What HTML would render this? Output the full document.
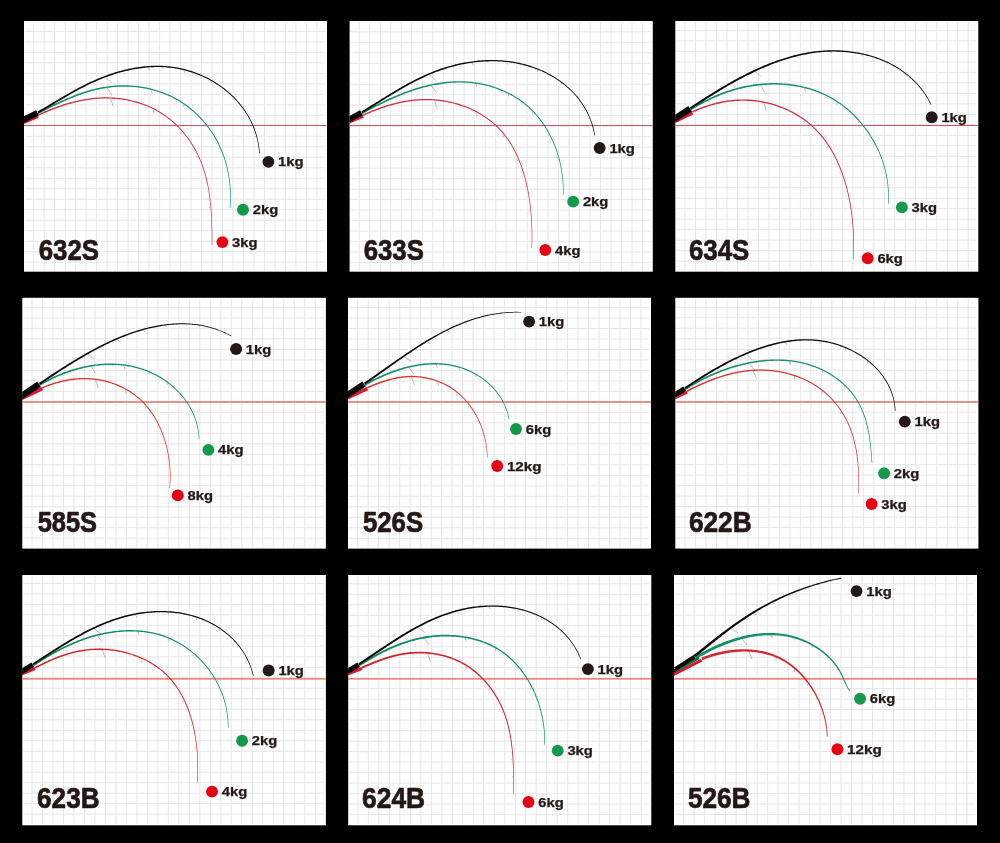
<!DOCTYPE html>
<html><head><meta charset="utf-8"><title>Bend curves</title>
<style>
html,body{margin:0;padding:0;background:#000;}
body{width:1000px;height:843px;overflow:hidden;font-family:"Liberation Sans",sans-serif;}
svg{display:block;will-change:transform;}
.kg{font-family:"Liberation Sans",sans-serif;font-weight:bold;font-size:12.2px;fill:#231815;stroke:#231815;stroke-width:0.25px;}
.lab{font-family:"Liberation Sans",sans-serif;font-weight:bold;font-size:29px;fill:#231815;stroke:#231815;stroke-width:0.7px;stroke-linejoin:round;}
</style></head><body>
<svg width="1000" height="843" viewBox="0 0 1000 843">
<rect x="0" y="0" width="1000" height="843" fill="#000"/>
<g>
<rect x="24.00" y="21.00" width="303.00" height="250.70" fill="#fff"/>
<path d="M33.70 22.00V270.70M44.19 22.00V270.70M54.68 22.00V270.70M65.17 22.00V270.70M75.66 22.00V270.70M86.15 22.00V270.70M96.64 22.00V270.70M107.13 22.00V270.70M117.62 22.00V270.70M128.11 22.00V270.70M138.60 22.00V270.70M149.09 22.00V270.70M159.58 22.00V270.70M170.07 22.00V270.70M180.56 22.00V270.70M191.05 22.00V270.70M201.54 22.00V270.70M212.03 22.00V270.70M222.52 22.00V270.70M233.01 22.00V270.70M243.50 22.00V270.70M253.99 22.00V270.70M264.48 22.00V270.70M274.97 22.00V270.70M285.46 22.00V270.70M295.95 22.00V270.70M306.44 22.00V270.70M316.93 22.00V270.70M25.00 31.40H325.00M25.00 41.89H325.00M25.00 52.38H325.00M25.00 62.87H325.00M25.00 73.36H325.00M25.00 83.85H325.00M25.00 94.34H325.00M25.00 104.83H325.00M25.00 115.32H325.00M25.00 125.81H325.00M25.00 136.30H325.00M25.00 146.79H325.00M25.00 157.28H325.00M25.00 167.77H325.00M25.00 178.26H325.00M25.00 188.75H325.00M25.00 199.24H325.00M25.00 209.73H325.00M25.00 220.22H325.00M25.00 230.71H325.00M25.00 241.20H325.00M25.00 251.69H325.00M25.00 262.18H325.00" stroke="#e6e6e6" stroke-width="1" fill="none"/>
<path d="M24.00 125.50H327.00" stroke="#cf5466" stroke-width="1.20" fill="none"/>
<path d="M38.07 115.94 L39.64 115.21 L41.23 114.48 L42.81 113.77 L44.41 113.07 L46.01 112.38 L47.62 111.70 L49.24 111.03 L50.86 110.38 L52.49 109.74 L54.12 109.11 L55.76 108.49 L57.41 107.89 L59.06 107.30 L60.72 106.73 L62.38 106.17 L64.05 105.63 L65.72 105.10 L67.39 104.59 L69.08 104.10 L70.76 103.63 L72.45 103.17 L74.15 102.73 L75.84 102.32 L77.55 101.92 L79.25 101.54 L80.96 101.18 L82.67 100.84 L84.39 100.52 L86.11 100.23 L87.83 99.95 L89.55 99.70 L91.28 99.48 L93.01 99.27 L94.74 99.09 L96.47 98.94 L98.21 98.81 L99.95 98.70 L101.69 98.62 L103.43 98.57 L105.17 98.54 L106.91 98.54 L108.66 98.56 L110.40 98.62 L112.14 98.70 L113.88 98.80 L115.62 98.94 L117.36 99.10 L119.10 99.29 L120.83 99.50 L122.55 99.74 L124.27 100.01 L125.99 100.31 L127.70 100.63 L129.41 100.98 L131.10 101.36 L132.79 101.76 L134.47 102.20 L136.14 102.65 L137.81 103.14 L139.46 103.65 L141.10 104.19 L142.73 104.76 L144.35 105.35 L145.96 105.98 L147.55 106.62 L149.13 107.30 L150.70 108.00 L152.25 108.73 L153.78 109.49 L155.30 110.28 L156.80 111.09 L158.29 111.93 L159.76 112.80 L161.21 113.69 L162.64 114.61 L164.05 115.56 L165.45 116.54 L166.83 117.54 L168.18 118.56 L169.52 119.61 L170.84 120.69 L172.14 121.79 L173.42 122.91 L174.68 124.05 L175.92 125.22 L177.15 126.41 L178.35 127.63 L179.53 128.86 L180.69 130.12 L181.83 131.39 L182.95 132.69 L184.04 134.01 L185.12 135.34 L186.17 136.70 L187.21 138.07 L188.22 139.46 L189.21 140.87 L190.18 142.30 L191.12 143.74 L192.04 145.20 L192.95 146.68 L193.82 148.17 L194.68 149.68 L195.51 151.20 L196.32 152.74 L197.10 154.29 L197.86 155.85 L198.60 157.43 L199.32 159.02 L200.01 160.62 L200.67 162.24 L201.31 163.87 L201.93 165.50 L202.52 167.15 L203.09 168.81 L203.63 170.48 L204.15 172.15 L204.65 173.84 L205.13 175.54 L205.58 177.24 L206.01 178.95 L206.42 180.67 L206.82 182.39 L207.19 184.13 L207.54 185.86 L207.87 187.61 L208.19 189.35 L208.49 191.11 L208.77 192.86 L209.03 194.62 L209.28 196.38 L209.51 198.15 L209.73 199.92 L209.93 201.69 L210.12 203.46 L210.30 205.23 L210.46 207.00 L210.61 208.78 L210.75 210.55 L210.88 212.32 L210.99 214.09 L211.10 215.86 L211.19 217.62 L211.28 219.38 L211.35 221.14 L211.42 222.90 L211.48 224.65 L211.54 226.40 L211.58 228.14 L211.62 229.88 L211.66 231.61 L211.69 233.33 L211.71 235.05 L211.73 236.76 L211.75 238.47 L211.76 240.16 L211.77 241.85 L211.78 243.52 L211.79 245.19 L212.34 245.19 L212.34 243.52 L212.33 241.85 L212.33 240.16 L212.32 238.46 L212.31 236.76 L212.30 235.05 L212.28 233.33 L212.26 231.60 L212.23 229.87 L212.19 228.13 L212.15 226.38 L212.11 224.63 L212.05 222.88 L211.99 221.12 L211.92 219.36 L211.84 217.59 L211.75 215.82 L211.65 214.05 L211.54 212.27 L211.42 210.50 L211.29 208.72 L211.14 206.94 L210.99 205.17 L210.82 203.39 L210.63 201.61 L210.43 199.84 L210.22 198.06 L209.99 196.29 L209.75 194.52 L209.49 192.75 L209.22 190.99 L208.92 189.23 L208.61 187.47 L208.28 185.72 L207.93 183.97 L207.57 182.23 L207.18 180.50 L206.77 178.77 L206.34 177.04 L205.89 175.33 L205.42 173.62 L204.92 171.92 L204.40 170.23 L203.86 168.55 L203.30 166.88 L202.71 165.22 L202.09 163.57 L201.45 161.93 L200.79 160.30 L200.10 158.68 L199.38 157.08 L198.64 155.48 L197.88 153.90 L197.10 152.34 L196.29 150.79 L195.45 149.25 L194.60 147.73 L193.72 146.22 L192.81 144.73 L191.89 143.25 L190.94 141.79 L189.97 140.35 L188.97 138.92 L187.96 137.52 L186.92 136.13 L185.86 134.76 L184.78 133.41 L183.67 132.07 L182.55 130.76 L181.40 129.47 L180.24 128.20 L179.05 126.95 L177.84 125.72 L176.61 124.51 L175.36 123.33 L174.09 122.17 L172.80 121.03 L171.49 119.91 L170.16 118.82 L168.81 117.76 L167.44 116.71 L166.05 115.70 L164.64 114.71 L163.21 113.75 L161.77 112.81 L160.30 111.90 L158.82 111.02 L157.32 110.16 L155.80 109.33 L154.27 108.54 L152.72 107.76 L151.15 107.02 L149.57 106.30 L147.97 105.61 L146.36 104.95 L144.74 104.32 L143.11 103.71 L141.46 103.14 L139.80 102.58 L138.13 102.06 L136.45 101.56 L134.77 101.10 L133.07 100.65 L131.36 100.24 L129.65 99.85 L127.93 99.50 L126.20 99.16 L124.47 98.86 L122.73 98.58 L120.98 98.33 L119.23 98.11 L117.48 97.92 L115.73 97.75 L113.97 97.61 L112.21 97.49 L110.45 97.41 L108.68 97.35 L106.92 97.32 L105.16 97.31 L103.40 97.34 L101.64 97.39 L99.88 97.46 L98.13 97.56 L96.37 97.69 L94.62 97.84 L92.87 98.02 L91.12 98.22 L89.38 98.45 L87.64 98.69 L85.90 98.97 L84.17 99.26 L82.43 99.57 L80.70 99.91 L78.98 100.27 L77.26 100.65 L75.54 101.04 L73.83 101.46 L72.12 101.90 L70.41 102.35 L68.71 102.83 L67.02 103.32 L65.33 103.83 L63.64 104.35 L61.96 104.89 L60.28 105.45 L58.61 106.02 L56.95 106.61 L55.29 107.21 L53.64 107.83 L51.99 108.46 L50.35 109.10 L48.72 109.76 L47.09 110.43 L45.47 111.11 L43.86 111.80 L42.25 112.50 L40.65 113.21 L39.06 113.94 L37.48 114.67Z" fill="#d42d41"/>
<path d="M38.21 114.14 L39.74 113.34 L41.27 112.54 L42.80 111.75 L44.34 110.95 L45.88 110.16 L47.42 109.37 L48.97 108.59 L50.52 107.81 L52.08 107.04 L53.64 106.27 L55.20 105.51 L56.77 104.75 L58.34 104.01 L59.91 103.27 L61.49 102.54 L63.07 101.82 L64.66 101.10 L66.25 100.40 L67.84 99.71 L69.44 99.03 L71.04 98.37 L72.64 97.71 L74.25 97.07 L75.86 96.44 L77.48 95.83 L79.10 95.23 L80.72 94.65 L82.35 94.08 L83.99 93.53 L85.62 92.99 L87.26 92.48 L88.91 91.98 L90.56 91.50 L92.21 91.04 L93.87 90.60 L95.53 90.18 L97.19 89.78 L98.86 89.41 L100.54 89.05 L102.22 88.72 L103.90 88.41 L105.59 88.13 L107.28 87.87 L108.97 87.63 L110.67 87.42 L112.38 87.24 L114.08 87.08 L115.79 86.94 L117.50 86.83 L119.22 86.75 L120.93 86.69 L122.65 86.65 L124.37 86.64 L126.08 86.66 L127.80 86.70 L129.51 86.77 L131.23 86.86 L132.94 86.98 L134.65 87.12 L136.35 87.29 L138.06 87.49 L139.76 87.71 L141.45 87.96 L143.14 88.23 L144.83 88.53 L146.51 88.85 L148.18 89.20 L149.85 89.58 L151.51 89.98 L153.16 90.41 L154.81 90.87 L156.44 91.35 L158.07 91.86 L159.69 92.39 L161.30 92.95 L162.89 93.54 L164.48 94.15 L166.06 94.79 L167.62 95.46 L169.18 96.15 L170.72 96.87 L172.25 97.62 L173.76 98.39 L175.26 99.19 L176.75 100.02 L178.22 100.87 L179.67 101.75 L181.12 102.65 L182.54 103.58 L183.96 104.54 L185.35 105.51 L186.73 106.52 L188.09 107.54 L189.44 108.59 L190.77 109.66 L192.08 110.76 L193.37 111.87 L194.65 113.01 L195.91 114.17 L197.14 115.35 L198.36 116.55 L199.57 117.78 L200.75 119.02 L201.91 120.28 L203.05 121.56 L204.17 122.86 L205.27 124.18 L206.35 125.51 L207.41 126.87 L208.44 128.24 L209.46 129.63 L210.45 131.03 L211.42 132.45 L212.37 133.89 L213.29 135.34 L214.19 136.81 L215.07 138.29 L215.92 139.79 L216.75 141.30 L217.55 142.82 L218.33 144.36 L219.08 145.91 L219.81 147.48 L220.51 149.05 L221.19 150.64 L221.84 152.24 L222.46 153.85 L223.06 155.47 L223.64 157.10 L224.19 158.74 L224.71 160.38 L225.21 162.04 L225.69 163.71 L226.14 165.38 L226.57 167.06 L226.97 168.74 L227.35 170.44 L227.70 172.14 L228.03 173.84 L228.33 175.55 L228.62 177.26 L228.87 178.98 L229.11 180.70 L229.32 182.42 L229.51 184.14 L229.67 185.87 L229.82 187.60 L229.93 189.33 L230.03 191.06 L230.10 192.79 L230.16 194.52 L230.18 196.25 L230.19 197.97 L230.18 199.70 L230.14 201.42 L230.08 203.14 L230.00 204.86 L229.89 206.57 L229.77 208.28 L230.37 208.33 L230.50 206.61 L230.61 204.89 L230.70 203.17 L230.77 201.44 L230.81 199.71 L230.84 197.98 L230.84 196.24 L230.82 194.50 L230.78 192.76 L230.71 191.03 L230.62 189.29 L230.51 187.55 L230.37 185.81 L230.22 184.07 L230.03 182.34 L229.83 180.60 L229.60 178.87 L229.35 177.15 L229.07 175.42 L228.77 173.70 L228.45 171.99 L228.10 170.28 L227.73 168.57 L227.33 166.87 L226.91 165.18 L226.47 163.49 L225.99 161.81 L225.50 160.14 L224.98 158.48 L224.43 156.83 L223.86 155.18 L223.26 153.55 L222.64 151.92 L221.99 150.31 L221.31 148.70 L220.61 147.11 L219.89 145.53 L219.13 143.97 L218.36 142.41 L217.55 140.87 L216.72 139.34 L215.87 137.83 L214.99 136.33 L214.09 134.84 L213.17 133.38 L212.22 131.92 L211.24 130.48 L210.25 129.06 L209.23 127.66 L208.19 126.27 L207.13 124.90 L206.05 123.54 L204.94 122.21 L203.82 120.89 L202.67 119.59 L201.50 118.31 L200.32 117.05 L199.11 115.82 L197.88 114.60 L196.63 113.40 L195.37 112.22 L194.09 111.06 L192.78 109.93 L191.46 108.82 L190.12 107.73 L188.77 106.66 L187.39 105.62 L186.00 104.60 L184.60 103.61 L183.17 102.64 L181.73 101.69 L180.28 100.77 L178.81 99.87 L177.32 99.01 L175.82 98.16 L174.31 97.35 L172.78 96.56 L171.23 95.80 L169.68 95.06 L168.11 94.35 L166.53 93.67 L164.93 93.02 L163.33 92.39 L161.72 91.79 L160.09 91.22 L158.45 90.67 L156.81 90.15 L155.15 89.65 L153.49 89.19 L151.82 88.74 L150.14 88.33 L148.46 87.94 L146.77 87.58 L145.07 87.24 L143.36 86.94 L141.65 86.65 L139.94 86.40 L138.22 86.16 L136.50 85.96 L134.77 85.78 L133.04 85.63 L131.31 85.50 L129.58 85.40 L127.84 85.33 L126.11 85.28 L124.37 85.25 L122.63 85.26 L120.90 85.28 L119.16 85.34 L117.43 85.42 L115.69 85.52 L113.96 85.65 L112.23 85.81 L110.51 85.99 L108.79 86.20 L107.07 86.43 L105.36 86.69 L103.65 86.97 L101.94 87.27 L100.24 87.60 L98.55 87.95 L96.86 88.33 L95.17 88.73 L93.49 89.14 L91.82 89.58 L90.14 90.04 L88.48 90.52 L86.81 91.01 L85.16 91.53 L83.50 92.06 L81.85 92.61 L80.21 93.18 L78.57 93.76 L76.93 94.36 L75.30 94.97 L73.67 95.60 L72.05 96.24 L70.43 96.89 L68.82 97.56 L67.21 98.24 L65.60 98.93 L64.00 99.63 L62.41 100.34 L60.81 101.06 L59.23 101.79 L57.64 102.53 L56.06 103.27 L54.49 104.02 L52.91 104.78 L51.35 105.55 L49.78 106.32 L48.22 107.10 L46.67 107.88 L45.12 108.67 L43.57 109.45 L42.03 110.25 L40.49 111.04 L38.95 111.83 L37.42 112.63Z" fill="#0f9169"/>
<path d="M38.34 113.17 L39.85 112.32 L41.36 111.46 L42.87 110.59 L44.38 109.72 L45.88 108.84 L47.38 107.96 L48.87 107.07 L50.37 106.18 L51.86 105.29 L53.35 104.40 L54.85 103.50 L56.34 102.61 L57.83 101.71 L59.32 100.82 L60.81 99.93 L62.31 99.04 L63.80 98.15 L65.30 97.27 L66.80 96.39 L68.31 95.52 L69.81 94.65 L71.32 93.78 L72.84 92.93 L74.35 92.08 L75.88 91.24 L77.41 90.40 L78.94 89.58 L80.48 88.77 L82.02 87.96 L83.57 87.16 L85.12 86.38 L86.68 85.60 L88.25 84.84 L89.82 84.09 L91.39 83.34 L92.97 82.61 L94.56 81.90 L96.15 81.19 L97.74 80.50 L99.34 79.82 L100.95 79.15 L102.56 78.50 L104.18 77.87 L105.80 77.24 L107.43 76.64 L109.07 76.04 L110.71 75.47 L112.35 74.91 L114.00 74.36 L115.66 73.84 L117.32 73.33 L118.99 72.83 L120.66 72.36 L122.34 71.90 L124.02 71.46 L125.71 71.04 L127.41 70.64 L129.11 70.26 L130.82 69.90 L132.53 69.56 L134.24 69.24 L135.96 68.94 L137.68 68.66 L139.41 68.41 L141.14 68.17 L142.87 67.96 L144.60 67.77 L146.34 67.60 L148.07 67.45 L149.81 67.33 L151.55 67.23 L153.29 67.16 L155.03 67.11 L156.77 67.08 L158.50 67.08 L160.24 67.11 L161.98 67.16 L163.71 67.24 L165.44 67.34 L167.17 67.47 L168.90 67.63 L170.63 67.81 L172.35 68.02 L174.07 68.26 L175.78 68.53 L177.49 68.82 L179.20 69.15 L180.90 69.50 L182.59 69.88 L184.28 70.28 L185.96 70.72 L187.64 71.18 L189.30 71.67 L190.96 72.18 L192.61 72.72 L194.26 73.29 L195.89 73.89 L197.51 74.51 L199.13 75.15 L200.73 75.82 L202.32 76.52 L203.90 77.24 L205.46 77.99 L207.02 78.76 L208.56 79.55 L210.08 80.38 L211.60 81.22 L213.10 82.09 L214.58 82.98 L216.05 83.90 L217.50 84.84 L218.93 85.80 L220.35 86.78 L221.75 87.79 L223.14 88.82 L224.50 89.88 L225.85 90.95 L227.17 92.05 L228.48 93.17 L229.77 94.31 L231.03 95.47 L232.28 96.66 L233.50 97.86 L234.70 99.08 L235.88 100.33 L237.04 101.60 L238.17 102.88 L239.28 104.19 L240.36 105.52 L241.42 106.86 L242.45 108.23 L243.46 109.61 L244.44 111.02 L245.39 112.44 L246.32 113.88 L247.22 115.34 L248.09 116.82 L248.93 118.31 L249.75 119.83 L250.53 121.36 L251.28 122.91 L252.00 124.47 L252.70 126.06 L253.36 127.66 L253.98 129.27 L254.58 130.91 L255.14 132.56 L255.67 134.22 L256.17 135.91 L256.63 137.60 L257.06 139.32 L257.45 141.04 L257.80 142.79 L258.12 144.55 L258.41 146.32 L258.65 148.11 L258.86 149.91 L259.03 151.73 L259.16 153.56 L259.81 153.52 L259.69 151.68 L259.52 149.84 L259.32 148.03 L259.08 146.22 L258.81 144.43 L258.49 142.66 L258.15 140.90 L257.76 139.15 L257.34 137.42 L256.88 135.71 L256.39 134.01 L255.86 132.32 L255.30 130.65 L254.71 129.00 L254.08 127.37 L253.42 125.75 L252.73 124.15 L252.01 122.56 L251.26 121.00 L250.48 119.45 L249.66 117.91 L248.82 116.40 L247.95 114.90 L247.05 113.42 L246.12 111.96 L245.16 110.52 L244.18 109.10 L243.17 107.70 L242.13 106.31 L241.07 104.95 L239.98 103.61 L238.87 102.28 L237.73 100.98 L236.57 99.69 L235.39 98.43 L234.18 97.18 L232.95 95.96 L231.70 94.76 L230.43 93.58 L229.13 92.42 L227.82 91.29 L226.48 90.17 L225.13 89.08 L223.76 88.01 L222.37 86.96 L220.96 85.94 L219.53 84.93 L218.08 83.96 L216.62 83.00 L215.14 82.07 L213.65 81.16 L212.14 80.27 L210.61 79.41 L209.08 78.58 L207.52 77.77 L205.96 76.98 L204.38 76.22 L202.78 75.48 L201.18 74.77 L199.57 74.08 L197.94 73.42 L196.30 72.79 L194.65 72.18 L193.00 71.60 L191.33 71.05 L189.65 70.52 L187.97 70.02 L186.28 69.54 L184.58 69.09 L182.87 68.68 L181.16 68.28 L179.44 67.92 L177.72 67.59 L175.99 67.28 L174.26 67.00 L172.52 66.75 L170.78 66.53 L169.03 66.33 L167.29 66.17 L165.54 66.03 L163.78 65.92 L162.03 65.83 L160.27 65.77 L158.52 65.74 L156.76 65.73 L155.00 65.75 L153.24 65.79 L151.48 65.86 L149.73 65.95 L147.97 66.07 L146.21 66.20 L144.46 66.37 L142.71 66.55 L140.96 66.76 L139.21 66.99 L137.47 67.24 L135.72 67.52 L133.99 67.81 L132.25 68.13 L130.52 68.46 L128.80 68.82 L127.08 69.20 L125.37 69.60 L123.66 70.01 L121.95 70.45 L120.26 70.90 L118.57 71.37 L116.88 71.86 L115.20 72.37 L113.53 72.90 L111.86 73.44 L110.20 74.00 L108.54 74.57 L106.89 75.16 L105.25 75.77 L103.61 76.39 L101.98 77.02 L100.35 77.67 L98.73 78.34 L97.11 79.02 L95.50 79.71 L93.89 80.41 L92.29 81.13 L90.70 81.86 L89.11 82.60 L87.53 83.35 L85.95 84.11 L84.38 84.89 L82.81 85.67 L81.25 86.47 L79.69 87.27 L78.14 88.08 L76.60 88.91 L75.06 89.74 L73.52 90.58 L72.00 91.43 L70.47 92.28 L68.95 93.14 L67.44 94.01 L65.92 94.88 L64.42 95.76 L62.91 96.64 L61.41 97.52 L59.91 98.41 L58.41 99.29 L56.91 100.18 L55.42 101.07 L53.93 101.96 L52.43 102.85 L50.94 103.74 L49.44 104.62 L47.95 105.51 L46.45 106.39 L44.96 107.26 L43.46 108.13 L41.95 109.00 L40.45 109.86 L38.94 110.71 L37.43 111.56Z" fill="#0c0908"/>
<path d="M110.39 98.81L113.46 106.48M153.66 109.73L153.67 113.20M181.59 131.60L180.74 133.93M197.53 156.01L196.50 157.58M206.41 182.48L205.37 183.55M210.00 207.04L209.20 207.79M211.04 226.41L210.47 226.99M107.29 87.94L111.70 94.93M151.47 90.14L152.23 93.53M183.82 104.73L183.57 107.19M205.04 124.37L204.41 126.14M219.48 147.62L218.69 148.89M226.94 170.52L226.23 171.36M229.48 189.35L228.92 189.95M105.81 77.25L111.62 83.13M148.08 67.56L149.88 70.53M184.23 70.47L184.87 72.86M211.47 81.44L211.52 83.32M233.27 98.09L232.97 99.54M248.60 118.50L248.16 119.51M255.75 136.02L255.34 136.72" stroke="#6f6f6f" stroke-opacity="0.5" stroke-width="0.9" fill="none"/>
<g clip-path="url(#cp1)">
<path d="M21.00 123.30L38.00 116.10" stroke="#d81a30" stroke-width="3.60" fill="none"/>
<path d="M21.00 120.80L37.00 112.60" stroke="#0a6e3e" stroke-width="2.90" fill="none"/>
<path d="M21.00 121.00L37.40 112.80" stroke="#070505" stroke-width="5.80" fill="none"/>
</g>
<clipPath id="cp1"><rect x="24.00" y="21.00" width="303.00" height="250.70"/></clipPath>
<circle cx="268.40" cy="161.90" r="5.95" fill="#231815"/>
<text x="278.10" y="166.40" textLength="25.50" lengthAdjust="spacingAndGlyphs" class="kg">1kg</text>
<circle cx="243.00" cy="209.70" r="5.95" fill="#12994a"/>
<text x="252.70" y="214.20" textLength="25.50" lengthAdjust="spacingAndGlyphs" class="kg">2kg</text>
<circle cx="222.40" cy="242.10" r="5.95" fill="#e60012"/>
<text x="232.10" y="246.60" textLength="25.50" lengthAdjust="spacingAndGlyphs" class="kg">3kg</text>
<text x="38.70" y="259.90" textLength="60.30" lengthAdjust="spacingAndGlyphs" class="lab">632S</text>
</g>
<g>
<rect x="349.60" y="21.00" width="303.20" height="250.70" fill="#fff"/>
<path d="M359.30 22.00V270.70M369.79 22.00V270.70M380.28 22.00V270.70M390.77 22.00V270.70M401.26 22.00V270.70M411.75 22.00V270.70M422.24 22.00V270.70M432.73 22.00V270.70M443.22 22.00V270.70M453.71 22.00V270.70M464.20 22.00V270.70M474.69 22.00V270.70M485.18 22.00V270.70M495.67 22.00V270.70M506.16 22.00V270.70M516.65 22.00V270.70M527.14 22.00V270.70M537.63 22.00V270.70M548.12 22.00V270.70M558.61 22.00V270.70M569.10 22.00V270.70M579.59 22.00V270.70M590.08 22.00V270.70M600.57 22.00V270.70M611.06 22.00V270.70M621.55 22.00V270.70M632.04 22.00V270.70M642.53 22.00V270.70M350.60 31.80H650.80M350.60 42.29H650.80M350.60 52.78H650.80M350.60 63.27H650.80M350.60 73.76H650.80M350.60 84.25H650.80M350.60 94.74H650.80M350.60 105.23H650.80M350.60 115.72H650.80M350.60 126.21H650.80M350.60 136.70H650.80M350.60 147.19H650.80M350.60 157.68H650.80M350.60 168.17H650.80M350.60 178.66H650.80M350.60 189.15H650.80M350.60 199.64H650.80M350.60 210.13H650.80M350.60 220.62H650.80M350.60 231.11H650.80M350.60 241.60H650.80M350.60 252.09H650.80M350.60 262.58H650.80" stroke="#e6e6e6" stroke-width="1" fill="none"/>
<path d="M349.60 125.50H652.80" stroke="#cf5466" stroke-width="1.20" fill="none"/>
<path d="M363.10 115.92 L364.66 115.22 L366.23 114.52 L367.80 113.84 L369.38 113.17 L370.96 112.51 L372.55 111.86 L374.15 111.22 L375.75 110.59 L377.36 109.98 L378.97 109.38 L380.59 108.80 L382.21 108.23 L383.84 107.67 L385.47 107.14 L387.11 106.61 L388.75 106.11 L390.40 105.62 L392.05 105.15 L393.71 104.69 L395.37 104.26 L397.04 103.84 L398.71 103.45 L400.38 103.07 L402.06 102.72 L403.74 102.38 L405.42 102.07 L407.11 101.78 L408.80 101.51 L410.50 101.26 L412.19 101.04 L413.90 100.84 L415.60 100.67 L417.31 100.52 L419.02 100.40 L420.73 100.30 L422.44 100.23 L424.16 100.18 L425.88 100.16 L427.60 100.17 L429.33 100.21 L431.05 100.28 L432.78 100.37 L434.50 100.49 L436.22 100.63 L437.94 100.80 L439.66 101.00 L441.38 101.23 L443.09 101.48 L444.80 101.76 L446.51 102.07 L448.21 102.40 L449.90 102.76 L451.59 103.14 L453.27 103.55 L454.94 103.99 L456.60 104.45 L458.26 104.94 L459.90 105.45 L461.54 105.99 L463.16 106.56 L464.78 107.15 L466.38 107.76 L467.97 108.40 L469.54 109.07 L471.11 109.76 L472.65 110.48 L474.19 111.22 L475.70 111.99 L477.20 112.78 L478.69 113.60 L480.16 114.44 L481.61 115.30 L483.04 116.19 L484.45 117.11 L485.84 118.05 L487.21 119.01 L488.56 119.99 L489.89 121.01 L491.20 122.04 L492.48 123.10 L493.75 124.18 L494.98 125.29 L496.20 126.42 L497.38 127.57 L498.55 128.75 L499.68 129.95 L500.80 131.17 L501.89 132.41 L502.96 133.68 L504.00 134.96 L505.02 136.27 L506.01 137.59 L506.99 138.94 L507.94 140.31 L508.87 141.69 L509.77 143.09 L510.66 144.51 L511.52 145.95 L512.36 147.40 L513.18 148.87 L513.98 150.36 L514.75 151.86 L515.51 153.38 L516.25 154.91 L516.96 156.45 L517.66 158.01 L518.33 159.58 L518.99 161.17 L519.62 162.76 L520.24 164.37 L520.84 165.99 L521.42 167.62 L521.98 169.26 L522.52 170.92 L523.04 172.58 L523.55 174.25 L524.04 175.92 L524.51 177.61 L524.96 179.30 L525.40 181.00 L525.82 182.71 L526.22 184.42 L526.61 186.14 L526.98 187.87 L527.33 189.59 L527.67 191.33 L527.99 193.07 L528.30 194.81 L528.59 196.55 L528.87 198.29 L529.14 200.04 L529.39 201.79 L529.62 203.54 L529.84 205.29 L530.05 207.04 L530.24 208.79 L530.42 210.54 L530.59 212.29 L530.74 214.04 L530.89 215.78 L531.02 217.52 L531.13 219.26 L531.24 221.00 L531.33 222.73 L531.42 224.45 L531.49 226.17 L531.55 227.89 L531.60 229.60 L531.63 231.30 L531.66 233.00 L531.68 234.68 L531.69 236.37 L531.69 238.04 L531.68 239.70 L531.65 241.36 L531.63 243.00 L531.59 244.63 L531.54 246.26 L531.49 247.87 L532.03 247.89 L532.10 246.28 L532.15 244.65 L532.19 243.01 L532.23 241.37 L532.25 239.71 L532.27 238.04 L532.28 236.37 L532.28 234.68 L532.27 232.99 L532.24 231.29 L532.21 229.58 L532.17 227.87 L532.11 226.15 L532.05 224.42 L531.97 222.69 L531.88 220.96 L531.78 219.22 L531.67 217.48 L531.55 215.73 L531.41 213.98 L531.26 212.23 L531.10 210.48 L530.93 208.72 L530.74 206.96 L530.54 205.21 L530.32 203.45 L530.09 201.69 L529.85 199.94 L529.59 198.18 L529.32 196.43 L529.03 194.68 L528.73 192.93 L528.41 191.19 L528.07 189.45 L527.72 187.71 L527.36 185.98 L526.97 184.25 L526.58 182.53 L526.16 180.81 L525.73 179.10 L525.28 177.40 L524.81 175.70 L524.33 174.02 L523.82 172.34 L523.30 170.67 L522.76 169.00 L522.20 167.35 L521.63 165.71 L521.03 164.08 L520.42 162.46 L519.78 160.85 L519.13 159.25 L518.45 157.66 L517.76 156.09 L517.04 154.53 L516.31 152.99 L515.55 151.46 L514.77 149.94 L513.97 148.44 L513.15 146.95 L512.31 145.48 L511.44 144.03 L510.56 142.60 L509.65 141.18 L508.71 139.78 L507.76 138.40 L506.78 137.03 L505.78 135.69 L504.75 134.37 L503.70 133.06 L502.63 131.78 L501.53 130.52 L500.40 129.28 L499.26 128.06 L498.08 126.87 L496.88 125.70 L495.66 124.55 L494.41 123.42 L493.14 122.32 L491.84 121.25 L490.52 120.20 L489.18 119.17 L487.82 118.17 L486.43 117.19 L485.03 116.24 L483.60 115.31 L482.16 114.40 L480.69 113.52 L479.21 112.67 L477.71 111.84 L476.20 111.03 L474.67 110.25 L473.12 109.50 L471.56 108.77 L469.98 108.06 L468.39 107.38 L466.79 106.73 L465.17 106.10 L463.54 105.50 L461.90 104.93 L460.25 104.37 L458.59 103.85 L456.92 103.35 L455.24 102.88 L453.55 102.43 L451.85 102.01 L450.15 101.62 L448.44 101.25 L446.72 100.91 L445.00 100.60 L443.28 100.31 L441.55 100.05 L439.81 99.82 L438.07 99.61 L436.34 99.43 L434.59 99.28 L432.85 99.16 L431.11 99.06 L429.36 98.99 L427.62 98.94 L425.88 98.93 L424.14 98.94 L422.40 98.98 L420.67 99.05 L418.94 99.14 L417.21 99.26 L415.48 99.41 L413.76 99.58 L412.04 99.78 L410.32 99.99 L408.61 100.24 L406.90 100.50 L405.20 100.79 L403.49 101.11 L401.80 101.44 L400.10 101.79 L398.41 102.17 L396.73 102.56 L395.05 102.98 L393.37 103.41 L391.70 103.87 L390.03 104.34 L388.37 104.82 L386.71 105.33 L385.06 105.85 L383.41 106.39 L381.77 106.95 L380.13 107.52 L378.50 108.10 L376.88 108.70 L375.26 109.31 L373.64 109.94 L372.04 110.58 L370.44 111.23 L368.84 111.89 L367.25 112.56 L365.67 113.25 L364.09 113.94 L362.53 114.64Z" fill="#d42d41"/>
<path d="M362.16 114.17 L363.66 113.33 L365.17 112.50 L366.68 111.67 L368.20 110.85 L369.73 110.03 L371.26 109.21 L372.80 108.40 L374.35 107.60 L375.90 106.80 L377.45 106.00 L379.02 105.22 L380.58 104.44 L382.16 103.66 L383.74 102.90 L385.32 102.14 L386.91 101.39 L388.50 100.65 L390.10 99.92 L391.71 99.20 L393.32 98.48 L394.93 97.78 L396.55 97.09 L398.17 96.41 L399.80 95.74 L401.43 95.09 L403.06 94.44 L404.70 93.81 L406.35 93.19 L407.99 92.59 L409.64 91.99 L411.30 91.42 L412.96 90.85 L414.62 90.30 L416.28 89.77 L417.95 89.26 L419.62 88.75 L421.30 88.27 L422.97 87.80 L424.65 87.35 L426.34 86.92 L428.02 86.50 L429.71 86.11 L431.40 85.73 L433.09 85.37 L434.79 85.03 L436.48 84.71 L438.18 84.42 L439.88 84.14 L441.59 83.88 L443.29 83.65 L445.00 83.43 L446.71 83.24 L448.41 83.07 L450.13 82.93 L451.84 82.80 L453.55 82.71 L455.26 82.63 L456.98 82.58 L458.70 82.56 L460.41 82.56 L462.13 82.58 L463.85 82.63 L465.57 82.71 L467.28 82.82 L469.00 82.95 L470.72 83.10 L472.43 83.28 L474.14 83.49 L475.85 83.73 L477.56 83.99 L479.26 84.28 L480.95 84.59 L482.64 84.93 L484.33 85.29 L486.00 85.68 L487.67 86.10 L489.34 86.55 L490.99 87.02 L492.64 87.51 L494.27 88.03 L495.90 88.58 L497.52 89.16 L499.12 89.76 L500.72 90.38 L502.30 91.04 L503.87 91.72 L505.43 92.42 L506.97 93.15 L508.50 93.91 L510.01 94.70 L511.51 95.51 L512.99 96.34 L514.46 97.20 L515.91 98.09 L517.34 99.01 L518.75 99.95 L520.14 100.92 L521.52 101.91 L522.87 102.93 L524.21 103.97 L525.52 105.05 L526.81 106.14 L528.09 107.27 L529.34 108.41 L530.57 109.59 L531.78 110.78 L532.96 112.00 L534.13 113.24 L535.27 114.51 L536.40 115.79 L537.50 117.10 L538.58 118.43 L539.63 119.77 L540.67 121.14 L541.68 122.53 L542.67 123.93 L543.64 125.36 L544.59 126.80 L545.51 128.26 L546.41 129.73 L547.29 131.23 L548.15 132.73 L548.98 134.25 L549.79 135.79 L550.58 137.34 L551.34 138.91 L552.08 140.48 L552.79 142.07 L553.49 143.68 L554.16 145.29 L554.80 146.92 L555.42 148.55 L556.02 150.20 L556.60 151.85 L557.15 153.51 L557.67 155.19 L558.17 156.87 L558.65 158.55 L559.10 160.25 L559.53 161.95 L559.93 163.66 L560.31 165.37 L560.66 167.09 L560.99 168.81 L561.29 170.53 L561.57 172.26 L561.82 173.99 L562.05 175.73 L562.25 177.46 L562.43 179.20 L562.58 180.94 L562.70 182.68 L562.80 184.42 L562.88 186.15 L562.92 187.89 L562.94 189.62 L562.94 191.35 L562.91 193.08 L562.85 194.81 L563.45 194.83 L563.51 193.10 L563.55 191.36 L563.57 189.62 L563.55 187.88 L563.52 186.13 L563.45 184.38 L563.36 182.64 L563.24 180.89 L563.10 179.14 L562.93 177.39 L562.73 175.65 L562.51 173.90 L562.27 172.16 L561.99 170.42 L561.70 168.68 L561.38 166.95 L561.03 165.22 L560.66 163.49 L560.26 161.77 L559.84 160.06 L559.39 158.35 L558.92 156.65 L558.42 154.96 L557.90 153.27 L557.35 151.60 L556.78 149.93 L556.19 148.27 L555.57 146.62 L554.93 144.98 L554.26 143.35 L553.57 141.74 L552.85 140.13 L552.12 138.54 L551.35 136.96 L550.57 135.39 L549.76 133.84 L548.93 132.30 L548.07 130.78 L547.19 129.27 L546.29 127.78 L545.36 126.30 L544.42 124.84 L543.44 123.40 L542.45 121.98 L541.43 120.58 L540.40 119.19 L539.33 117.83 L538.25 116.48 L537.14 115.15 L536.01 113.85 L534.86 112.57 L533.69 111.31 L532.50 110.07 L531.28 108.86 L530.04 107.67 L528.78 106.50 L527.50 105.36 L526.19 104.24 L524.87 103.15 L523.52 102.09 L522.15 101.05 L520.77 100.04 L519.36 99.05 L517.93 98.09 L516.49 97.16 L515.03 96.26 L513.55 95.38 L512.05 94.53 L510.54 93.70 L509.01 92.90 L507.47 92.13 L505.91 91.38 L504.34 90.66 L502.76 89.97 L501.16 89.30 L499.55 88.66 L497.93 88.04 L496.29 87.46 L494.65 86.90 L493.00 86.36 L491.33 85.85 L489.66 85.37 L487.98 84.91 L486.30 84.48 L484.60 84.08 L482.90 83.71 L481.19 83.36 L479.48 83.03 L477.76 82.73 L476.04 82.46 L474.31 82.22 L472.58 82.00 L470.85 81.81 L469.11 81.65 L467.38 81.51 L465.64 81.39 L463.90 81.31 L462.16 81.25 L460.43 81.22 L458.69 81.21 L456.95 81.23 L455.22 81.27 L453.48 81.34 L451.75 81.43 L450.02 81.55 L448.29 81.69 L446.56 81.85 L444.84 82.04 L443.11 82.25 L441.39 82.48 L439.67 82.73 L437.95 83.01 L436.23 83.30 L434.52 83.62 L432.80 83.95 L431.09 84.31 L429.39 84.68 L427.68 85.08 L425.98 85.49 L424.28 85.92 L422.58 86.37 L420.89 86.83 L419.20 87.32 L417.51 87.81 L415.83 88.33 L414.15 88.86 L412.48 89.41 L410.80 89.97 L409.13 90.54 L407.47 91.13 L405.81 91.74 L404.15 92.35 L402.50 92.99 L400.85 93.63 L399.21 94.28 L397.57 94.95 L395.93 95.63 L394.30 96.32 L392.68 97.02 L391.06 97.73 L389.44 98.45 L387.83 99.18 L386.23 99.92 L384.63 100.67 L383.03 101.43 L381.44 102.19 L379.86 102.96 L378.28 103.74 L376.71 104.53 L375.14 105.32 L373.58 106.12 L372.03 106.92 L370.48 107.73 L368.94 108.55 L367.40 109.37 L365.88 110.19 L364.35 111.02 L362.84 111.85 L361.33 112.68Z" fill="#0f9169"/>
<path d="M362.29 113.09 L363.79 112.19 L365.29 111.27 L366.79 110.35 L368.28 109.43 L369.78 108.51 L371.27 107.58 L372.76 106.65 L374.26 105.72 L375.75 104.79 L377.24 103.85 L378.73 102.92 L380.23 101.99 L381.72 101.05 L383.21 100.12 L384.71 99.19 L386.20 98.26 L387.70 97.33 L389.20 96.41 L390.70 95.48 L392.20 94.57 L393.71 93.65 L395.21 92.74 L396.72 91.84 L398.23 90.94 L399.75 90.05 L401.27 89.16 L402.79 88.28 L404.32 87.40 L405.85 86.54 L407.38 85.68 L408.92 84.83 L410.46 83.99 L412.01 83.16 L413.56 82.34 L415.11 81.53 L416.68 80.73 L418.24 79.94 L419.82 79.16 L421.40 78.39 L422.98 77.64 L424.57 76.90 L426.17 76.17 L427.78 75.46 L429.39 74.76 L431.01 74.08 L432.63 73.41 L434.26 72.75 L435.91 72.12 L437.56 71.50 L439.21 70.89 L440.88 70.30 L442.55 69.73 L444.23 69.18 L445.91 68.64 L447.60 68.12 L449.30 67.62 L451.00 67.13 L452.71 66.67 L454.42 66.22 L456.14 65.79 L457.87 65.37 L459.59 64.98 L461.32 64.61 L463.06 64.25 L464.80 63.92 L466.54 63.60 L468.29 63.30 L470.03 63.02 L471.78 62.77 L473.54 62.53 L475.29 62.31 L477.05 62.12 L478.80 61.94 L480.56 61.78 L482.32 61.65 L484.08 61.54 L485.84 61.45 L487.60 61.38 L489.36 61.33 L491.12 61.30 L492.88 61.30 L494.63 61.32 L496.39 61.36 L498.14 61.42 L499.89 61.51 L501.64 61.62 L503.39 61.75 L505.14 61.90 L506.88 62.08 L508.61 62.29 L510.35 62.51 L512.08 62.77 L513.81 63.04 L515.53 63.34 L517.24 63.67 L518.96 64.02 L520.66 64.39 L522.37 64.79 L524.06 65.22 L525.75 65.67 L527.43 66.14 L529.11 66.65 L530.78 67.17 L532.44 67.73 L534.09 68.30 L535.73 68.91 L537.37 69.54 L538.99 70.19 L540.60 70.87 L542.20 71.58 L543.79 72.31 L545.36 73.06 L546.92 73.84 L548.47 74.64 L550.00 75.47 L551.52 76.33 L553.02 77.21 L554.51 78.11 L555.98 79.04 L557.43 79.99 L558.86 80.97 L560.28 81.97 L561.67 82.99 L563.05 84.04 L564.41 85.11 L565.74 86.21 L567.06 87.33 L568.35 88.48 L569.62 89.65 L570.86 90.84 L572.09 92.05 L573.29 93.29 L574.46 94.56 L575.61 95.85 L576.73 97.16 L577.82 98.49 L578.89 99.85 L579.93 101.23 L580.95 102.63 L581.93 104.06 L582.88 105.51 L583.81 106.98 L584.70 108.48 L585.56 110.00 L586.39 111.54 L587.19 113.10 L587.96 114.69 L588.69 116.30 L589.39 117.94 L590.05 119.59 L590.68 121.27 L591.27 122.97 L591.83 124.69 L592.35 126.44 L592.83 128.21 L593.27 130.00 L593.68 131.81 L594.04 133.65 L594.37 135.51 L595.01 135.40 L594.69 133.53 L594.33 131.67 L593.93 129.84 L593.49 128.04 L593.02 126.25 L592.50 124.49 L591.95 122.75 L591.36 121.03 L590.73 119.33 L590.07 117.65 L589.37 116.00 L588.64 114.37 L587.88 112.77 L587.08 111.18 L586.25 109.62 L585.38 108.08 L584.49 106.57 L583.56 105.07 L582.61 103.60 L581.62 102.16 L580.60 100.73 L579.56 99.34 L578.49 97.96 L577.39 96.61 L576.26 95.28 L575.11 93.97 L573.93 92.69 L572.72 91.43 L571.49 90.20 L570.24 88.98 L568.96 87.80 L567.67 86.63 L566.34 85.50 L565.00 84.38 L563.64 83.29 L562.25 82.23 L560.85 81.18 L559.42 80.17 L557.98 79.17 L556.52 78.21 L555.04 77.26 L553.54 76.34 L552.03 75.45 L550.50 74.58 L548.96 73.73 L547.40 72.92 L545.82 72.12 L544.24 71.35 L542.64 70.61 L541.03 69.89 L539.40 69.19 L537.77 68.53 L536.12 67.88 L534.47 67.27 L532.80 66.67 L531.13 66.11 L529.45 65.57 L527.75 65.05 L526.06 64.56 L524.35 64.10 L522.64 63.66 L520.93 63.25 L519.20 62.86 L517.48 62.50 L515.74 62.17 L514.01 61.86 L512.26 61.57 L510.52 61.31 L508.77 61.07 L507.01 60.86 L505.26 60.67 L503.50 60.50 L501.73 60.36 L499.97 60.24 L498.20 60.15 L496.43 60.08 L494.66 60.03 L492.88 60.00 L491.11 60.00 L489.34 60.02 L487.56 60.06 L485.78 60.12 L484.01 60.20 L482.23 60.31 L480.45 60.44 L478.68 60.59 L476.91 60.76 L475.13 60.95 L473.36 61.16 L471.59 61.39 L469.83 61.64 L468.06 61.91 L466.30 62.21 L464.54 62.52 L462.78 62.85 L461.03 63.20 L459.28 63.57 L457.54 63.96 L455.80 64.37 L454.06 64.80 L452.33 65.24 L450.61 65.70 L448.89 66.19 L447.17 66.69 L445.46 67.20 L443.76 67.74 L442.07 68.29 L440.38 68.86 L438.70 69.45 L437.02 70.05 L435.36 70.67 L433.70 71.31 L432.05 71.96 L430.40 72.63 L428.77 73.31 L427.14 74.01 L425.52 74.72 L423.91 75.45 L422.30 76.19 L420.70 76.94 L419.11 77.70 L417.52 78.48 L415.94 79.27 L414.36 80.07 L412.79 80.88 L411.23 81.70 L409.67 82.53 L408.12 83.37 L406.57 84.22 L405.02 85.07 L403.48 85.94 L401.95 86.81 L400.42 87.69 L398.89 88.57 L397.36 89.46 L395.84 90.36 L394.33 91.26 L392.81 92.17 L391.30 93.08 L389.79 93.99 L388.28 94.91 L386.78 95.83 L385.27 96.76 L383.77 97.68 L382.27 98.61 L380.78 99.54 L379.28 100.47 L377.78 101.40 L376.29 102.33 L374.79 103.26 L373.30 104.18 L371.81 105.11 L370.31 106.03 L368.82 106.95 L367.32 107.87 L365.83 108.79 L364.33 109.70 L362.83 110.61 L361.33 111.51Z" fill="#0c0908"/>
<path d="M434.48 100.68L437.26 108.47M477.08 113.01L476.99 116.48M503.75 135.16L502.79 137.45M517.99 159.73L516.88 161.25M526.20 186.23L525.16 187.30M529.97 210.59L529.17 211.34M531.10 229.61L530.53 230.18M431.41 85.80L436.30 92.47M475.83 83.89L476.93 87.18M508.39 94.12L508.48 96.59M532.75 112.21L532.25 114.02M548.66 134.42L547.96 135.73M557.77 156.98L557.13 157.87M561.60 175.78L561.08 176.41M429.39 74.77L435.45 80.39M471.80 62.87L473.78 65.72M506.86 62.27L507.81 64.55M537.27 69.78L537.58 71.63M561.48 83.25L561.40 84.73M579.62 101.45L579.32 102.51M588.99 118.10L588.66 118.84" stroke="#6f6f6f" stroke-opacity="0.5" stroke-width="0.9" fill="none"/>
<g clip-path="url(#cp2)">
<path d="M346.60 122.80L363.00 116.10" stroke="#d81a30" stroke-width="3.60" fill="none"/>
<path d="M346.60 120.62L361.00 112.64" stroke="#0a6e3e" stroke-width="2.90" fill="none"/>
<path d="M346.60 120.82L361.40 112.82" stroke="#070505" stroke-width="5.80" fill="none"/>
</g>
<clipPath id="cp2"><rect x="349.60" y="21.00" width="303.20" height="250.70"/></clipPath>
<circle cx="599.70" cy="148.00" r="5.95" fill="#231815"/>
<text x="609.40" y="152.50" textLength="25.50" lengthAdjust="spacingAndGlyphs" class="kg">1kg</text>
<circle cx="573.20" cy="201.60" r="5.95" fill="#12994a"/>
<text x="582.90" y="206.10" textLength="25.50" lengthAdjust="spacingAndGlyphs" class="kg">2kg</text>
<circle cx="545.30" cy="250.00" r="5.95" fill="#e60012"/>
<text x="555.00" y="254.50" textLength="25.50" lengthAdjust="spacingAndGlyphs" class="kg">4kg</text>
<text x="363.70" y="260.10" textLength="60.20" lengthAdjust="spacingAndGlyphs" class="lab">633S</text>
</g>
<g>
<rect x="675.30" y="21.00" width="303.00" height="250.70" fill="#fff"/>
<path d="M685.00 22.00V270.70M695.49 22.00V270.70M705.98 22.00V270.70M716.47 22.00V270.70M726.96 22.00V270.70M737.45 22.00V270.70M747.94 22.00V270.70M758.43 22.00V270.70M768.92 22.00V270.70M779.41 22.00V270.70M789.90 22.00V270.70M800.39 22.00V270.70M810.88 22.00V270.70M821.37 22.00V270.70M831.86 22.00V270.70M842.35 22.00V270.70M852.84 22.00V270.70M863.33 22.00V270.70M873.82 22.00V270.70M884.31 22.00V270.70M894.80 22.00V270.70M905.29 22.00V270.70M915.78 22.00V270.70M926.27 22.00V270.70M936.76 22.00V270.70M947.25 22.00V270.70M957.74 22.00V270.70M968.23 22.00V270.70M676.30 30.40H976.30M676.30 40.89H976.30M676.30 51.38H976.30M676.30 61.87H976.30M676.30 72.36H976.30M676.30 82.85H976.30M676.30 93.34H976.30M676.30 103.83H976.30M676.30 114.32H976.30M676.30 124.81H976.30M676.30 135.30H976.30M676.30 145.79H976.30M676.30 156.28H976.30M676.30 166.77H976.30M676.30 177.26H976.30M676.30 187.75H976.30M676.30 198.24H976.30M676.30 208.73H976.30M676.30 219.22H976.30M676.30 229.71H976.30M676.30 240.20H976.30M676.30 250.69H976.30M676.30 261.18H976.30" stroke="#e6e6e6" stroke-width="1" fill="none"/>
<path d="M675.30 125.50H978.30" stroke="#cf5466" stroke-width="1.20" fill="none"/>
<path d="M692.72 112.55 L694.28 111.84 L695.85 111.15 L697.43 110.48 L699.01 109.83 L700.61 109.20 L702.21 108.59 L703.83 107.99 L705.45 107.42 L707.07 106.87 L708.71 106.35 L710.35 105.84 L712.00 105.35 L713.65 104.89 L715.31 104.45 L716.97 104.04 L718.64 103.65 L720.32 103.28 L722.00 102.93 L723.68 102.61 L725.37 102.32 L727.06 102.05 L728.75 101.80 L730.45 101.59 L732.15 101.39 L733.85 101.23 L735.56 101.09 L737.26 100.98 L738.97 100.90 L740.67 100.84 L742.38 100.81 L744.09 100.81 L745.80 100.84 L747.51 100.90 L749.21 100.99 L750.92 101.10 L752.62 101.24 L754.32 101.41 L756.02 101.61 L757.71 101.83 L759.40 102.08 L761.08 102.36 L762.76 102.67 L764.44 103.00 L766.11 103.36 L767.77 103.74 L769.42 104.15 L771.07 104.59 L772.71 105.05 L774.34 105.54 L775.96 106.06 L777.57 106.60 L779.17 107.17 L780.76 107.76 L782.34 108.37 L783.91 109.01 L785.47 109.68 L787.01 110.37 L788.55 111.08 L790.06 111.82 L791.57 112.59 L793.06 113.37 L794.53 114.19 L795.99 115.02 L797.43 115.88 L798.86 116.76 L800.27 117.67 L801.66 118.59 L803.03 119.54 L804.39 120.52 L805.73 121.51 L807.04 122.53 L808.34 123.57 L809.62 124.63 L810.87 125.72 L812.11 126.83 L813.32 127.95 L814.51 129.10 L815.68 130.27 L816.83 131.46 L817.96 132.68 L819.07 133.91 L820.16 135.16 L821.22 136.43 L822.27 137.71 L823.30 139.02 L824.30 140.34 L825.29 141.68 L826.26 143.04 L827.21 144.42 L828.14 145.81 L829.04 147.22 L829.93 148.64 L830.80 150.08 L831.66 151.53 L832.49 153.00 L833.30 154.48 L834.10 155.98 L834.88 157.49 L835.64 159.01 L836.38 160.55 L837.10 162.09 L837.81 163.65 L838.49 165.22 L839.16 166.80 L839.82 168.39 L840.45 170.00 L841.07 171.61 L841.67 173.23 L842.25 174.86 L842.82 176.50 L843.37 178.15 L843.91 179.80 L844.42 181.47 L844.93 183.14 L845.41 184.82 L845.88 186.50 L846.33 188.19 L846.77 189.89 L847.20 191.59 L847.60 193.29 L847.99 195.00 L848.37 196.72 L848.73 198.44 L849.08 200.16 L849.41 201.88 L849.73 203.61 L850.03 205.34 L850.32 207.07 L850.60 208.80 L850.86 210.54 L851.11 212.27 L851.34 214.01 L851.56 215.74 L851.77 217.48 L851.96 219.21 L852.14 220.94 L852.31 222.67 L852.46 224.40 L852.60 226.13 L852.73 227.85 L852.85 229.57 L852.95 231.29 L853.04 233.00 L853.12 234.71 L853.19 236.42 L853.24 238.12 L853.29 239.81 L853.32 241.50 L853.34 243.18 L853.35 244.85 L853.35 246.52 L853.34 248.18 L853.32 249.83 L853.28 251.48 L853.24 253.11 L853.18 254.74 L853.12 256.36 L853.04 257.97 L852.96 259.57 L853.56 259.60 L853.65 258.00 L853.73 256.39 L853.80 254.76 L853.86 253.13 L853.91 251.49 L853.95 249.85 L853.98 248.19 L854.00 246.52 L854.01 244.85 L854.01 243.17 L853.99 241.49 L853.97 239.79 L853.93 238.10 L853.88 236.39 L853.82 234.68 L853.75 232.97 L853.66 231.25 L853.56 229.53 L853.45 227.80 L853.33 226.07 L853.20 224.34 L853.05 222.61 L852.89 220.87 L852.72 219.13 L852.53 217.39 L852.33 215.65 L852.11 213.91 L851.89 212.17 L851.65 210.43 L851.39 208.68 L851.12 206.94 L850.84 205.20 L850.54 203.47 L850.23 201.73 L849.90 200.00 L849.56 198.27 L849.20 196.54 L848.83 194.82 L848.44 193.10 L848.04 191.38 L847.62 189.67 L847.19 187.97 L846.74 186.27 L846.27 184.57 L845.79 182.88 L845.29 181.20 L844.78 179.53 L844.25 177.86 L843.70 176.20 L843.14 174.55 L842.56 172.91 L841.96 171.28 L841.34 169.65 L840.71 168.04 L840.06 166.43 L839.39 164.84 L838.70 163.25 L838.00 161.68 L837.28 160.12 L836.54 158.57 L835.78 157.03 L835.00 155.51 L834.20 154.00 L833.39 152.50 L832.55 151.02 L831.70 149.55 L830.83 148.09 L829.93 146.66 L829.02 145.23 L828.09 143.82 L827.14 142.43 L826.17 141.05 L825.17 139.70 L824.16 138.35 L823.13 137.03 L822.07 135.73 L821.00 134.44 L819.90 133.17 L818.79 131.92 L817.65 130.69 L816.49 129.48 L815.31 128.29 L814.11 127.13 L812.88 125.98 L811.64 124.85 L810.37 123.75 L809.08 122.67 L807.77 121.61 L806.44 120.57 L805.09 119.56 L803.72 118.57 L802.33 117.60 L800.93 116.66 L799.50 115.74 L798.06 114.84 L796.61 113.97 L795.13 113.12 L793.64 112.29 L792.14 111.49 L790.62 110.71 L789.09 109.96 L787.54 109.23 L785.98 108.52 L784.40 107.84 L782.82 107.19 L781.22 106.56 L779.61 105.96 L777.99 105.38 L776.36 104.83 L774.72 104.30 L773.08 103.80 L771.42 103.32 L769.75 102.88 L768.08 102.45 L766.40 102.06 L764.71 101.69 L763.02 101.35 L761.32 101.03 L759.61 100.75 L757.90 100.49 L756.19 100.25 L754.47 100.05 L752.75 99.87 L751.02 99.72 L749.29 99.60 L747.57 99.51 L745.84 99.44 L744.10 99.41 L742.37 99.40 L740.64 99.43 L738.91 99.48 L737.18 99.56 L735.45 99.66 L733.73 99.80 L732.00 99.96 L730.28 100.15 L728.56 100.37 L726.84 100.61 L725.13 100.88 L723.42 101.17 L721.72 101.49 L720.01 101.83 L718.32 102.20 L716.63 102.59 L714.94 103.01 L713.26 103.45 L711.58 103.91 L709.92 104.40 L708.25 104.90 L706.60 105.43 L704.95 105.99 L703.31 106.56 L701.68 107.15 L700.06 107.77 L698.44 108.40 L696.83 109.06 L695.24 109.74 L693.65 110.43 L692.08 111.14Z" fill="#d42d41"/>
<path d="M691.06 110.25 L692.53 109.35 L694.00 108.46 L695.48 107.58 L696.97 106.72 L698.47 105.86 L699.98 105.02 L701.49 104.19 L703.01 103.38 L704.54 102.57 L706.08 101.78 L707.62 101.01 L709.18 100.24 L710.74 99.50 L712.31 98.76 L713.88 98.04 L715.46 97.34 L717.05 96.66 L718.65 95.98 L720.25 95.33 L721.86 94.69 L723.48 94.07 L725.10 93.47 L726.74 92.89 L728.37 92.32 L730.02 91.77 L731.67 91.24 L733.33 90.73 L734.99 90.24 L736.66 89.77 L738.34 89.32 L740.02 88.89 L741.70 88.48 L743.39 88.09 L745.09 87.72 L746.79 87.37 L748.49 87.04 L750.20 86.73 L751.91 86.44 L753.63 86.17 L755.34 85.92 L757.06 85.70 L758.78 85.49 L760.50 85.31 L762.22 85.14 L763.95 85.00 L765.67 84.88 L767.40 84.78 L769.12 84.70 L770.85 84.65 L772.57 84.61 L774.29 84.60 L776.01 84.61 L777.73 84.64 L779.45 84.69 L781.16 84.77 L782.87 84.87 L784.58 84.99 L786.28 85.13 L787.98 85.30 L789.68 85.49 L791.37 85.70 L793.06 85.93 L794.74 86.19 L796.42 86.47 L798.09 86.77 L799.75 87.10 L801.41 87.45 L803.06 87.82 L804.71 88.22 L806.34 88.64 L807.97 89.09 L809.59 89.56 L811.21 90.05 L812.81 90.57 L814.40 91.11 L815.99 91.67 L817.56 92.26 L819.13 92.88 L820.68 93.52 L822.23 94.18 L823.76 94.87 L825.28 95.58 L826.79 96.32 L828.29 97.08 L829.77 97.87 L831.25 98.68 L832.71 99.52 L834.15 100.39 L835.59 101.28 L837.00 102.19 L838.41 103.13 L839.80 104.09 L841.18 105.07 L842.54 106.08 L843.89 107.11 L845.22 108.16 L846.53 109.24 L847.84 110.34 L849.12 111.45 L850.39 112.59 L851.64 113.75 L852.88 114.93 L854.10 116.13 L855.30 117.35 L856.48 118.59 L857.65 119.84 L858.80 121.12 L859.93 122.41 L861.04 123.72 L862.13 125.05 L863.21 126.39 L864.27 127.75 L865.30 129.13 L866.32 130.53 L867.32 131.93 L868.29 133.36 L869.25 134.80 L870.19 136.25 L871.10 137.72 L872.00 139.20 L872.87 140.69 L873.72 142.20 L874.55 143.72 L875.36 145.25 L876.14 146.80 L876.91 148.35 L877.65 149.92 L878.36 151.50 L879.06 153.09 L879.73 154.68 L880.38 156.29 L881.00 157.91 L881.60 159.54 L882.17 161.17 L882.72 162.81 L883.25 164.46 L883.74 166.12 L884.22 167.79 L884.67 169.46 L885.09 171.14 L885.49 172.83 L885.86 174.52 L886.20 176.21 L886.51 177.92 L886.80 179.62 L887.06 181.33 L887.30 183.05 L887.51 184.76 L887.68 186.49 L887.83 188.21 L887.95 189.94 L888.05 191.66 L888.11 193.40 L888.14 195.13 L888.15 196.86 L888.12 198.59 L888.07 200.33 L887.98 202.06 L887.86 203.80 L888.46 203.84 L888.59 202.10 L888.68 200.35 L888.75 198.61 L888.78 196.87 L888.79 195.12 L888.76 193.38 L888.71 191.64 L888.63 189.90 L888.51 188.16 L888.37 186.42 L888.20 184.69 L888.00 182.96 L887.78 181.23 L887.52 179.51 L887.24 177.79 L886.93 176.07 L886.59 174.36 L886.23 172.66 L885.84 170.96 L885.42 169.27 L884.98 167.58 L884.51 165.90 L884.02 164.23 L883.50 162.56 L882.95 160.91 L882.38 159.26 L881.79 157.61 L881.17 155.98 L880.53 154.36 L879.86 152.75 L879.17 151.14 L878.45 149.55 L877.72 147.97 L876.95 146.40 L876.17 144.84 L875.36 143.29 L874.54 141.75 L873.69 140.23 L872.81 138.72 L871.92 137.22 L871.00 135.74 L870.07 134.27 L869.11 132.81 L868.13 131.37 L867.13 129.94 L866.11 128.53 L865.08 127.14 L864.02 125.76 L862.94 124.40 L861.84 123.05 L860.73 121.73 L859.59 120.42 L858.44 119.12 L857.27 117.85 L856.08 116.59 L854.87 115.36 L853.65 114.14 L852.40 112.94 L851.14 111.77 L849.87 110.61 L848.58 109.47 L847.27 108.36 L845.94 107.27 L844.60 106.20 L843.24 105.15 L841.87 104.12 L840.48 103.12 L839.08 102.14 L837.67 101.19 L836.23 100.25 L834.79 99.35 L833.33 98.47 L831.86 97.61 L830.37 96.78 L828.87 95.97 L827.36 95.19 L825.83 94.44 L824.29 93.71 L822.75 93.01 L821.19 92.33 L819.62 91.67 L818.03 91.04 L816.44 90.44 L814.84 89.86 L813.23 89.30 L811.61 88.77 L809.98 88.27 L808.34 87.79 L806.70 87.33 L805.04 86.89 L803.38 86.48 L801.71 86.10 L800.03 85.74 L798.35 85.40 L796.66 85.08 L794.97 84.79 L793.27 84.52 L791.56 84.28 L789.85 84.06 L788.14 83.86 L786.42 83.68 L784.69 83.53 L782.97 83.40 L781.24 83.29 L779.50 83.21 L777.77 83.15 L776.03 83.11 L774.29 83.09 L772.55 83.10 L770.81 83.12 L769.07 83.17 L767.32 83.24 L765.58 83.34 L763.83 83.45 L762.09 83.59 L760.35 83.74 L758.61 83.92 L756.87 84.12 L755.13 84.35 L753.39 84.59 L751.66 84.85 L749.93 85.14 L748.20 85.44 L746.47 85.77 L744.75 86.12 L743.04 86.48 L741.33 86.87 L739.62 87.28 L737.92 87.71 L736.22 88.16 L734.53 88.63 L732.84 89.12 L731.16 89.63 L729.49 90.15 L727.83 90.70 L726.17 91.27 L724.52 91.85 L722.87 92.46 L721.24 93.08 L719.61 93.71 L717.98 94.37 L716.37 95.04 L714.76 95.73 L713.16 96.43 L711.56 97.15 L709.98 97.89 L708.40 98.64 L706.83 99.40 L705.27 100.18 L703.71 100.97 L702.17 101.78 L700.63 102.60 L699.10 103.43 L697.57 104.27 L696.06 105.13 L694.56 106.00 L693.06 106.88 L691.57 107.77 L690.09 108.67Z" fill="#0f9169"/>
<path d="M691.03 109.20 L692.45 108.25 L693.87 107.31 L695.30 106.36 L696.73 105.42 L698.17 104.48 L699.61 103.53 L701.05 102.59 L702.50 101.65 L703.95 100.71 L705.40 99.77 L706.86 98.84 L708.32 97.91 L709.78 96.98 L711.25 96.05 L712.72 95.13 L714.20 94.21 L715.68 93.29 L717.16 92.38 L718.65 91.47 L720.14 90.56 L721.63 89.66 L723.13 88.77 L724.63 87.87 L726.14 86.99 L727.64 86.11 L729.16 85.23 L730.67 84.37 L732.19 83.50 L733.71 82.65 L735.23 81.80 L736.76 80.95 L738.29 80.12 L739.83 79.29 L741.37 78.47 L742.91 77.66 L744.45 76.85 L746.00 76.05 L747.55 75.26 L749.11 74.48 L750.67 73.71 L752.23 72.95 L753.79 72.20 L755.36 71.46 L756.93 70.72 L758.50 70.00 L760.08 69.29 L761.66 68.58 L763.24 67.89 L764.83 67.21 L766.42 66.54 L768.01 65.88 L769.61 65.24 L771.20 64.60 L772.81 63.98 L774.41 63.37 L776.02 62.77 L777.63 62.19 L779.24 61.62 L780.85 61.06 L782.47 60.52 L784.09 59.99 L785.72 59.47 L787.34 58.97 L788.97 58.48 L790.61 58.01 L792.24 57.55 L793.88 57.10 L795.52 56.68 L797.16 56.26 L798.81 55.87 L800.46 55.49 L802.11 55.12 L803.76 54.78 L805.42 54.44 L807.08 54.13 L808.74 53.83 L810.40 53.56 L812.07 53.29 L813.74 53.05 L815.41 52.83 L817.09 52.62 L818.76 52.43 L820.44 52.26 L822.13 52.11 L823.81 51.98 L825.50 51.87 L827.19 51.78 L828.88 51.70 L830.57 51.65 L832.27 51.62 L833.97 51.61 L835.67 51.62 L837.37 51.65 L839.08 51.71 L840.78 51.78 L842.49 51.88 L844.19 51.99 L845.90 52.13 L847.60 52.29 L849.31 52.47 L851.01 52.68 L852.71 52.90 L854.41 53.15 L856.10 53.42 L857.79 53.71 L859.48 54.02 L861.16 54.36 L862.84 54.72 L864.51 55.10 L866.17 55.50 L867.83 55.92 L869.48 56.37 L871.13 56.85 L872.76 57.34 L874.39 57.86 L876.01 58.40 L877.62 58.96 L879.22 59.55 L880.81 60.16 L882.39 60.79 L883.96 61.45 L885.51 62.13 L887.06 62.84 L888.59 63.57 L890.11 64.32 L891.62 65.10 L893.11 65.90 L894.59 66.73 L896.05 67.58 L897.50 68.45 L898.93 69.35 L900.34 70.27 L901.74 71.22 L903.13 72.20 L904.49 73.19 L905.84 74.22 L907.16 75.26 L908.47 76.34 L909.76 77.44 L911.03 78.56 L912.28 79.71 L913.51 80.88 L914.72 82.09 L915.90 83.31 L917.07 84.56 L918.21 85.84 L919.32 87.15 L920.42 88.48 L921.49 89.83 L922.53 91.22 L923.55 92.63 L924.55 94.06 L925.52 95.53 L926.46 97.02 L927.38 98.53 L928.26 100.08 L929.13 101.65 L929.96 103.24 L930.76 104.87 L931.39 104.56 L930.59 102.92 L929.76 101.31 L928.90 99.72 L928.02 98.16 L927.10 96.62 L926.16 95.11 L925.19 93.63 L924.20 92.17 L923.17 90.75 L922.13 89.34 L921.06 87.97 L919.96 86.62 L918.84 85.29 L917.69 83.99 L916.53 82.72 L915.34 81.48 L914.13 80.26 L912.89 79.06 L911.64 77.89 L910.36 76.75 L909.07 75.63 L907.75 74.54 L906.41 73.47 L905.06 72.43 L903.69 71.42 L902.30 70.42 L900.89 69.46 L899.47 68.52 L898.02 67.60 L896.57 66.71 L895.10 65.84 L893.61 65.00 L892.11 64.18 L890.59 63.39 L889.06 62.62 L887.52 61.87 L885.96 61.15 L884.39 60.45 L882.81 59.78 L881.22 59.13 L879.62 58.50 L878.00 57.90 L876.38 57.32 L874.75 56.76 L873.11 56.23 L871.46 55.72 L869.80 55.24 L868.14 54.77 L866.47 54.33 L864.79 53.92 L863.10 53.52 L861.41 53.15 L859.72 52.80 L858.02 52.48 L856.31 52.17 L854.60 51.89 L852.89 51.63 L851.18 51.40 L849.46 51.18 L847.74 50.99 L846.02 50.82 L844.30 50.67 L842.57 50.54 L840.85 50.43 L839.13 50.35 L837.41 50.29 L835.69 50.25 L833.97 50.23 L832.25 50.23 L830.54 50.25 L828.83 50.29 L827.12 50.35 L825.41 50.44 L823.71 50.54 L822.01 50.66 L820.31 50.81 L818.61 50.97 L816.92 51.15 L815.23 51.35 L813.54 51.57 L811.85 51.80 L810.17 52.06 L808.48 52.33 L806.80 52.62 L805.13 52.93 L803.45 53.25 L801.78 53.59 L800.12 53.95 L798.45 54.33 L796.79 54.72 L795.13 55.12 L793.47 55.55 L791.82 55.99 L790.16 56.44 L788.52 56.91 L786.87 57.39 L785.23 57.89 L783.59 58.40 L781.95 58.93 L780.32 59.47 L778.68 60.02 L777.06 60.59 L775.43 61.17 L773.81 61.76 L772.19 62.37 L770.57 62.99 L768.96 63.62 L767.35 64.26 L765.74 64.91 L764.14 65.58 L762.54 66.26 L760.94 66.94 L759.35 67.64 L757.76 68.35 L756.17 69.07 L754.59 69.80 L753.01 70.54 L751.43 71.29 L749.86 72.05 L748.28 72.82 L746.72 73.60 L745.15 74.38 L743.59 75.17 L742.03 75.98 L740.48 76.79 L738.93 77.60 L737.38 78.43 L735.84 79.26 L734.30 80.10 L732.76 80.95 L731.23 81.80 L729.70 82.66 L728.18 83.53 L726.65 84.40 L725.14 85.28 L723.62 86.16 L722.11 87.05 L720.60 87.94 L719.10 88.84 L717.60 89.74 L716.10 90.64 L714.61 91.55 L713.12 92.47 L711.64 93.38 L710.16 94.30 L708.68 95.23 L707.21 96.15 L705.74 97.08 L704.27 98.01 L702.81 98.95 L701.35 99.88 L699.90 100.82 L698.45 101.76 L697.01 102.70 L695.56 103.64 L694.13 104.58 L692.69 105.52 L691.27 106.47 L689.84 107.41Z" fill="#0c0908"/>
<path d="M764.41 103.13L766.17 111.20M804.27 120.68L803.70 124.11M827.91 145.96L826.75 148.15M840.76 171.72L839.60 173.20M848.36 198.51L847.31 199.57M851.88 222.71L851.08 223.46M852.86 241.50L852.27 242.07M760.50 85.32L764.60 92.50M804.68 88.33L805.45 91.72M836.89 102.36L836.70 104.82M858.60 121.30L858.03 123.09M874.25 143.88L873.55 145.19M883.36 166.23L882.71 167.12M887.06 184.81L886.53 185.44M755.31 71.35L761.56 76.76M797.16 56.27L799.42 58.90M830.57 51.75L831.82 53.89M861.12 54.54L861.74 56.31M886.95 63.08L887.17 64.55M906.95 75.52L906.93 76.62M921.17 90.08L921.05 90.88" stroke="#6f6f6f" stroke-opacity="0.5" stroke-width="0.9" fill="none"/>
<g clip-path="url(#cp3)">
<path d="M672.40 122.30L692.50 112.60" stroke="#d81a30" stroke-width="3.97" fill="none"/>
<path d="M672.40 120.26L689.70 108.75" stroke="#0a6e3e" stroke-width="3.20" fill="none"/>
<path d="M672.40 120.14L690.10 108.69" stroke="#070505" stroke-width="6.40" fill="none"/>
</g>
<clipPath id="cp3"><rect x="675.30" y="21.00" width="303.00" height="250.70"/></clipPath>
<circle cx="931.70" cy="117.30" r="5.95" fill="#231815"/>
<text x="941.40" y="121.80" textLength="25.50" lengthAdjust="spacingAndGlyphs" class="kg">1kg</text>
<circle cx="901.90" cy="207.40" r="5.95" fill="#12994a"/>
<text x="911.60" y="211.90" textLength="25.50" lengthAdjust="spacingAndGlyphs" class="kg">3kg</text>
<circle cx="867.70" cy="258.30" r="5.95" fill="#e60012"/>
<text x="877.40" y="262.80" textLength="25.50" lengthAdjust="spacingAndGlyphs" class="kg">6kg</text>
<text x="688.90" y="260.10" textLength="60.40" lengthAdjust="spacingAndGlyphs" class="lab">634S</text>
</g>
<g>
<rect x="22.30" y="297.80" width="303.60" height="250.80" fill="#fff"/>
<path d="M32.00 298.80V547.60M42.49 298.80V547.60M52.98 298.80V547.60M63.47 298.80V547.60M73.96 298.80V547.60M84.45 298.80V547.60M94.94 298.80V547.60M105.43 298.80V547.60M115.92 298.80V547.60M126.41 298.80V547.60M136.90 298.80V547.60M147.39 298.80V547.60M157.88 298.80V547.60M168.37 298.80V547.60M178.86 298.80V547.60M189.35 298.80V547.60M199.84 298.80V547.60M210.33 298.80V547.60M220.82 298.80V547.60M231.31 298.80V547.60M241.80 298.80V547.60M252.29 298.80V547.60M262.78 298.80V547.60M273.27 298.80V547.60M283.76 298.80V547.60M294.25 298.80V547.60M304.74 298.80V547.60M315.23 298.80V547.60M23.30 307.40H323.90M23.30 317.89H323.90M23.30 328.38H323.90M23.30 338.87H323.90M23.30 349.36H323.90M23.30 359.85H323.90M23.30 370.34H323.90M23.30 380.83H323.90M23.30 391.32H323.90M23.30 401.81H323.90M23.30 412.30H323.90M23.30 422.79H323.90M23.30 433.28H323.90M23.30 443.77H323.90M23.30 454.26H323.90M23.30 464.75H323.90M23.30 475.24H323.90M23.30 485.73H323.90M23.30 496.22H323.90M23.30 506.71H323.90M23.30 517.20H323.90M23.30 527.69H323.90M23.30 538.18H323.90" stroke="#e6e6e6" stroke-width="1" fill="none"/>
<path d="M22.30 402.00H325.90" stroke="#de7468" stroke-width="1.45" fill="none"/>
<path d="M42.47 388.52 L43.65 388.03 L44.83 387.54 L46.02 387.07 L47.22 386.61 L48.41 386.16 L49.62 385.73 L50.83 385.30 L52.04 384.89 L53.26 384.49 L54.48 384.10 L55.70 383.73 L56.93 383.37 L58.16 383.02 L59.40 382.69 L60.63 382.37 L61.88 382.06 L63.12 381.77 L64.36 381.50 L65.61 381.24 L66.86 380.99 L68.11 380.76 L69.37 380.55 L70.62 380.35 L71.88 380.16 L73.14 380.00 L74.39 379.85 L75.65 379.72 L76.91 379.60 L78.17 379.50 L79.43 379.42 L80.69 379.36 L81.95 379.31 L83.20 379.28 L84.46 379.27 L85.72 379.28 L86.97 379.31 L88.22 379.35 L89.48 379.41 L90.73 379.49 L91.97 379.59 L93.22 379.71 L94.46 379.84 L95.70 379.99 L96.93 380.16 L98.17 380.34 L99.40 380.55 L100.62 380.77 L101.84 381.01 L103.06 381.26 L104.27 381.53 L105.47 381.82 L106.67 382.13 L107.87 382.45 L109.06 382.80 L110.24 383.15 L111.42 383.53 L112.59 383.92 L113.75 384.33 L114.91 384.76 L116.06 385.20 L117.20 385.66 L118.34 386.14 L119.46 386.63 L120.58 387.14 L121.69 387.67 L122.79 388.21 L123.88 388.77 L124.96 389.34 L126.04 389.94 L127.10 390.55 L128.15 391.17 L129.20 391.81 L130.23 392.47 L131.25 393.14 L132.26 393.83 L133.26 394.54 L134.25 395.26 L135.22 396.00 L136.19 396.76 L137.14 397.53 L138.08 398.31 L139.00 399.11 L139.92 399.93 L140.82 400.76 L141.70 401.61 L142.58 402.48 L143.44 403.36 L144.28 404.25 L145.11 405.17 L145.93 406.09 L146.73 407.03 L147.52 407.99 L148.30 408.96 L149.06 409.94 L149.81 410.93 L150.54 411.94 L151.26 412.96 L151.97 414.00 L152.66 415.04 L153.34 416.10 L154.00 417.17 L154.65 418.25 L155.29 419.34 L155.92 420.44 L156.53 421.55 L157.12 422.68 L157.70 423.81 L158.27 424.95 L158.83 426.10 L159.37 427.26 L159.90 428.42 L160.41 429.60 L160.91 430.78 L161.40 431.97 L161.87 433.17 L162.33 434.37 L162.78 435.58 L163.21 436.80 L163.63 438.02 L164.03 439.25 L164.42 440.48 L164.80 441.72 L165.17 442.97 L165.52 444.21 L165.85 445.46 L166.18 446.72 L166.49 447.98 L166.78 449.24 L167.07 450.50 L167.34 451.77 L167.59 453.04 L167.84 454.31 L168.07 455.58 L168.28 456.86 L168.49 458.13 L168.68 459.40 L168.85 460.68 L169.02 461.95 L169.17 463.23 L169.30 464.50 L169.43 465.78 L169.54 467.05 L169.63 468.32 L169.72 469.59 L169.79 470.85 L169.84 472.12 L169.89 473.38 L169.92 474.64 L169.93 475.89 L169.94 477.14 L169.93 478.39 L169.91 479.63 L169.87 480.87 L169.82 482.10 L169.76 483.32 L169.69 484.55 L169.60 485.76 L169.50 486.97 L169.39 488.17 L169.93 488.23 L170.05 487.02 L170.16 485.81 L170.26 484.58 L170.34 483.36 L170.41 482.12 L170.46 480.89 L170.50 479.64 L170.53 478.40 L170.55 477.14 L170.55 475.89 L170.54 474.63 L170.52 473.36 L170.48 472.09 L170.43 470.82 L170.36 469.55 L170.29 468.27 L170.20 467.00 L170.09 465.72 L169.98 464.44 L169.85 463.16 L169.70 461.87 L169.55 460.59 L169.38 459.31 L169.19 458.02 L168.99 456.74 L168.78 455.46 L168.56 454.18 L168.32 452.90 L168.07 451.62 L167.80 450.34 L167.53 449.07 L167.23 447.80 L166.93 446.53 L166.61 445.27 L166.28 444.01 L165.93 442.75 L165.57 441.49 L165.19 440.25 L164.81 439.00 L164.41 437.76 L163.99 436.53 L163.56 435.30 L163.12 434.08 L162.66 432.86 L162.19 431.65 L161.71 430.45 L161.21 429.26 L160.70 428.07 L160.17 426.89 L159.63 425.72 L159.08 424.56 L158.51 423.40 L157.93 422.26 L157.33 421.12 L156.72 420.00 L156.10 418.88 L155.46 417.78 L154.81 416.68 L154.14 415.60 L153.46 414.52 L152.76 413.46 L152.06 412.42 L151.33 411.38 L150.59 410.35 L149.84 409.34 L149.08 408.34 L148.30 407.36 L147.50 406.39 L146.69 405.43 L145.87 404.49 L145.03 403.56 L144.18 402.65 L143.31 401.75 L142.43 400.87 L141.54 400.00 L140.63 399.15 L139.71 398.32 L138.77 397.50 L137.82 396.70 L136.86 395.91 L135.89 395.14 L134.90 394.39 L133.90 393.65 L132.89 392.93 L131.87 392.23 L130.84 391.54 L129.79 390.87 L128.74 390.21 L127.67 389.57 L126.60 388.95 L125.51 388.34 L124.42 387.75 L123.31 387.18 L122.20 386.62 L121.07 386.08 L119.94 385.56 L118.80 385.05 L117.65 384.57 L116.50 384.09 L115.33 383.64 L114.16 383.20 L112.98 382.78 L111.80 382.38 L110.61 381.99 L109.41 381.62 L108.20 381.27 L106.99 380.94 L105.77 380.62 L104.55 380.32 L103.33 380.04 L102.09 379.77 L100.86 379.53 L99.61 379.30 L98.37 379.08 L97.12 378.89 L95.87 378.71 L94.61 378.56 L93.35 378.42 L92.09 378.29 L90.82 378.19 L89.55 378.10 L88.28 378.03 L87.01 377.98 L85.74 377.95 L84.46 377.94 L83.19 377.94 L81.91 377.96 L80.63 378.00 L79.35 378.06 L78.08 378.14 L76.80 378.24 L75.52 378.35 L74.24 378.48 L72.97 378.62 L71.69 378.79 L70.42 378.97 L69.14 379.16 L67.87 379.38 L66.60 379.60 L65.33 379.85 L64.07 380.11 L62.81 380.38 L61.54 380.67 L60.29 380.97 L59.03 381.29 L57.78 381.63 L56.53 381.97 L55.29 382.33 L54.05 382.71 L52.81 383.09 L51.58 383.49 L50.35 383.91 L49.12 384.33 L47.90 384.77 L46.69 385.22 L45.48 385.68 L44.28 386.16 L43.08 386.64 L41.89 387.14Z" fill="#d9352a"/>
<path d="M39.94 385.81 L41.04 385.17 L42.14 384.54 L43.25 383.91 L44.36 383.29 L45.49 382.68 L46.61 382.08 L47.75 381.48 L48.88 380.89 L50.03 380.32 L51.18 379.75 L52.33 379.19 L53.49 378.64 L54.65 378.10 L55.82 377.56 L56.99 377.04 L58.17 376.53 L59.35 376.02 L60.54 375.53 L61.73 375.04 L62.93 374.57 L64.13 374.10 L65.33 373.65 L66.53 373.20 L67.74 372.77 L68.96 372.34 L70.17 371.93 L71.39 371.53 L72.62 371.13 L73.84 370.75 L75.07 370.38 L76.30 370.02 L77.53 369.68 L78.77 369.34 L80.01 369.01 L81.25 368.70 L82.49 368.40 L83.73 368.11 L84.98 367.83 L86.23 367.56 L87.48 367.31 L88.73 367.06 L89.98 366.83 L91.23 366.62 L92.48 366.41 L93.74 366.22 L94.99 366.04 L96.25 365.87 L97.51 365.72 L98.76 365.58 L100.02 365.45 L101.28 365.33 L102.53 365.23 L103.79 365.15 L105.05 365.07 L106.30 365.01 L107.56 364.96 L108.81 364.93 L110.07 364.91 L111.32 364.91 L112.57 364.92 L113.83 364.94 L115.08 364.98 L116.32 365.04 L117.57 365.11 L118.82 365.19 L120.06 365.29 L121.30 365.40 L122.54 365.53 L123.78 365.67 L125.01 365.83 L126.25 366.01 L127.48 366.20 L128.70 366.40 L129.93 366.62 L131.15 366.86 L132.37 367.12 L133.59 367.39 L134.80 367.67 L136.01 367.97 L137.21 368.29 L138.42 368.63 L139.62 368.98 L140.81 369.35 L142.00 369.73 L143.19 370.14 L144.37 370.55 L145.54 370.99 L146.71 371.44 L147.88 371.91 L149.03 372.39 L150.19 372.89 L151.33 373.40 L152.47 373.93 L153.60 374.47 L154.73 375.03 L155.84 375.61 L156.95 376.20 L158.05 376.81 L159.15 377.43 L160.23 378.06 L161.30 378.71 L162.37 379.38 L163.43 380.06 L164.47 380.76 L165.51 381.47 L166.53 382.19 L167.55 382.93 L168.55 383.68 L169.54 384.45 L170.52 385.23 L171.49 386.02 L172.45 386.83 L173.40 387.65 L174.33 388.49 L175.25 389.34 L176.15 390.20 L177.05 391.08 L177.93 391.97 L178.79 392.87 L179.64 393.79 L180.48 394.72 L181.30 395.66 L182.11 396.61 L182.90 397.58 L183.67 398.56 L184.43 399.55 L185.18 400.56 L185.90 401.57 L186.61 402.60 L187.31 403.65 L187.98 404.70 L188.64 405.77 L189.28 406.84 L189.90 407.93 L190.51 409.03 L191.09 410.15 L191.66 411.27 L192.21 412.41 L192.73 413.56 L193.24 414.71 L193.73 415.88 L194.20 417.06 L194.65 418.26 L195.07 419.46 L195.48 420.67 L195.86 421.90 L196.22 423.13 L196.56 424.38 L196.88 425.63 L197.18 426.90 L197.45 428.18 L197.70 429.46 L197.93 430.76 L198.13 432.07 L198.31 433.38 L198.46 434.71 L198.59 436.05 L198.70 437.39 L198.78 438.75 L199.38 438.72 L199.31 437.35 L199.21 435.99 L199.09 434.65 L198.94 433.31 L198.77 431.98 L198.57 430.66 L198.35 429.34 L198.11 428.04 L197.84 426.75 L197.55 425.47 L197.24 424.20 L196.91 422.94 L196.55 421.69 L196.17 420.45 L195.77 419.22 L195.34 418.00 L194.90 416.80 L194.44 415.60 L193.95 414.41 L193.44 413.24 L192.92 412.08 L192.37 410.92 L191.81 409.78 L191.22 408.65 L190.62 407.54 L190.00 406.43 L189.36 405.34 L188.70 404.25 L188.02 403.18 L187.33 402.12 L186.62 401.08 L185.89 400.04 L185.14 399.02 L184.38 398.01 L183.60 397.02 L182.81 396.03 L182.00 395.06 L181.17 394.10 L180.33 393.16 L179.48 392.23 L178.61 391.31 L177.73 390.40 L176.83 389.51 L175.92 388.63 L174.99 387.76 L174.06 386.91 L173.10 386.07 L172.14 385.25 L171.17 384.44 L170.18 383.64 L169.18 382.86 L168.17 382.09 L167.15 381.34 L166.11 380.60 L165.07 379.88 L164.02 379.17 L162.95 378.47 L161.88 377.79 L160.80 377.12 L159.70 376.47 L158.60 375.84 L157.49 375.22 L156.37 374.61 L155.24 374.02 L154.11 373.45 L152.97 372.89 L151.82 372.34 L150.66 371.82 L149.50 371.31 L148.33 370.81 L147.15 370.33 L145.97 369.87 L144.78 369.42 L143.59 368.99 L142.39 368.57 L141.18 368.18 L139.98 367.80 L138.76 367.43 L137.55 367.08 L136.33 366.75 L135.10 366.44 L133.88 366.14 L132.65 365.86 L131.41 365.59 L130.17 365.35 L128.93 365.11 L127.69 364.90 L126.44 364.70 L125.20 364.51 L123.95 364.34 L122.69 364.19 L121.44 364.05 L120.18 363.93 L118.92 363.82 L117.66 363.73 L116.40 363.66 L115.13 363.59 L113.86 363.55 L112.60 363.51 L111.33 363.50 L110.06 363.49 L108.79 363.50 L107.52 363.53 L106.25 363.57 L104.97 363.62 L103.70 363.69 L102.43 363.77 L101.15 363.87 L99.88 363.98 L98.61 364.10 L97.34 364.23 L96.06 364.38 L94.79 364.54 L93.52 364.72 L92.25 364.91 L90.98 365.11 L89.71 365.32 L88.44 365.55 L87.18 365.78 L85.91 366.03 L84.65 366.30 L83.39 366.57 L82.13 366.86 L80.87 367.16 L79.61 367.47 L78.36 367.79 L77.11 368.12 L75.86 368.47 L74.61 368.83 L73.37 369.20 L72.13 369.57 L70.89 369.96 L69.65 370.37 L68.42 370.78 L67.19 371.20 L65.97 371.63 L64.75 372.08 L63.53 372.53 L62.31 372.99 L61.10 373.47 L59.90 373.95 L58.69 374.45 L57.50 374.95 L56.30 375.47 L55.12 375.99 L53.93 376.52 L52.75 377.06 L51.58 377.62 L50.41 378.18 L49.25 378.75 L48.09 379.32 L46.93 379.91 L45.79 380.51 L44.64 381.11 L43.51 381.73 L42.38 382.35 L41.26 382.98 L40.14 383.62 L39.03 384.26Z" fill="#14906a"/>
<path d="M40.02 384.68 L41.10 383.95 L42.18 383.22 L43.27 382.49 L44.35 381.75 L45.44 381.02 L46.52 380.29 L47.61 379.56 L48.71 378.82 L49.80 378.09 L50.89 377.36 L51.99 376.63 L53.09 375.90 L54.19 375.17 L55.29 374.44 L56.39 373.71 L57.50 372.98 L58.61 372.26 L59.71 371.53 L60.82 370.81 L61.94 370.09 L63.05 369.37 L64.17 368.65 L65.28 367.93 L66.40 367.22 L67.52 366.51 L68.65 365.80 L69.77 365.09 L70.90 364.38 L72.03 363.68 L73.16 362.98 L74.29 362.28 L75.42 361.59 L76.55 360.90 L77.69 360.21 L78.83 359.52 L79.97 358.84 L81.11 358.16 L82.26 357.48 L83.40 356.81 L84.55 356.14 L85.70 355.48 L86.85 354.82 L88.00 354.16 L89.16 353.51 L90.31 352.86 L91.47 352.22 L92.63 351.58 L93.79 350.95 L94.96 350.32 L96.12 349.69 L97.29 349.07 L98.46 348.46 L99.63 347.84 L100.80 347.24 L101.98 346.64 L103.15 346.05 L104.33 345.46 L105.51 344.87 L106.69 344.30 L107.87 343.73 L109.06 343.16 L110.25 342.60 L111.43 342.05 L112.62 341.50 L113.82 340.96 L115.01 340.42 L116.21 339.90 L117.40 339.38 L118.60 338.86 L119.80 338.35 L121.01 337.85 L122.21 337.36 L123.42 336.88 L124.63 336.40 L125.84 335.93 L127.05 335.46 L128.26 335.01 L129.48 334.56 L130.70 334.12 L131.92 333.69 L133.14 333.26 L134.36 332.85 L135.59 332.44 L136.81 332.04 L138.04 331.65 L139.27 331.27 L140.51 330.90 L141.74 330.53 L142.98 330.18 L144.21 329.83 L145.45 329.49 L146.69 329.16 L147.94 328.85 L149.18 328.54 L150.43 328.24 L151.68 327.95 L152.93 327.67 L154.18 327.40 L155.44 327.14 L156.69 326.89 L157.95 326.65 L159.21 326.42 L160.47 326.20 L161.74 325.99 L163.00 325.80 L164.27 325.61 L165.53 325.44 L166.80 325.27 L168.07 325.12 L169.34 324.98 L170.61 324.86 L171.89 324.74 L173.16 324.64 L174.43 324.55 L175.71 324.47 L176.98 324.40 L178.26 324.35 L179.53 324.31 L180.81 324.29 L182.09 324.28 L183.36 324.28 L184.64 324.30 L185.92 324.33 L187.19 324.37 L188.47 324.43 L189.74 324.50 L191.02 324.59 L192.29 324.69 L193.57 324.81 L194.84 324.95 L196.11 325.09 L197.38 325.26 L198.65 325.44 L199.92 325.64 L201.19 325.85 L202.46 326.08 L203.73 326.32 L204.99 326.59 L206.26 326.87 L207.52 327.16 L208.78 327.47 L210.04 327.81 L211.29 328.15 L212.55 328.52 L213.80 328.90 L215.05 329.31 L216.30 329.73 L217.55 330.16 L218.79 330.62 L220.04 331.10 L221.28 331.59 L222.51 332.11 L223.75 332.64 L224.98 333.19 L226.21 333.77 L227.43 334.36 L228.66 334.97 L229.88 335.61 L231.10 336.26 L231.41 335.69 L230.19 335.02 L228.96 334.38 L227.74 333.75 L226.51 333.15 L225.27 332.56 L224.04 331.99 L222.80 331.45 L221.55 330.92 L220.31 330.41 L219.06 329.92 L217.81 329.45 L216.55 329.00 L215.30 328.57 L214.04 328.16 L212.78 327.76 L211.52 327.38 L210.25 327.02 L208.98 326.68 L207.71 326.35 L206.44 326.05 L205.17 325.76 L203.90 325.48 L202.62 325.23 L201.35 324.99 L200.07 324.76 L198.79 324.56 L197.51 324.36 L196.23 324.19 L194.94 324.03 L193.66 323.89 L192.38 323.76 L191.09 323.65 L189.81 323.55 L188.52 323.46 L187.23 323.40 L185.95 323.34 L184.66 323.30 L183.37 323.28 L182.09 323.27 L180.80 323.27 L179.51 323.29 L178.23 323.32 L176.94 323.36 L175.65 323.42 L174.37 323.49 L173.08 323.57 L171.80 323.66 L170.51 323.77 L169.23 323.89 L167.95 324.02 L166.67 324.17 L165.39 324.32 L164.11 324.49 L162.83 324.67 L161.56 324.86 L160.28 325.06 L159.01 325.27 L157.74 325.49 L156.47 325.72 L155.20 325.97 L153.94 326.22 L152.67 326.48 L151.41 326.76 L150.15 327.04 L148.89 327.33 L147.64 327.64 L146.38 327.95 L145.13 328.27 L143.88 328.60 L142.63 328.94 L141.38 329.29 L140.14 329.65 L138.89 330.02 L137.65 330.40 L136.41 330.78 L135.18 331.18 L133.94 331.58 L132.71 331.99 L131.47 332.41 L130.24 332.83 L129.01 333.27 L127.79 333.71 L126.56 334.16 L125.34 334.62 L124.12 335.09 L122.90 335.56 L121.68 336.04 L120.47 336.53 L119.25 337.03 L118.04 337.53 L116.83 338.04 L115.62 338.55 L114.42 339.08 L113.21 339.61 L112.01 340.14 L110.81 340.69 L109.61 341.24 L108.41 341.79 L107.22 342.35 L106.03 342.92 L104.84 343.49 L103.65 344.07 L102.46 344.66 L101.27 345.25 L100.09 345.84 L98.91 346.44 L97.73 347.05 L96.55 347.66 L95.37 348.28 L94.20 348.90 L93.02 349.52 L91.85 350.15 L90.68 350.79 L89.52 351.43 L88.35 352.07 L87.19 352.72 L86.03 353.37 L84.87 354.03 L83.71 354.69 L82.55 355.35 L81.40 356.02 L80.25 356.69 L79.10 357.37 L77.95 358.04 L76.80 358.73 L75.66 359.41 L74.52 360.10 L73.37 360.79 L72.24 361.48 L71.10 362.18 L69.96 362.88 L68.83 363.58 L67.70 364.28 L66.57 364.99 L65.44 365.70 L64.31 366.41 L63.19 367.12 L62.07 367.83 L60.95 368.55 L59.83 369.27 L58.71 369.98 L57.60 370.70 L56.48 371.43 L55.37 372.15 L54.26 372.87 L53.16 373.60 L52.05 374.32 L50.95 375.05 L49.84 375.78 L48.74 376.51 L47.65 377.24 L46.55 377.96 L45.46 378.69 L44.36 379.42 L43.27 380.15 L42.18 380.88 L41.10 381.61 L40.01 382.34 L38.93 383.07Z" fill="#0c0908"/>
<path d="M95.68 380.15L98.04 388.06M125.92 390.14L125.77 393.61M145.71 406.28L144.85 408.61M157.96 425.10L156.93 426.68M164.78 443.08L163.81 444.21M168.41 460.74L167.63 461.52M169.43 474.64L168.85 475.22M91.24 366.65L95.80 373.54M123.76 365.80L124.94 369.07M148.95 372.58L149.20 375.05M167.38 383.15L167.20 385.03M181.84 396.83L181.41 398.26M191.84 412.58L191.34 413.56M196.44 425.74L196.00 426.42M87.99 354.14L94.63 359.06M117.43 339.44L120.10 341.67M143.02 330.33L144.76 332.09M165.56 325.67L166.74 327.14M185.90 324.63L186.69 325.90M204.91 326.95L205.39 327.95M218.64 331.02L218.96 331.77" stroke="#6f6f6f" stroke-opacity="0.5" stroke-width="0.9" fill="none"/>
<g clip-path="url(#cp4)">
<path d="M19.50 399.30L42.30 388.60" stroke="#d81a30" stroke-width="3.84" fill="none"/>
<path d="M19.50 397.32L38.60 384.27" stroke="#0a6e3e" stroke-width="3.10" fill="none"/>
<path d="M19.50 397.45L39.00 384.11" stroke="#070505" stroke-width="6.20" fill="none"/>
</g>
<clipPath id="cp4"><rect x="22.30" y="297.80" width="303.60" height="250.80"/></clipPath>
<circle cx="236.10" cy="349.00" r="5.95" fill="#231815"/>
<text x="245.80" y="353.50" textLength="25.50" lengthAdjust="spacingAndGlyphs" class="kg">1kg</text>
<circle cx="208.40" cy="449.90" r="5.95" fill="#12994a"/>
<text x="218.10" y="454.40" textLength="25.50" lengthAdjust="spacingAndGlyphs" class="kg">4kg</text>
<circle cx="177.80" cy="495.40" r="5.95" fill="#e60012"/>
<text x="187.50" y="499.90" textLength="25.50" lengthAdjust="spacingAndGlyphs" class="kg">8kg</text>
<text x="37.70" y="531.70" textLength="59.40" lengthAdjust="spacingAndGlyphs" class="lab">585S</text>
</g>
<g>
<rect x="348.00" y="297.80" width="303.00" height="250.80" fill="#fff"/>
<path d="M357.70 298.80V547.60M368.19 298.80V547.60M378.68 298.80V547.60M389.17 298.80V547.60M399.66 298.80V547.60M410.15 298.80V547.60M420.64 298.80V547.60M431.13 298.80V547.60M441.62 298.80V547.60M452.11 298.80V547.60M462.60 298.80V547.60M473.09 298.80V547.60M483.58 298.80V547.60M494.07 298.80V547.60M504.56 298.80V547.60M515.05 298.80V547.60M525.54 298.80V547.60M536.03 298.80V547.60M546.52 298.80V547.60M557.01 298.80V547.60M567.50 298.80V547.60M577.99 298.80V547.60M588.48 298.80V547.60M598.97 298.80V547.60M609.46 298.80V547.60M619.95 298.80V547.60M630.44 298.80V547.60M640.93 298.80V547.60M349.00 307.50H649.00M349.00 317.99H649.00M349.00 328.48H649.00M349.00 338.97H649.00M349.00 349.46H649.00M349.00 359.95H649.00M349.00 370.44H649.00M349.00 380.93H649.00M349.00 391.42H649.00M349.00 401.91H649.00M349.00 412.40H649.00M349.00 422.89H649.00M349.00 433.38H649.00M349.00 443.87H649.00M349.00 454.36H649.00M349.00 464.85H649.00M349.00 475.34H649.00M349.00 485.83H649.00M349.00 496.32H649.00M349.00 506.81H649.00M349.00 517.30H649.00M349.00 527.79H649.00M349.00 538.28H649.00" stroke="#e6e6e6" stroke-width="1" fill="none"/>
<path d="M348.00 402.00H651.00" stroke="#de7468" stroke-width="1.45" fill="none"/>
<path d="M367.62 388.56 L368.59 388.12 L369.57 387.68 L370.54 387.25 L371.52 386.82 L372.51 386.40 L373.49 385.99 L374.48 385.58 L375.47 385.18 L376.46 384.78 L377.45 384.39 L378.45 384.01 L379.45 383.64 L380.45 383.27 L381.45 382.92 L382.45 382.57 L383.46 382.23 L384.47 381.90 L385.47 381.57 L386.49 381.26 L387.50 380.96 L388.52 380.66 L389.53 380.38 L390.55 380.11 L391.57 379.85 L392.59 379.59 L393.62 379.35 L394.64 379.12 L395.67 378.91 L396.70 378.70 L397.73 378.51 L398.76 378.32 L399.80 378.15 L400.83 378.00 L401.87 377.86 L402.91 377.73 L403.95 377.61 L404.99 377.51 L406.03 377.42 L407.08 377.34 L408.12 377.28 L409.17 377.24 L410.22 377.21 L411.27 377.19 L412.32 377.19 L413.37 377.21 L414.42 377.24 L415.47 377.28 L416.52 377.34 L417.58 377.42 L418.63 377.50 L419.68 377.61 L420.72 377.73 L421.77 377.86 L422.82 378.01 L423.86 378.17 L424.90 378.35 L425.94 378.54 L426.98 378.74 L428.01 378.97 L429.04 379.20 L430.07 379.45 L431.09 379.72 L432.11 379.99 L433.13 380.29 L434.14 380.60 L435.14 380.92 L436.14 381.25 L437.14 381.60 L438.13 381.97 L439.11 382.35 L440.09 382.74 L441.06 383.15 L442.02 383.57 L442.98 384.01 L443.93 384.46 L444.87 384.92 L445.81 385.40 L446.73 385.90 L447.65 386.40 L448.56 386.92 L449.46 387.46 L450.36 388.01 L451.24 388.57 L452.11 389.15 L452.98 389.74 L453.83 390.34 L454.68 390.96 L455.51 391.59 L456.34 392.23 L457.15 392.89 L457.96 393.56 L458.76 394.24 L459.54 394.93 L460.32 395.64 L461.09 396.36 L461.84 397.09 L462.59 397.83 L463.32 398.58 L464.05 399.34 L464.77 400.12 L465.47 400.90 L466.17 401.70 L466.85 402.50 L467.52 403.32 L468.19 404.14 L468.84 404.98 L469.48 405.82 L470.11 406.68 L470.74 407.54 L471.35 408.41 L471.94 409.29 L472.53 410.18 L473.11 411.07 L473.68 411.98 L474.23 412.89 L474.78 413.81 L475.31 414.74 L475.83 415.67 L476.34 416.61 L476.84 417.56 L477.33 418.52 L477.81 419.48 L478.27 420.44 L478.73 421.42 L479.17 422.39 L479.60 423.38 L480.02 424.37 L480.43 425.36 L480.82 426.36 L481.21 427.37 L481.58 428.38 L481.94 429.39 L482.29 430.41 L482.63 431.43 L482.95 432.45 L483.26 433.48 L483.56 434.51 L483.85 435.54 L484.13 436.58 L484.39 437.62 L484.64 438.66 L484.88 439.71 L485.11 440.75 L485.32 441.80 L485.52 442.85 L485.71 443.90 L485.89 444.96 L486.05 446.01 L486.20 447.06 L486.34 448.12 L486.47 449.18 L486.58 450.23 L486.68 451.29 L486.77 452.34 L486.84 453.40 L486.90 454.45 L486.95 455.50 L486.98 456.56 L487.00 457.61 L487.55 457.60 L487.54 456.54 L487.51 455.48 L487.47 454.42 L487.42 453.36 L487.35 452.30 L487.27 451.24 L487.18 450.17 L487.07 449.11 L486.95 448.05 L486.82 446.98 L486.67 445.92 L486.52 444.86 L486.35 443.80 L486.16 442.74 L485.97 441.68 L485.76 440.62 L485.54 439.56 L485.30 438.51 L485.06 437.46 L484.80 436.41 L484.53 435.36 L484.24 434.32 L483.95 433.28 L483.64 432.24 L483.32 431.20 L482.99 430.17 L482.64 429.15 L482.29 428.12 L481.92 427.10 L481.54 426.09 L481.14 425.08 L480.74 424.07 L480.32 423.07 L479.90 422.07 L479.46 421.08 L479.00 420.10 L478.54 419.12 L478.07 418.15 L477.58 417.18 L477.08 416.22 L476.57 415.27 L476.05 414.32 L475.52 413.38 L474.97 412.45 L474.42 411.52 L473.85 410.61 L473.27 409.70 L472.69 408.80 L472.09 407.90 L471.47 407.02 L470.85 406.14 L470.22 405.27 L469.57 404.42 L468.92 403.57 L468.25 402.73 L467.58 401.90 L466.89 401.08 L466.19 400.27 L465.48 399.47 L464.76 398.68 L464.03 397.90 L463.29 397.14 L462.54 396.38 L461.78 395.64 L461.00 394.90 L460.22 394.18 L459.43 393.47 L458.62 392.78 L457.81 392.09 L456.99 391.42 L456.15 390.76 L455.31 390.12 L454.45 389.48 L453.59 388.86 L452.71 388.26 L451.83 387.67 L450.93 387.09 L450.03 386.53 L449.12 385.98 L448.20 385.44 L447.26 384.92 L446.33 384.41 L445.38 383.92 L444.42 383.44 L443.46 382.98 L442.49 382.53 L441.51 382.10 L440.53 381.68 L439.54 381.27 L438.54 380.88 L437.54 380.50 L436.53 380.14 L435.52 379.79 L434.50 379.46 L433.47 379.14 L432.44 378.83 L431.41 378.54 L430.37 378.27 L429.33 378.01 L428.28 377.76 L427.23 377.53 L426.18 377.32 L425.13 377.12 L424.07 376.93 L423.01 376.76 L421.94 376.60 L420.88 376.46 L419.81 376.34 L418.75 376.22 L417.68 376.13 L416.61 376.05 L415.54 375.98 L414.47 375.93 L413.40 375.89 L412.33 375.87 L411.26 375.87 L410.19 375.87 L409.12 375.90 L408.06 375.94 L406.99 375.99 L405.93 376.06 L404.87 376.15 L403.81 376.25 L402.75 376.36 L401.69 376.49 L400.64 376.63 L399.59 376.78 L398.53 376.95 L397.48 377.12 L396.44 377.32 L395.39 377.52 L394.35 377.74 L393.30 377.96 L392.26 378.20 L391.22 378.45 L390.19 378.71 L389.15 378.98 L388.12 379.27 L387.09 379.56 L386.06 379.86 L385.04 380.17 L384.01 380.49 L382.99 380.82 L381.97 381.16 L380.96 381.51 L379.94 381.87 L378.93 382.23 L377.92 382.61 L376.91 382.99 L375.91 383.37 L374.90 383.77 L373.90 384.17 L372.91 384.58 L371.91 384.99 L370.92 385.41 L369.93 385.84 L368.94 386.27 L367.96 386.71 L366.98 387.15Z" fill="#d9352a"/>
<path d="M365.07 385.93 L366.02 385.38 L366.98 384.83 L367.94 384.29 L368.91 383.75 L369.87 383.21 L370.85 382.68 L371.83 382.16 L372.81 381.64 L373.79 381.12 L374.78 380.62 L375.77 380.11 L376.77 379.62 L377.77 379.13 L378.78 378.64 L379.78 378.16 L380.80 377.69 L381.81 377.23 L382.83 376.77 L383.85 376.31 L384.87 375.87 L385.90 375.43 L386.93 375.00 L387.96 374.57 L389.00 374.15 L390.03 373.74 L391.07 373.34 L392.12 372.94 L393.16 372.55 L394.21 372.17 L395.26 371.80 L396.31 371.43 L397.37 371.08 L398.42 370.73 L399.48 370.39 L400.54 370.05 L401.60 369.73 L402.66 369.41 L403.73 369.11 L404.79 368.81 L405.86 368.52 L406.93 368.24 L408.00 367.97 L409.07 367.71 L410.14 367.45 L411.21 367.21 L412.28 366.97 L413.36 366.75 L414.43 366.54 L415.51 366.33 L416.58 366.14 L417.66 365.95 L418.73 365.78 L419.81 365.61 L420.89 365.46 L421.96 365.31 L423.04 365.18 L424.11 365.06 L425.19 364.95 L426.27 364.85 L427.34 364.76 L428.42 364.68 L429.49 364.61 L430.56 364.56 L431.64 364.51 L432.71 364.48 L433.78 364.46 L434.85 364.45 L435.92 364.45 L436.99 364.47 L438.05 364.49 L439.12 364.53 L440.18 364.58 L441.25 364.65 L442.31 364.72 L443.37 364.81 L444.42 364.91 L445.48 365.03 L446.53 365.15 L447.59 365.29 L448.63 365.45 L449.68 365.61 L450.73 365.79 L451.77 365.99 L452.81 366.19 L453.85 366.41 L454.88 366.65 L455.92 366.90 L456.95 367.16 L457.98 367.44 L459.00 367.73 L460.02 368.03 L461.04 368.35 L462.05 368.69 L463.07 369.04 L464.07 369.40 L465.08 369.78 L466.08 370.17 L467.07 370.58 L468.06 371.00 L469.05 371.43 L470.03 371.88 L471.01 372.34 L471.98 372.82 L472.94 373.31 L473.89 373.81 L474.84 374.33 L475.79 374.86 L476.72 375.40 L477.65 375.96 L478.57 376.53 L479.49 377.11 L480.39 377.71 L481.29 378.32 L482.17 378.94 L483.05 379.58 L483.92 380.23 L484.78 380.89 L485.63 381.56 L486.47 382.25 L487.30 382.95 L488.12 383.66 L488.93 384.39 L489.73 385.12 L490.51 385.87 L491.29 386.63 L492.05 387.41 L492.80 388.19 L493.54 388.99 L494.26 389.80 L494.97 390.62 L495.67 391.46 L496.36 392.30 L497.03 393.16 L497.68 394.03 L498.33 394.91 L498.96 395.80 L499.57 396.70 L500.17 397.61 L500.75 398.54 L501.32 399.47 L501.87 400.42 L502.41 401.38 L502.93 402.35 L503.43 403.33 L503.92 404.32 L504.38 405.32 L504.84 406.33 L505.27 407.36 L505.69 408.39 L506.08 409.43 L506.46 410.49 L506.82 411.55 L507.16 412.63 L507.49 413.71 L507.79 414.81 L508.07 415.91 L508.33 417.03 L508.58 418.15 L508.80 419.29 L509.39 419.18 L509.17 418.03 L508.94 416.89 L508.68 415.77 L508.40 414.65 L508.11 413.54 L507.79 412.44 L507.46 411.35 L507.10 410.27 L506.73 409.20 L506.33 408.14 L505.92 407.09 L505.49 406.05 L505.04 405.02 L504.58 404.01 L504.09 403.00 L503.59 402.00 L503.07 401.02 L502.54 400.04 L501.99 399.08 L501.42 398.13 L500.84 397.19 L500.24 396.26 L499.62 395.34 L498.99 394.43 L498.35 393.53 L497.69 392.65 L497.02 391.78 L496.33 390.92 L495.63 390.07 L494.92 389.23 L494.19 388.40 L493.45 387.59 L492.69 386.79 L491.93 386.00 L491.15 385.22 L490.36 384.45 L489.56 383.70 L488.75 382.96 L487.92 382.23 L487.09 381.52 L486.24 380.81 L485.39 380.12 L484.52 379.45 L483.64 378.78 L482.76 378.13 L481.86 377.49 L480.96 376.87 L480.05 376.25 L479.13 375.66 L478.20 375.07 L477.26 374.50 L476.32 373.94 L475.37 373.39 L474.41 372.86 L473.44 372.34 L472.47 371.84 L471.49 371.35 L470.50 370.87 L469.51 370.41 L468.52 369.96 L467.51 369.53 L466.51 369.11 L465.50 368.70 L464.48 368.31 L463.46 367.94 L462.43 367.57 L461.41 367.23 L460.38 366.89 L459.34 366.58 L458.30 366.27 L457.26 365.98 L456.22 365.71 L455.17 365.45 L454.12 365.20 L453.07 364.97 L452.01 364.75 L450.96 364.55 L449.90 364.36 L448.83 364.18 L447.77 364.02 L446.70 363.87 L445.63 363.73 L444.56 363.61 L443.49 363.50 L442.42 363.40 L441.34 363.31 L440.26 363.24 L439.18 363.18 L438.10 363.13 L437.02 363.10 L435.94 363.08 L434.85 363.07 L433.77 363.07 L432.68 363.08 L431.59 363.11 L430.50 363.14 L429.41 363.19 L428.33 363.25 L427.24 363.32 L426.14 363.41 L425.05 363.50 L423.96 363.61 L422.87 363.72 L421.78 363.85 L420.69 363.99 L419.60 364.14 L418.51 364.30 L417.41 364.46 L416.32 364.64 L415.23 364.83 L414.14 365.03 L413.05 365.24 L411.97 365.46 L410.88 365.69 L409.79 365.93 L408.71 366.18 L407.62 366.44 L406.54 366.71 L405.45 366.98 L404.37 367.27 L403.29 367.56 L402.21 367.87 L401.14 368.18 L400.06 368.50 L398.99 368.83 L397.92 369.17 L396.85 369.51 L395.78 369.87 L394.71 370.23 L393.65 370.60 L392.59 370.98 L391.53 371.36 L390.47 371.76 L389.42 372.16 L388.37 372.57 L387.32 372.98 L386.27 373.41 L385.23 373.84 L384.19 374.28 L383.15 374.72 L382.12 375.17 L381.09 375.63 L380.06 376.09 L379.04 376.56 L378.02 377.04 L377.00 377.53 L375.99 378.02 L374.98 378.51 L373.97 379.01 L372.97 379.52 L371.97 380.03 L370.98 380.55 L369.99 381.08 L369.00 381.61 L368.02 382.14 L367.04 382.68 L366.07 383.23 L365.10 383.78 L364.14 384.33Z" fill="#14906a"/>
<path d="M365.10 384.44 L366.01 383.82 L366.92 383.19 L367.83 382.56 L368.73 381.93 L369.64 381.29 L370.55 380.66 L371.46 380.02 L372.36 379.38 L373.27 378.74 L374.18 378.10 L375.08 377.46 L375.99 376.82 L376.89 376.18 L377.80 375.53 L378.70 374.89 L379.61 374.25 L380.52 373.60 L381.42 372.95 L382.33 372.31 L383.23 371.66 L384.14 371.02 L385.05 370.37 L385.95 369.72 L386.86 369.07 L387.77 368.43 L388.67 367.78 L389.58 367.13 L390.49 366.49 L391.40 365.84 L392.30 365.20 L393.21 364.55 L394.12 363.91 L395.03 363.27 L395.94 362.62 L396.85 361.98 L397.76 361.34 L398.67 360.70 L399.58 360.06 L400.50 359.42 L401.41 358.78 L402.32 358.15 L403.24 357.51 L404.15 356.88 L405.07 356.25 L405.98 355.62 L406.90 354.99 L407.82 354.37 L408.74 353.74 L409.66 353.12 L410.58 352.50 L411.50 351.88 L412.42 351.26 L413.34 350.65 L414.27 350.03 L415.19 349.42 L416.12 348.82 L417.04 348.21 L417.97 347.61 L418.90 347.01 L419.83 346.41 L420.76 345.81 L421.69 345.22 L422.62 344.63 L423.56 344.05 L424.49 343.46 L425.43 342.88 L426.37 342.30 L427.31 341.73 L428.25 341.16 L429.19 340.59 L430.13 340.03 L431.08 339.47 L432.02 338.91 L432.97 338.36 L433.92 337.81 L434.87 337.27 L435.82 336.72 L436.77 336.19 L437.73 335.65 L438.69 335.12 L439.64 334.60 L440.60 334.08 L441.56 333.56 L442.53 333.05 L443.49 332.54 L444.46 332.04 L445.43 331.54 L446.40 331.05 L447.37 330.56 L448.34 330.07 L449.32 329.60 L450.29 329.12 L451.27 328.65 L452.25 328.19 L453.23 327.73 L454.22 327.28 L455.21 326.83 L456.19 326.39 L457.18 325.95 L458.18 325.52 L459.17 325.09 L460.17 324.67 L461.17 324.26 L462.17 323.85 L463.17 323.45 L464.18 323.05 L465.18 322.66 L466.19 322.28 L467.21 321.90 L468.22 321.53 L469.24 321.16 L470.26 320.80 L471.28 320.45 L472.30 320.11 L473.33 319.77 L474.36 319.44 L475.39 319.11 L476.42 318.79 L477.46 318.48 L478.50 318.18 L479.54 317.88 L480.58 317.59 L481.63 317.31 L482.68 317.03 L483.73 316.77 L484.78 316.51 L485.84 316.25 L486.90 316.01 L487.96 315.77 L489.03 315.54 L490.09 315.32 L491.16 315.10 L492.24 314.90 L493.31 314.70 L494.39 314.51 L495.48 314.33 L496.56 314.16 L497.65 313.99 L498.74 313.84 L499.83 313.69 L500.93 313.55 L502.03 313.42 L503.13 313.30 L504.24 313.19 L505.35 313.08 L506.46 312.99 L507.58 312.90 L508.70 312.82 L509.82 312.76 L510.95 312.70 L512.07 312.65 L513.21 312.61 L514.34 312.58 L515.48 312.56 L516.62 312.55 L517.77 312.55 L518.92 312.56 L520.07 312.58 L521.23 312.60 L521.25 311.95 L520.09 311.92 L518.93 311.89 L517.77 311.87 L516.62 311.86 L515.47 311.86 L514.33 311.87 L513.19 311.89 L512.05 311.92 L510.91 311.96 L509.78 312.01 L508.65 312.07 L507.53 312.14 L506.40 312.21 L505.28 312.30 L504.17 312.40 L503.05 312.50 L501.94 312.61 L500.83 312.73 L499.73 312.86 L498.63 313.00 L497.53 313.15 L496.43 313.31 L495.34 313.47 L494.25 313.65 L493.16 313.83 L492.08 314.02 L490.99 314.22 L489.91 314.42 L488.84 314.64 L487.76 314.86 L486.69 315.09 L485.62 315.33 L484.56 315.57 L483.50 315.83 L482.44 316.09 L481.38 316.36 L480.32 316.63 L479.27 316.91 L478.22 317.20 L477.17 317.50 L476.13 317.81 L475.08 318.12 L474.04 318.44 L473.00 318.76 L471.97 319.10 L470.94 319.43 L469.91 319.78 L468.88 320.13 L467.85 320.49 L466.83 320.86 L465.80 321.23 L464.79 321.61 L463.77 321.99 L462.75 322.38 L461.74 322.78 L460.73 323.18 L459.72 323.59 L458.72 324.01 L457.71 324.43 L456.71 324.85 L455.71 325.28 L454.71 325.72 L453.72 326.16 L452.72 326.61 L451.73 327.07 L450.74 327.52 L449.75 327.99 L448.76 328.46 L447.78 328.93 L446.80 329.41 L445.82 329.89 L444.84 330.38 L443.86 330.88 L442.89 331.37 L441.91 331.88 L440.94 332.38 L439.97 332.90 L439.00 333.41 L438.04 333.93 L437.07 334.46 L436.11 334.99 L435.14 335.52 L434.18 336.06 L433.23 336.60 L432.27 337.14 L431.31 337.69 L430.36 338.24 L429.40 338.80 L428.45 339.35 L427.50 339.92 L426.55 340.48 L425.61 341.05 L424.66 341.63 L423.72 342.20 L422.77 342.78 L421.83 343.36 L420.89 343.95 L419.95 344.53 L419.01 345.12 L418.07 345.72 L417.14 346.31 L416.20 346.91 L415.27 347.51 L414.33 348.11 L413.40 348.72 L412.47 349.33 L411.54 349.94 L410.61 350.55 L409.69 351.16 L408.76 351.78 L407.83 352.40 L406.91 353.02 L405.98 353.64 L405.06 354.26 L404.14 354.89 L403.21 355.51 L402.29 356.14 L401.37 356.77 L400.45 357.40 L399.53 358.03 L398.62 358.67 L397.70 359.30 L396.78 359.93 L395.86 360.57 L394.95 361.21 L394.03 361.84 L393.12 362.48 L392.20 363.12 L391.29 363.76 L390.38 364.40 L389.46 365.04 L388.55 365.68 L387.64 366.32 L386.73 366.96 L385.82 367.60 L384.91 368.25 L384.00 368.89 L383.09 369.53 L382.18 370.17 L381.27 370.81 L380.36 371.45 L379.45 372.09 L378.54 372.73 L377.63 373.37 L376.72 374.01 L375.81 374.64 L374.90 375.28 L373.99 375.92 L373.09 376.55 L372.18 377.19 L371.27 377.82 L370.36 378.45 L369.45 379.08 L368.54 379.71 L367.63 380.34 L366.72 380.97 L365.82 381.59 L364.91 382.21 L364.00 382.84Z" fill="#0c0908"/>
<path d="M411.27 377.33L414.67 384.86M438.05 382.17L438.42 385.62M456.97 393.11L456.52 395.54M469.21 406.03L468.50 407.77M477.91 420.61L477.14 421.89M483.13 434.63L482.48 435.51M485.57 446.08L485.07 446.72M409.07 367.72L414.09 374.29M435.92 364.56L437.46 367.68M458.94 367.92L459.48 370.34M475.65 375.09L475.69 376.97M489.49 385.37L489.24 386.84M499.83 397.83L499.46 398.87M505.26 408.55L504.91 409.29M404.14 356.86L411.18 361.17M427.34 341.79L430.29 343.63M447.44 330.70L449.47 332.11M465.27 322.88L466.75 324.04M481.70 317.61L482.82 318.60M497.70 314.36L498.49 315.13M509.84 313.18L510.43 313.74" stroke="#6f6f6f" stroke-opacity="0.5" stroke-width="0.9" fill="none"/>
<g clip-path="url(#cp5)">
<path d="M345.00 398.80L367.40 388.60" stroke="#d81a30" stroke-width="3.72" fill="none"/>
<path d="M345.00 396.78L363.70 384.26" stroke="#0a6e3e" stroke-width="3.00" fill="none"/>
<path d="M345.00 396.44L364.10 384.09" stroke="#070505" stroke-width="6.00" fill="none"/>
</g>
<clipPath id="cp5"><rect x="348.00" y="297.80" width="303.00" height="250.80"/></clipPath>
<circle cx="529.10" cy="321.60" r="5.95" fill="#231815"/>
<text x="538.80" y="326.10" textLength="25.50" lengthAdjust="spacingAndGlyphs" class="kg">1kg</text>
<circle cx="516.00" cy="429.00" r="5.95" fill="#12994a"/>
<text x="525.70" y="433.50" textLength="25.50" lengthAdjust="spacingAndGlyphs" class="kg">6kg</text>
<circle cx="497.20" cy="466.00" r="5.95" fill="#e60012"/>
<text x="506.90" y="470.50" textLength="34.70" lengthAdjust="spacingAndGlyphs" class="kg">12kg</text>
<text x="362.90" y="531.70" textLength="60.20" lengthAdjust="spacingAndGlyphs" class="lab">526S</text>
</g>
<g>
<rect x="675.30" y="297.80" width="303.10" height="250.80" fill="#fff"/>
<path d="M685.00 298.80V547.60M695.49 298.80V547.60M705.98 298.80V547.60M716.47 298.80V547.60M726.96 298.80V547.60M737.45 298.80V547.60M747.94 298.80V547.60M758.43 298.80V547.60M768.92 298.80V547.60M779.41 298.80V547.60M789.90 298.80V547.60M800.39 298.80V547.60M810.88 298.80V547.60M821.37 298.80V547.60M831.86 298.80V547.60M842.35 298.80V547.60M852.84 298.80V547.60M863.33 298.80V547.60M873.82 298.80V547.60M884.31 298.80V547.60M894.80 298.80V547.60M905.29 298.80V547.60M915.78 298.80V547.60M926.27 298.80V547.60M936.76 298.80V547.60M947.25 298.80V547.60M957.74 298.80V547.60M968.23 298.80V547.60M676.30 307.30H976.40M676.30 317.79H976.40M676.30 328.28H976.40M676.30 338.77H976.40M676.30 349.26H976.40M676.30 359.75H976.40M676.30 370.24H976.40M676.30 380.73H976.40M676.30 391.22H976.40M676.30 401.71H976.40M676.30 412.20H976.40M676.30 422.69H976.40M676.30 433.18H976.40M676.30 443.67H976.40M676.30 454.16H976.40M676.30 464.65H976.40M676.30 475.14H976.40M676.30 485.63H976.40M676.30 496.12H976.40M676.30 506.61H976.40M676.30 517.10H976.40M676.30 527.59H976.40M676.30 538.08H976.40" stroke="#e6e6e6" stroke-width="1" fill="none"/>
<path d="M675.30 402.00H978.40" stroke="#de7468" stroke-width="1.45" fill="none"/>
<path d="M687.25 391.95 L688.68 391.20 L690.11 390.45 L691.54 389.72 L692.98 388.99 L694.43 388.27 L695.88 387.56 L697.34 386.86 L698.80 386.17 L700.27 385.49 L701.74 384.82 L703.22 384.17 L704.70 383.52 L706.19 382.88 L707.68 382.26 L709.18 381.65 L710.68 381.05 L712.19 380.47 L713.70 379.90 L715.22 379.34 L716.74 378.80 L718.27 378.27 L719.80 377.76 L721.33 377.26 L722.87 376.77 L724.42 376.31 L725.96 375.86 L727.51 375.42 L729.07 375.00 L730.63 374.60 L732.19 374.22 L733.75 373.86 L735.32 373.51 L736.89 373.18 L738.47 372.87 L740.05 372.58 L741.63 372.31 L743.22 372.06 L744.81 371.83 L746.40 371.62 L747.99 371.44 L749.59 371.27 L751.19 371.12 L752.79 371.00 L754.40 370.90 L756.01 370.82 L757.62 370.77 L759.23 370.74 L760.84 370.73 L762.46 370.75 L764.08 370.79 L765.70 370.85 L767.32 370.94 L768.94 371.05 L770.56 371.19 L772.18 371.35 L773.79 371.53 L775.41 371.74 L777.02 371.98 L778.63 372.23 L780.23 372.51 L781.83 372.82 L783.42 373.15 L785.01 373.50 L786.59 373.88 L788.17 374.28 L789.73 374.70 L791.29 375.15 L792.85 375.63 L794.39 376.13 L795.92 376.65 L797.44 377.19 L798.96 377.76 L800.46 378.36 L801.95 378.98 L803.42 379.62 L804.89 380.29 L806.34 380.98 L807.77 381.69 L809.19 382.43 L810.60 383.20 L811.99 383.98 L813.36 384.80 L814.72 385.63 L816.06 386.49 L817.38 387.38 L818.69 388.28 L819.98 389.22 L821.24 390.17 L822.49 391.15 L823.72 392.15 L824.93 393.17 L826.13 394.22 L827.30 395.29 L828.45 396.37 L829.58 397.48 L830.70 398.61 L831.79 399.76 L832.86 400.93 L833.91 402.11 L834.94 403.32 L835.95 404.55 L836.93 405.79 L837.90 407.05 L838.84 408.33 L839.76 409.63 L840.66 410.95 L841.53 412.28 L842.38 413.62 L843.21 414.99 L844.01 416.36 L844.80 417.76 L845.55 419.17 L846.29 420.59 L847.00 422.03 L847.68 423.48 L848.34 424.94 L848.97 426.42 L849.58 427.91 L850.17 429.41 L850.73 430.93 L851.27 432.45 L851.78 433.99 L852.28 435.53 L852.75 437.09 L853.20 438.66 L853.62 440.23 L854.03 441.81 L854.41 443.40 L854.78 445.00 L855.12 446.60 L855.45 448.21 L855.75 449.82 L856.04 451.44 L856.31 453.07 L856.56 454.69 L856.79 456.33 L857.01 457.96 L857.21 459.60 L857.39 461.24 L857.56 462.88 L857.71 464.52 L857.84 466.16 L857.97 467.80 L858.07 469.44 L858.16 471.08 L858.24 472.71 L858.31 474.35 L858.36 475.98 L858.40 477.61 L858.42 479.23 L858.44 480.85 L858.44 482.47 L858.44 484.08 L858.42 485.68 L858.39 487.28 L858.35 488.87 L858.31 490.45 L858.25 492.03 L858.19 493.59 L858.74 493.62 L858.81 492.05 L858.87 490.47 L858.93 488.88 L858.97 487.29 L859.00 485.69 L859.03 484.08 L859.04 482.47 L859.05 480.85 L859.04 479.22 L859.02 477.60 L858.99 475.96 L858.94 474.33 L858.88 472.69 L858.81 471.04 L858.73 469.40 L858.63 467.75 L858.51 466.11 L858.39 464.46 L858.24 462.81 L858.08 461.16 L857.91 459.52 L857.71 457.87 L857.50 456.23 L857.28 454.59 L857.03 452.95 L856.77 451.32 L856.49 449.69 L856.19 448.07 L855.87 446.45 L855.53 444.83 L855.17 443.23 L854.79 441.62 L854.38 440.03 L853.96 438.44 L853.52 436.87 L853.05 435.30 L852.56 433.74 L852.05 432.19 L851.51 430.65 L850.95 429.12 L850.37 427.60 L849.76 426.09 L849.12 424.60 L848.46 423.12 L847.78 421.65 L847.07 420.20 L846.34 418.76 L845.58 417.33 L844.79 415.92 L843.99 414.52 L843.16 413.14 L842.30 411.78 L841.42 410.43 L840.52 409.10 L839.60 407.79 L838.65 406.49 L837.68 405.21 L836.69 403.95 L835.68 402.70 L834.64 401.48 L833.59 400.27 L832.51 399.09 L831.41 397.92 L830.29 396.78 L829.15 395.65 L827.99 394.55 L826.80 393.46 L825.60 392.40 L824.38 391.36 L823.14 390.34 L821.88 389.35 L820.60 388.37 L819.30 387.43 L817.99 386.50 L816.65 385.60 L815.30 384.72 L813.92 383.87 L812.54 383.04 L811.13 382.24 L809.71 381.46 L808.28 380.71 L806.83 379.98 L805.36 379.27 L803.88 378.59 L802.39 377.93 L800.89 377.30 L799.37 376.70 L797.84 376.11 L796.31 375.55 L794.76 375.02 L793.20 374.51 L791.63 374.02 L790.06 373.56 L788.47 373.13 L786.88 372.72 L785.28 372.33 L783.68 371.96 L782.07 371.63 L780.45 371.31 L778.83 371.02 L777.21 370.75 L775.58 370.51 L773.95 370.30 L772.31 370.10 L770.68 369.93 L769.04 369.79 L767.40 369.67 L765.76 369.57 L764.12 369.50 L762.49 369.45 L760.85 369.43 L759.22 369.43 L757.58 369.46 L755.95 369.51 L754.33 369.58 L752.70 369.68 L751.08 369.79 L749.46 369.93 L747.85 370.10 L746.23 370.28 L744.62 370.49 L743.02 370.71 L741.41 370.96 L739.81 371.23 L738.22 371.52 L736.62 371.82 L735.03 372.15 L733.45 372.49 L731.86 372.85 L730.28 373.24 L728.71 373.63 L727.14 374.05 L725.57 374.48 L724.01 374.93 L722.45 375.40 L720.90 375.88 L719.35 376.38 L717.80 376.89 L716.26 377.42 L714.73 377.96 L713.19 378.52 L711.67 379.09 L710.15 379.68 L708.63 380.27 L707.12 380.88 L705.61 381.51 L704.11 382.14 L702.61 382.79 L701.12 383.45 L699.64 384.12 L698.16 384.80 L696.68 385.49 L695.22 386.19 L693.75 386.90 L692.30 387.62 L690.85 388.35 L689.40 389.08 L687.96 389.83 L686.53 390.58Z" fill="#d9352a"/>
<path d="M685.47 390.22 L686.78 389.37 L688.11 388.52 L689.45 387.69 L690.79 386.86 L692.15 386.04 L693.52 385.23 L694.90 384.43 L696.29 383.64 L697.69 382.86 L699.10 382.09 L700.52 381.33 L701.95 380.58 L703.39 379.84 L704.84 379.11 L706.29 378.39 L707.76 377.69 L709.23 376.99 L710.71 376.31 L712.20 375.64 L713.69 374.98 L715.19 374.34 L716.70 373.70 L718.22 373.08 L719.74 372.47 L721.27 371.88 L722.81 371.29 L724.35 370.73 L725.89 370.17 L727.45 369.63 L729.00 369.10 L730.56 368.59 L732.13 368.09 L733.70 367.61 L735.27 367.14 L736.85 366.69 L738.43 366.25 L740.02 365.82 L741.61 365.42 L743.20 365.03 L744.79 364.65 L746.39 364.29 L747.99 363.95 L749.59 363.62 L751.19 363.31 L752.79 363.02 L754.40 362.74 L756.00 362.49 L757.61 362.24 L759.21 362.02 L760.82 361.82 L762.43 361.63 L764.03 361.46 L765.64 361.31 L767.24 361.18 L768.85 361.07 L770.45 360.98 L772.05 360.90 L773.65 360.85 L775.25 360.81 L776.84 360.80 L778.44 360.80 L780.03 360.83 L781.61 360.88 L783.20 360.94 L784.78 361.03 L786.36 361.14 L787.93 361.27 L789.50 361.42 L791.06 361.59 L792.62 361.79 L794.18 362.01 L795.73 362.24 L797.28 362.51 L798.81 362.79 L800.35 363.10 L801.88 363.43 L803.40 363.78 L804.91 364.16 L806.42 364.56 L807.92 364.98 L809.42 365.43 L810.91 365.90 L812.39 366.40 L813.86 366.92 L815.32 367.46 L816.78 368.03 L818.22 368.63 L819.66 369.25 L821.09 369.90 L822.51 370.57 L823.92 371.27 L825.32 371.99 L826.71 372.74 L828.09 373.52 L829.46 374.32 L830.82 375.15 L832.16 376.01 L833.49 376.89 L834.81 377.79 L836.11 378.72 L837.40 379.68 L838.67 380.66 L839.92 381.67 L841.15 382.70 L842.37 383.75 L843.56 384.82 L844.73 385.92 L845.88 387.04 L847.00 388.19 L848.11 389.35 L849.18 390.54 L850.24 391.75 L851.26 392.98 L852.26 394.24 L853.23 395.51 L854.17 396.80 L855.08 398.12 L855.96 399.45 L856.81 400.81 L857.63 402.18 L858.41 403.57 L859.17 404.98 L859.90 406.41 L860.59 407.85 L861.26 409.31 L861.91 410.79 L862.52 412.28 L863.11 413.78 L863.67 415.30 L864.21 416.82 L864.72 418.36 L865.21 419.91 L865.67 421.47 L866.11 423.04 L866.53 424.62 L866.92 426.20 L867.30 427.80 L867.65 429.39 L867.98 431.00 L868.29 432.60 L868.59 434.22 L868.86 435.83 L869.12 437.45 L869.36 439.07 L869.59 440.69 L869.80 442.31 L870.00 443.92 L870.19 445.54 L870.37 447.16 L870.53 448.77 L870.69 450.38 L870.83 451.98 L870.97 453.58 L871.10 455.17 L871.23 456.76 L871.34 458.34 L871.46 459.91 L871.57 461.47 L871.68 463.02 L872.28 462.98 L872.18 461.43 L872.07 459.86 L871.97 458.29 L871.86 456.71 L871.74 455.12 L871.62 453.53 L871.49 451.93 L871.35 450.32 L871.20 448.70 L871.05 447.09 L870.88 445.47 L870.70 443.84 L870.51 442.22 L870.31 440.59 L870.09 438.96 L869.85 437.34 L869.60 435.71 L869.33 434.09 L869.04 432.46 L868.74 430.85 L868.41 429.23 L868.07 427.62 L867.70 426.02 L867.31 424.42 L866.90 422.83 L866.46 421.25 L866.00 419.67 L865.52 418.11 L865.01 416.55 L864.48 415.01 L863.92 413.47 L863.33 411.95 L862.72 410.45 L862.08 408.95 L861.41 407.47 L860.71 406.01 L859.98 404.56 L859.22 403.13 L858.43 401.71 L857.61 400.32 L856.76 398.94 L855.88 397.58 L854.96 396.25 L854.01 394.93 L853.04 393.63 L852.03 392.36 L851.00 391.11 L849.94 389.88 L848.85 388.67 L847.74 387.48 L846.61 386.31 L845.45 385.17 L844.27 384.05 L843.07 382.96 L841.84 381.89 L840.60 380.84 L839.34 379.81 L838.06 378.81 L836.76 377.84 L835.45 376.89 L834.12 375.97 L832.77 375.07 L831.42 374.19 L830.05 373.35 L828.66 372.53 L827.27 371.73 L825.86 370.96 L824.45 370.22 L823.02 369.51 L821.59 368.82 L820.14 368.16 L818.69 367.52 L817.23 366.91 L815.76 366.33 L814.28 365.77 L812.79 365.23 L811.29 364.72 L809.79 364.24 L808.28 363.78 L806.76 363.34 L805.23 362.93 L803.70 362.54 L802.16 362.17 L800.61 361.83 L799.06 361.51 L797.51 361.22 L795.94 360.95 L794.37 360.70 L792.80 360.47 L791.22 360.27 L789.64 360.08 L788.05 359.92 L786.46 359.78 L784.87 359.67 L783.27 359.57 L781.67 359.49 L780.06 359.44 L778.45 359.41 L776.84 359.39 L775.23 359.40 L773.61 359.43 L772.00 359.48 L770.38 359.54 L768.76 359.63 L767.14 359.74 L765.51 359.86 L763.89 360.00 L762.27 360.17 L760.64 360.35 L759.02 360.55 L757.40 360.77 L755.77 361.00 L754.15 361.26 L752.53 361.53 L750.91 361.81 L749.29 362.12 L747.67 362.44 L746.06 362.78 L744.45 363.14 L742.84 363.51 L741.23 363.90 L739.62 364.30 L738.02 364.72 L736.42 365.16 L734.83 365.61 L733.24 366.08 L731.65 366.56 L730.07 367.05 L728.49 367.56 L726.92 368.09 L725.35 368.63 L723.79 369.18 L722.23 369.75 L720.68 370.33 L719.14 370.92 L717.60 371.53 L716.07 372.15 L714.54 372.78 L713.02 373.43 L711.51 374.09 L710.01 374.76 L708.51 375.44 L707.02 376.14 L705.54 376.84 L704.07 377.56 L702.61 378.29 L701.15 379.03 L699.71 379.78 L698.27 380.55 L696.85 381.32 L695.43 382.10 L694.02 382.89 L692.63 383.70 L691.24 384.51 L689.87 385.33 L688.51 386.17 L687.15 387.01 L685.81 387.86 L684.49 388.71Z" fill="#14906a"/>
<path d="M685.49 389.07 L686.79 388.18 L688.10 387.30 L689.41 386.42 L690.74 385.53 L692.06 384.65 L693.40 383.77 L694.74 382.89 L696.09 382.01 L697.44 381.14 L698.80 380.26 L700.17 379.39 L701.54 378.52 L702.92 377.65 L704.31 376.79 L705.70 375.93 L707.09 375.07 L708.49 374.22 L709.90 373.37 L711.31 372.53 L712.73 371.69 L714.15 370.85 L715.58 370.02 L717.01 369.20 L718.45 368.39 L719.89 367.57 L721.34 366.77 L722.79 365.97 L724.24 365.18 L725.70 364.40 L727.17 363.62 L728.64 362.85 L730.11 362.09 L731.59 361.34 L733.07 360.60 L734.55 359.87 L736.04 359.14 L737.53 358.43 L739.03 357.72 L740.53 357.03 L742.03 356.34 L743.54 355.67 L745.05 355.00 L746.56 354.35 L748.07 353.71 L749.59 353.08 L751.11 352.46 L752.64 351.86 L754.16 351.26 L755.69 350.68 L757.22 350.12 L758.76 349.56 L760.29 349.02 L761.83 348.50 L763.37 347.98 L764.91 347.49 L766.46 347.00 L768.00 346.54 L769.55 346.08 L771.10 345.65 L772.65 345.22 L774.20 344.82 L775.75 344.43 L777.31 344.06 L778.86 343.70 L780.42 343.36 L781.98 343.04 L783.54 342.74 L785.09 342.45 L786.65 342.18 L788.21 341.93 L789.77 341.70 L791.34 341.49 L792.90 341.30 L794.46 341.13 L796.02 340.97 L797.58 340.84 L799.14 340.73 L800.70 340.64 L802.27 340.57 L803.83 340.52 L805.39 340.49 L806.95 340.48 L808.51 340.50 L810.06 340.54 L811.62 340.60 L813.18 340.68 L814.74 340.79 L816.29 340.92 L817.84 341.07 L819.40 341.25 L820.95 341.45 L822.50 341.68 L824.05 341.93 L825.59 342.20 L827.14 342.50 L828.68 342.83 L830.22 343.18 L831.76 343.56 L833.30 343.97 L834.84 344.40 L836.37 344.86 L837.90 345.34 L839.42 345.85 L840.94 346.39 L842.46 346.95 L843.97 347.54 L845.47 348.15 L846.96 348.79 L848.44 349.45 L849.92 350.14 L851.38 350.86 L852.84 351.59 L854.28 352.36 L855.70 353.14 L857.12 353.96 L858.52 354.79 L859.91 355.65 L861.28 356.53 L862.63 357.44 L863.97 358.37 L865.29 359.32 L866.59 360.29 L867.87 361.29 L869.13 362.31 L870.37 363.35 L871.59 364.42 L872.79 365.50 L873.97 366.61 L875.12 367.74 L876.24 368.89 L877.34 370.06 L878.42 371.26 L879.46 372.47 L880.48 373.71 L881.48 374.96 L882.44 376.24 L883.37 377.54 L884.27 378.85 L885.14 380.19 L885.98 381.55 L886.79 382.92 L887.56 384.32 L888.30 385.73 L889.01 387.16 L889.68 388.62 L890.31 390.09 L890.90 391.58 L891.46 393.09 L891.98 394.61 L892.46 396.16 L892.90 397.72 L893.30 399.30 L893.65 400.90 L893.97 402.51 L894.24 404.15 L894.47 405.80 L894.65 407.46 L894.79 409.15 L894.88 410.85 L895.53 410.82 L895.44 409.11 L895.32 407.40 L895.14 405.72 L894.92 404.05 L894.65 402.39 L894.35 400.76 L893.99 399.14 L893.60 397.53 L893.17 395.95 L892.69 394.38 L892.17 392.84 L891.62 391.31 L891.02 389.79 L890.39 388.30 L889.72 386.83 L889.02 385.37 L888.28 383.93 L887.50 382.52 L886.70 381.12 L885.85 379.74 L884.98 378.38 L884.07 377.05 L883.14 375.73 L882.17 374.43 L881.17 373.15 L880.15 371.90 L879.09 370.66 L878.01 369.45 L876.91 368.26 L875.77 367.09 L874.62 365.94 L873.44 364.81 L872.23 363.70 L871.00 362.62 L869.76 361.56 L868.49 360.52 L867.20 359.50 L865.89 358.51 L864.56 357.54 L863.21 356.60 L861.85 355.67 L860.46 354.77 L859.07 353.90 L857.66 353.04 L856.23 352.22 L854.79 351.41 L853.34 350.63 L851.87 349.88 L850.40 349.15 L848.91 348.45 L847.41 347.77 L845.91 347.11 L844.39 346.48 L842.87 345.88 L841.34 345.30 L839.81 344.75 L838.27 344.23 L836.72 343.73 L835.17 343.26 L833.62 342.81 L832.06 342.39 L830.51 342.00 L828.95 341.64 L827.39 341.30 L825.82 340.98 L824.26 340.70 L822.69 340.43 L821.12 340.20 L819.55 339.98 L817.98 339.80 L816.41 339.63 L814.84 339.49 L813.26 339.38 L811.69 339.28 L810.11 339.21 L808.53 339.17 L806.95 339.14 L805.38 339.14 L803.80 339.16 L802.22 339.20 L800.64 339.27 L799.06 339.35 L797.48 339.45 L795.90 339.58 L794.32 339.73 L792.74 339.89 L791.16 340.08 L789.58 340.28 L788.00 340.51 L786.42 340.75 L784.84 341.02 L783.27 341.30 L781.69 341.60 L780.12 341.91 L778.54 342.25 L776.97 342.60 L775.40 342.97 L773.83 343.35 L772.26 343.75 L770.69 344.17 L769.13 344.60 L767.56 345.05 L766.00 345.52 L764.44 346.00 L762.89 346.49 L761.33 347.00 L759.78 347.52 L758.23 348.06 L756.68 348.61 L755.13 349.18 L753.59 349.75 L752.05 350.34 L750.51 350.94 L748.97 351.56 L747.44 352.19 L745.91 352.82 L744.39 353.47 L742.86 354.14 L741.34 354.81 L739.83 355.49 L738.31 356.18 L736.81 356.89 L735.30 357.60 L733.80 358.32 L732.30 359.05 L730.81 359.79 L729.32 360.54 L727.83 361.30 L726.35 362.07 L724.88 362.84 L723.41 363.62 L721.94 364.41 L720.48 365.20 L719.02 366.01 L717.56 366.81 L716.12 367.63 L714.67 368.45 L713.24 369.28 L711.80 370.11 L710.37 370.95 L708.95 371.79 L707.54 372.63 L706.13 373.48 L704.72 374.34 L703.32 375.20 L701.93 376.06 L700.54 376.92 L699.16 377.79 L697.78 378.66 L696.41 379.53 L695.05 380.41 L693.70 381.29 L692.35 382.16 L691.00 383.04 L689.67 383.92 L688.34 384.81 L687.02 385.69 L685.70 386.57 L684.40 387.45Z" fill="#0c0908"/>
<path d="M752.80 371.14L756.67 378.44M794.32 376.33L794.83 379.76M822.32 391.37L821.90 393.81M841.24 412.46L840.41 414.15M851.90 435.65L850.96 436.80M856.57 458.02L855.79 458.79M857.87 475.99L857.30 476.57M749.59 363.66L754.35 370.41M789.48 361.55L790.72 364.79M822.42 370.76L822.54 373.23M844.54 386.12L844.12 387.96M859.59 406.56L858.84 407.85M866.90 427.88L866.20 428.73M869.74 445.59L869.21 446.21M746.55 354.32L752.60 359.95M785.11 342.52L787.19 345.30M819.38 341.41L820.30 343.71M845.38 348.37L845.65 350.23M867.68 361.53L867.55 363.01M883.07 377.75L882.74 378.80M891.57 394.74L891.18 395.46" stroke="#6f6f6f" stroke-opacity="0.5" stroke-width="0.9" fill="none"/>
<g clip-path="url(#cp6)">
<path d="M672.40 398.80L687.10 392.10" stroke="#d81a30" stroke-width="3.22" fill="none"/>
<path d="M672.40 396.77L684.30 388.76" stroke="#0a6e3e" stroke-width="2.60" fill="none"/>
<path d="M672.40 396.51L684.70 388.68" stroke="#070505" stroke-width="5.20" fill="none"/>
</g>
<clipPath id="cp6"><rect x="675.30" y="297.80" width="303.10" height="250.80"/></clipPath>
<circle cx="904.80" cy="421.60" r="5.95" fill="#231815"/>
<text x="914.50" y="426.10" textLength="25.50" lengthAdjust="spacingAndGlyphs" class="kg">1kg</text>
<circle cx="884.10" cy="473.30" r="5.95" fill="#12994a"/>
<text x="893.80" y="477.80" textLength="25.50" lengthAdjust="spacingAndGlyphs" class="kg">2kg</text>
<circle cx="871.60" cy="504.00" r="5.95" fill="#e60012"/>
<text x="881.30" y="508.50" textLength="25.50" lengthAdjust="spacingAndGlyphs" class="kg">3kg</text>
<text x="688.90" y="531.70" textLength="62.80" lengthAdjust="spacingAndGlyphs" class="lab">622B</text>
</g>
<g>
<rect x="22.30" y="575.00" width="303.60" height="250.30" fill="#fff"/>
<path d="M32.00 576.00V824.30M42.49 576.00V824.30M52.98 576.00V824.30M63.47 576.00V824.30M73.96 576.00V824.30M84.45 576.00V824.30M94.94 576.00V824.30M105.43 576.00V824.30M115.92 576.00V824.30M126.41 576.00V824.30M136.90 576.00V824.30M147.39 576.00V824.30M157.88 576.00V824.30M168.37 576.00V824.30M178.86 576.00V824.30M189.35 576.00V824.30M199.84 576.00V824.30M210.33 576.00V824.30M220.82 576.00V824.30M231.31 576.00V824.30M241.80 576.00V824.30M252.29 576.00V824.30M262.78 576.00V824.30M273.27 576.00V824.30M283.76 576.00V824.30M294.25 576.00V824.30M304.74 576.00V824.30M315.23 576.00V824.30M23.30 583.40H323.90M23.30 593.89H323.90M23.30 604.38H323.90M23.30 614.87H323.90M23.30 625.36H323.90M23.30 635.85H323.90M23.30 646.34H323.90M23.30 656.83H323.90M23.30 667.32H323.90M23.30 677.81H323.90M23.30 688.30H323.90M23.30 698.79H323.90M23.30 709.28H323.90M23.30 719.77H323.90M23.30 730.26H323.90M23.30 740.75H323.90M23.30 751.24H323.90M23.30 761.73H323.90M23.30 772.22H323.90M23.30 782.71H323.90M23.30 793.20H323.90M23.30 803.69H323.90M23.30 814.18H323.90" stroke="#e6e6e6" stroke-width="1" fill="none"/>
<path d="M22.30 678.90H325.90" stroke="#e4604f" stroke-width="1.30" fill="none"/>
<path d="M35.35 668.48 L36.80 667.76 L38.25 667.05 L39.70 666.33 L41.15 665.62 L42.60 664.91 L44.05 664.21 L45.50 663.51 L46.95 662.83 L48.41 662.15 L49.86 661.48 L51.33 660.82 L52.79 660.18 L54.26 659.56 L55.73 658.95 L57.21 658.35 L58.69 657.78 L60.18 657.22 L61.67 656.68 L63.17 656.16 L64.67 655.65 L66.18 655.17 L67.69 654.70 L69.21 654.26 L70.73 653.83 L72.25 653.43 L73.79 653.04 L75.32 652.68 L76.86 652.33 L78.41 652.01 L79.96 651.71 L81.51 651.43 L83.07 651.17 L84.64 650.94 L86.21 650.73 L87.78 650.54 L89.36 650.37 L90.94 650.23 L92.53 650.11 L94.12 650.02 L95.71 649.95 L97.32 649.90 L98.92 649.89 L100.53 649.89 L102.14 649.92 L103.76 649.98 L105.38 650.07 L107.00 650.18 L108.63 650.31 L110.25 650.47 L111.88 650.66 L113.50 650.87 L115.12 651.10 L116.75 651.36 L118.36 651.65 L119.98 651.96 L121.59 652.30 L123.20 652.66 L124.80 653.05 L126.40 653.46 L127.98 653.89 L129.56 654.35 L131.14 654.84 L132.70 655.35 L134.25 655.88 L135.80 656.44 L137.33 657.02 L138.85 657.63 L140.36 658.26 L141.85 658.92 L143.33 659.60 L144.80 660.30 L146.25 661.03 L147.69 661.78 L149.10 662.56 L150.50 663.35 L151.89 664.18 L153.25 665.02 L154.59 665.89 L155.92 666.79 L157.22 667.70 L158.50 668.64 L159.76 669.60 L161.00 670.59 L162.21 671.60 L163.40 672.63 L164.56 673.69 L165.70 674.76 L166.82 675.86 L167.91 676.98 L168.98 678.12 L170.03 679.29 L171.06 680.47 L172.06 681.67 L173.04 682.89 L174.00 684.13 L174.93 685.39 L175.85 686.66 L176.74 687.96 L177.61 689.27 L178.46 690.60 L179.28 691.94 L180.09 693.30 L180.88 694.67 L181.64 696.06 L182.39 697.47 L183.11 698.89 L183.82 700.32 L184.50 701.76 L185.16 703.22 L185.81 704.69 L186.43 706.17 L187.04 707.67 L187.63 709.17 L188.19 710.68 L188.74 712.21 L189.27 713.74 L189.78 715.29 L190.28 716.84 L190.75 718.40 L191.21 719.97 L191.65 721.55 L192.07 723.13 L192.48 724.72 L192.86 726.31 L193.23 727.92 L193.59 729.52 L193.92 731.13 L194.24 732.75 L194.55 734.37 L194.83 735.99 L195.10 737.62 L195.36 739.25 L195.60 740.88 L195.82 742.51 L196.03 744.14 L196.23 745.78 L196.41 747.41 L196.57 749.05 L196.72 750.68 L196.85 752.32 L196.98 753.95 L197.08 755.58 L197.17 757.21 L197.25 758.83 L197.32 760.45 L197.37 762.07 L197.41 763.68 L197.44 765.29 L197.45 766.90 L197.45 768.50 L197.44 770.09 L197.41 771.68 L197.38 773.26 L197.33 774.83 L197.27 776.40 L197.20 777.95 L197.11 779.50 L197.02 781.04 L196.91 782.57 L197.46 782.61 L197.57 781.08 L197.68 779.54 L197.77 777.98 L197.85 776.42 L197.91 774.85 L197.97 773.28 L198.01 771.69 L198.05 770.10 L198.07 768.50 L198.07 766.90 L198.07 765.29 L198.05 763.67 L198.02 762.05 L197.97 760.43 L197.91 758.80 L197.84 757.17 L197.76 755.54 L197.66 753.90 L197.54 752.26 L197.42 750.62 L197.27 748.98 L197.12 747.34 L196.94 745.70 L196.76 744.06 L196.55 742.42 L196.34 740.78 L196.10 739.14 L195.85 737.50 L195.59 735.86 L195.31 734.23 L195.01 732.60 L194.70 730.98 L194.37 729.36 L194.02 727.74 L193.65 726.13 L193.27 724.52 L192.87 722.92 L192.45 721.33 L192.02 719.74 L191.57 718.16 L191.10 716.59 L190.61 715.02 L190.10 713.47 L189.57 711.92 L189.03 710.38 L188.46 708.85 L187.88 707.33 L187.27 705.83 L186.65 704.33 L186.01 702.85 L185.34 701.37 L184.66 699.91 L183.96 698.46 L183.23 697.03 L182.49 695.61 L181.72 694.20 L180.93 692.81 L180.12 691.43 L179.29 690.07 L178.44 688.73 L177.57 687.40 L176.67 686.09 L175.75 684.79 L174.81 683.52 L173.85 682.26 L172.86 681.02 L171.85 679.79 L170.82 678.59 L169.76 677.41 L168.68 676.25 L167.58 675.11 L166.45 673.99 L165.30 672.89 L164.12 671.82 L162.92 670.77 L161.69 669.74 L160.45 668.73 L159.17 667.75 L157.88 666.79 L156.56 665.86 L155.22 664.95 L153.86 664.06 L152.49 663.20 L151.09 662.36 L149.67 661.54 L148.24 660.75 L146.79 659.98 L145.32 659.24 L143.84 658.52 L142.35 657.83 L140.83 657.16 L139.31 656.51 L137.77 655.89 L136.23 655.29 L134.67 654.72 L133.10 654.18 L131.52 653.65 L129.93 653.16 L128.33 652.68 L126.72 652.24 L125.11 651.81 L123.49 651.42 L121.87 651.04 L120.24 650.70 L118.60 650.37 L116.97 650.08 L115.33 649.81 L113.68 649.56 L112.04 649.34 L110.39 649.15 L108.75 648.98 L107.10 648.84 L105.46 648.72 L103.82 648.63 L102.18 648.56 L100.55 648.52 L98.92 648.51 L97.29 648.52 L95.67 648.56 L94.05 648.63 L92.44 648.71 L90.83 648.83 L89.22 648.97 L87.62 649.13 L86.03 649.31 L84.44 649.52 L82.85 649.75 L81.27 650.01 L79.70 650.29 L78.12 650.58 L76.56 650.91 L75.00 651.25 L73.44 651.61 L71.89 652.00 L70.34 652.40 L68.80 652.83 L67.26 653.27 L65.73 653.74 L64.20 654.22 L62.68 654.73 L61.16 655.25 L59.65 655.79 L58.15 656.35 L56.65 656.93 L55.15 657.52 L53.66 658.13 L52.18 658.76 L50.70 659.40 L49.22 660.06 L47.75 660.73 L46.29 661.41 L44.83 662.09 L43.37 662.79 L41.91 663.49 L40.45 664.20 L39.00 664.91 L37.55 665.62 L36.10 666.33 L34.64 667.04Z" fill="#d6252c"/>
<path d="M33.67 666.11 L35.04 665.24 L36.40 664.38 L37.77 663.51 L39.13 662.65 L40.50 661.80 L41.87 660.95 L43.25 660.10 L44.62 659.26 L46.00 658.42 L47.39 657.60 L48.77 656.77 L50.16 655.96 L51.56 655.15 L52.95 654.36 L54.36 653.57 L55.77 652.79 L57.18 652.02 L58.60 651.26 L60.02 650.51 L61.45 649.77 L62.88 649.05 L64.32 648.33 L65.77 647.62 L67.22 646.93 L68.67 646.25 L70.14 645.58 L71.60 644.92 L73.07 644.27 L74.55 643.64 L76.03 643.02 L77.52 642.42 L79.01 641.82 L80.51 641.24 L82.02 640.68 L83.53 640.13 L85.04 639.59 L86.56 639.07 L88.09 638.56 L89.62 638.07 L91.16 637.59 L92.71 637.13 L94.26 636.69 L95.81 636.26 L97.37 635.85 L98.94 635.45 L100.51 635.07 L102.09 634.71 L103.67 634.37 L105.26 634.04 L106.86 633.73 L108.46 633.44 L110.07 633.17 L111.68 632.92 L113.30 632.68 L114.92 632.47 L116.54 632.27 L118.17 632.10 L119.80 631.94 L121.44 631.81 L123.07 631.70 L124.71 631.60 L126.35 631.53 L127.99 631.48 L129.62 631.46 L131.26 631.45 L132.89 631.47 L134.53 631.51 L136.16 631.58 L137.79 631.66 L139.41 631.78 L141.03 631.91 L142.65 632.07 L144.26 632.26 L145.87 632.47 L147.47 632.70 L149.07 632.96 L150.66 633.25 L152.24 633.56 L153.81 633.90 L155.37 634.27 L156.93 634.66 L158.48 635.08 L160.01 635.53 L161.54 636.00 L163.06 636.50 L164.57 637.03 L166.06 637.59 L167.55 638.17 L169.02 638.78 L170.49 639.41 L171.94 640.07 L173.38 640.75 L174.80 641.46 L176.22 642.19 L177.62 642.95 L179.01 643.73 L180.38 644.53 L181.75 645.35 L183.09 646.20 L184.43 647.08 L185.75 647.97 L187.05 648.89 L188.34 649.82 L189.61 650.78 L190.87 651.76 L192.11 652.76 L193.34 653.78 L194.55 654.83 L195.74 655.89 L196.92 656.97 L198.08 658.07 L199.22 659.19 L200.34 660.33 L201.45 661.48 L202.53 662.66 L203.60 663.85 L204.65 665.06 L205.68 666.29 L206.69 667.53 L207.68 668.79 L208.65 670.07 L209.60 671.36 L210.53 672.67 L211.44 673.99 L212.33 675.33 L213.19 676.68 L214.03 678.05 L214.86 679.44 L215.66 680.83 L216.43 682.24 L217.19 683.67 L217.92 685.10 L218.62 686.55 L219.31 688.01 L219.97 689.49 L220.60 690.97 L221.21 692.47 L221.80 693.98 L222.36 695.50 L222.89 697.03 L223.40 698.57 L223.89 700.12 L224.34 701.68 L224.77 703.25 L225.18 704.83 L225.56 706.42 L225.90 708.01 L226.23 709.62 L226.52 711.23 L226.79 712.85 L227.02 714.48 L227.23 716.11 L227.41 717.75 L227.56 719.40 L227.68 721.06 L227.77 722.72 L227.83 724.38 L227.86 726.05 L227.86 727.73 L228.46 727.73 L228.47 726.05 L228.45 724.37 L228.40 722.69 L228.32 721.02 L228.21 719.35 L228.06 717.69 L227.89 716.04 L227.69 714.39 L227.46 712.75 L227.20 711.11 L226.92 709.49 L226.60 707.87 L226.26 706.26 L225.89 704.66 L225.49 703.06 L225.06 701.48 L224.61 699.90 L224.13 698.34 L223.63 696.78 L223.10 695.24 L222.54 693.70 L221.96 692.18 L221.35 690.66 L220.72 689.16 L220.06 687.67 L219.38 686.19 L218.67 684.73 L217.94 683.28 L217.19 681.84 L216.42 680.41 L215.62 678.99 L214.79 677.60 L213.95 676.21 L213.08 674.84 L212.20 673.48 L211.29 672.14 L210.36 670.82 L209.41 669.51 L208.43 668.21 L207.44 666.93 L206.43 665.67 L205.39 664.43 L204.34 663.20 L203.27 661.99 L202.18 660.80 L201.07 659.63 L199.94 658.47 L198.79 657.33 L197.63 656.21 L196.44 655.12 L195.24 654.04 L194.03 652.98 L192.79 651.94 L191.54 650.92 L190.27 649.92 L188.99 648.95 L187.69 647.99 L186.38 647.06 L185.05 646.15 L183.70 645.26 L182.34 644.39 L180.97 643.55 L179.58 642.73 L178.18 641.93 L176.77 641.16 L175.34 640.41 L173.90 639.69 L172.44 638.99 L170.97 638.31 L169.50 637.67 L168.00 637.04 L166.50 636.45 L164.99 635.87 L163.46 635.33 L161.93 634.81 L160.38 634.32 L158.82 633.86 L157.26 633.43 L155.68 633.02 L154.10 632.64 L152.50 632.29 L150.90 631.96 L149.29 631.67 L147.68 631.39 L146.06 631.15 L144.43 630.93 L142.80 630.73 L141.16 630.56 L139.52 630.42 L137.88 630.30 L136.23 630.20 L134.58 630.13 L132.92 630.08 L131.27 630.05 L129.61 630.05 L127.96 630.07 L126.30 630.11 L124.64 630.17 L122.99 630.26 L121.33 630.36 L119.68 630.49 L118.03 630.64 L116.38 630.81 L114.74 631.00 L113.10 631.21 L111.46 631.44 L109.83 631.68 L108.20 631.95 L106.58 632.24 L104.97 632.54 L103.36 632.86 L101.76 633.20 L100.16 633.56 L98.57 633.94 L96.98 634.33 L95.40 634.74 L93.83 635.16 L92.26 635.61 L90.70 636.06 L89.15 636.54 L87.60 637.03 L86.05 637.53 L84.51 638.05 L82.98 638.59 L81.45 639.14 L79.93 639.70 L78.41 640.28 L76.90 640.87 L75.40 641.48 L73.90 642.10 L72.41 642.73 L70.92 643.38 L69.44 644.03 L67.96 644.70 L66.49 645.38 L65.03 646.08 L63.57 646.78 L62.11 647.50 L60.66 648.23 L59.22 648.97 L57.78 649.72 L56.35 650.48 L54.92 651.24 L53.50 652.02 L52.08 652.81 L50.67 653.61 L49.27 654.42 L47.86 655.23 L46.47 656.05 L45.07 656.88 L43.69 657.71 L42.30 658.55 L40.92 659.40 L39.54 660.25 L38.16 661.10 L36.79 661.96 L35.42 662.82 L34.05 663.68 L32.68 664.55Z" fill="#10915e"/>
<path d="M33.55 665.17 L34.91 664.28 L36.27 663.39 L37.64 662.49 L39.00 661.59 L40.37 660.69 L41.74 659.79 L43.11 658.88 L44.48 657.98 L45.86 657.08 L47.24 656.18 L48.62 655.28 L50.01 654.37 L51.40 653.48 L52.79 652.58 L54.18 651.68 L55.58 650.79 L56.97 649.90 L58.38 649.01 L59.78 648.12 L61.19 647.24 L62.60 646.36 L64.02 645.49 L65.43 644.62 L66.86 643.75 L68.28 642.89 L69.71 642.04 L71.14 641.19 L72.57 640.35 L74.01 639.51 L75.46 638.68 L76.90 637.86 L78.35 637.04 L79.81 636.24 L81.26 635.44 L82.72 634.65 L84.19 633.86 L85.66 633.09 L87.13 632.32 L88.61 631.57 L90.09 630.82 L91.58 630.09 L93.07 629.36 L94.56 628.65 L96.06 627.94 L97.56 627.25 L99.07 626.57 L100.58 625.90 L102.10 625.25 L103.62 624.60 L105.14 623.97 L106.67 623.36 L108.21 622.75 L109.75 622.16 L111.29 621.59 L112.84 621.03 L114.40 620.48 L115.96 619.95 L117.52 619.44 L119.09 618.94 L120.67 618.45 L122.25 617.99 L123.84 617.54 L125.43 617.10 L127.02 616.69 L128.63 616.29 L130.23 615.91 L131.85 615.54 L133.46 615.20 L135.08 614.87 L136.71 614.57 L138.34 614.28 L139.97 614.01 L141.60 613.75 L143.24 613.52 L144.87 613.31 L146.52 613.11 L148.16 612.94 L149.80 612.79 L151.44 612.65 L153.09 612.54 L154.73 612.44 L156.38 612.37 L158.02 612.32 L159.67 612.28 L161.31 612.27 L162.95 612.28 L164.59 612.31 L166.23 612.37 L167.87 612.44 L169.50 612.54 L171.13 612.65 L172.76 612.79 L174.38 612.96 L176.00 613.14 L177.62 613.35 L179.23 613.58 L180.83 613.83 L182.43 614.11 L184.03 614.41 L185.62 614.73 L187.20 615.08 L188.78 615.45 L190.35 615.85 L191.92 616.27 L193.47 616.71 L195.02 617.18 L196.56 617.67 L198.09 618.19 L199.62 618.73 L201.13 619.30 L202.64 619.89 L204.13 620.51 L205.62 621.15 L207.09 621.82 L208.55 622.51 L210.00 623.22 L211.44 623.96 L212.86 624.73 L214.27 625.52 L215.66 626.33 L217.04 627.17 L218.41 628.03 L219.75 628.92 L221.09 629.83 L222.40 630.76 L223.70 631.72 L224.98 632.70 L226.23 633.70 L227.48 634.73 L228.70 635.79 L229.90 636.86 L231.08 637.96 L232.23 639.08 L233.37 640.23 L234.49 641.40 L235.58 642.59 L236.64 643.81 L237.69 645.05 L238.71 646.31 L239.70 647.60 L240.67 648.91 L241.61 650.24 L242.53 651.60 L243.42 652.97 L244.28 654.37 L245.11 655.80 L245.91 657.24 L246.69 658.71 L247.43 660.20 L248.15 661.72 L248.83 663.25 L249.49 664.81 L250.11 666.39 L250.69 668.00 L251.25 669.62 L251.77 671.27 L252.26 672.94 L252.71 674.63 L253.13 676.35 L253.76 676.20 L253.35 674.47 L252.90 672.76 L252.42 671.07 L251.91 669.41 L251.36 667.76 L250.77 666.14 L250.16 664.54 L249.51 662.97 L248.82 661.41 L248.11 659.88 L247.37 658.37 L246.59 656.88 L245.79 655.41 L244.96 653.97 L244.09 652.55 L243.20 651.15 L242.29 649.78 L241.34 648.43 L240.37 647.10 L239.37 645.79 L238.35 644.51 L237.30 643.25 L236.23 642.01 L235.13 640.80 L234.01 639.61 L232.87 638.44 L231.71 637.30 L230.52 636.18 L229.31 635.09 L228.09 634.02 L226.84 632.97 L225.57 631.94 L224.28 630.94 L222.98 629.97 L221.65 629.02 L220.31 628.09 L218.95 627.19 L217.58 626.31 L216.19 625.45 L214.78 624.62 L213.36 623.82 L211.93 623.03 L210.48 622.28 L209.02 621.55 L207.55 620.84 L206.06 620.16 L204.56 619.50 L203.06 618.87 L201.54 618.26 L200.01 617.68 L198.47 617.12 L196.92 616.59 L195.37 616.08 L193.80 615.60 L192.23 615.14 L190.65 614.71 L189.07 614.30 L187.47 613.92 L185.87 613.56 L184.27 613.22 L182.65 612.91 L181.04 612.62 L179.41 612.35 L177.79 612.11 L176.16 611.89 L174.52 611.70 L172.88 611.52 L171.23 611.37 L169.59 611.24 L167.94 611.14 L166.28 611.05 L164.63 610.99 L162.97 610.95 L161.31 610.93 L159.65 610.93 L157.99 610.96 L156.33 611.00 L154.67 611.07 L153.01 611.15 L151.34 611.26 L149.68 611.39 L148.02 611.54 L146.36 611.70 L144.70 611.89 L143.05 612.10 L141.39 612.32 L139.74 612.57 L138.09 612.83 L136.45 613.12 L134.80 613.42 L133.16 613.74 L131.53 614.08 L129.90 614.44 L128.27 614.81 L126.65 615.21 L125.04 615.62 L123.43 616.05 L121.82 616.50 L120.22 616.96 L118.63 617.44 L117.04 617.94 L115.46 618.45 L113.88 618.98 L112.31 619.52 L110.74 620.08 L109.18 620.65 L107.63 621.24 L106.07 621.84 L104.53 622.45 L102.99 623.08 L101.45 623.72 L99.92 624.37 L98.39 625.04 L96.87 625.72 L95.35 626.41 L93.84 627.11 L92.33 627.82 L90.82 628.55 L89.32 629.28 L87.83 630.02 L86.34 630.78 L84.85 631.54 L83.37 632.31 L81.89 633.09 L80.42 633.88 L78.95 634.68 L77.48 635.48 L76.02 636.30 L74.56 637.12 L73.11 637.94 L71.66 638.78 L70.22 639.62 L68.77 640.46 L67.34 641.32 L65.90 642.17 L64.47 643.03 L63.04 643.90 L61.62 644.77 L60.20 645.65 L58.78 646.53 L57.37 647.41 L55.96 648.29 L54.55 649.18 L53.15 650.07 L51.75 650.96 L50.35 651.86 L48.96 652.75 L47.57 653.65 L46.18 654.55 L44.80 655.45 L43.41 656.34 L42.03 657.24 L40.66 658.14 L39.28 659.04 L37.91 659.93 L36.55 660.83 L35.18 661.72 L33.82 662.61 L32.46 663.50Z" fill="#0c0908"/>
<path d="M102.14 650.04L105.28 657.69M141.77 659.10L141.93 662.57M167.72 677.17L166.98 679.53M183.52 700.46L182.49 702.04M192.10 724.81L191.09 725.91M195.97 747.46L195.17 748.22M196.95 765.30L196.37 765.87M97.38 635.86L102.51 642.34M137.78 631.78L139.15 634.97M168.95 638.96L169.20 641.42M193.16 653.99L192.86 655.85M210.25 672.86L209.70 674.24M221.42 694.12L220.84 695.06M226.07 711.31L225.58 711.96M94.54 628.60L100.80 633.99M135.09 614.93L137.22 617.67M167.86 612.59L168.94 614.82M196.49 617.89L196.91 619.72M219.59 629.17L219.58 630.65M237.40 645.29L237.16 646.36M247.05 660.39L246.76 661.15" stroke="#6f6f6f" stroke-opacity="0.5" stroke-width="0.9" fill="none"/>
<g clip-path="url(#cp7)">
<path d="M19.50 674.80L35.10 668.60" stroke="#d81a30" stroke-width="3.22" fill="none"/>
<path d="M19.50 672.61L32.30 664.70" stroke="#0a6e3e" stroke-width="2.60" fill="none"/>
<path d="M19.50 672.68L32.70 664.86" stroke="#070505" stroke-width="5.20" fill="none"/>
</g>
<clipPath id="cp7"><rect x="22.30" y="575.00" width="303.60" height="250.30"/></clipPath>
<circle cx="268.70" cy="670.50" r="5.95" fill="#231815"/>
<text x="278.40" y="675.00" textLength="25.50" lengthAdjust="spacingAndGlyphs" class="kg">1kg</text>
<circle cx="242.10" cy="740.80" r="5.95" fill="#12994a"/>
<text x="251.80" y="745.30" textLength="25.50" lengthAdjust="spacingAndGlyphs" class="kg">2kg</text>
<circle cx="212.00" cy="791.60" r="5.95" fill="#e60012"/>
<text x="221.70" y="796.10" textLength="25.50" lengthAdjust="spacingAndGlyphs" class="kg">4kg</text>
<text x="37.10" y="808.10" textLength="62.40" lengthAdjust="spacingAndGlyphs" class="lab">623B</text>
</g>
<g>
<rect x="348.20" y="575.00" width="303.10" height="250.30" fill="#fff"/>
<path d="M357.90 576.00V824.30M368.39 576.00V824.30M378.88 576.00V824.30M389.37 576.00V824.30M399.86 576.00V824.30M410.35 576.00V824.30M420.84 576.00V824.30M431.33 576.00V824.30M441.82 576.00V824.30M452.31 576.00V824.30M462.80 576.00V824.30M473.29 576.00V824.30M483.78 576.00V824.30M494.27 576.00V824.30M504.76 576.00V824.30M515.25 576.00V824.30M525.74 576.00V824.30M536.23 576.00V824.30M546.72 576.00V824.30M557.21 576.00V824.30M567.70 576.00V824.30M578.19 576.00V824.30M588.68 576.00V824.30M599.17 576.00V824.30M609.66 576.00V824.30M620.15 576.00V824.30M630.64 576.00V824.30M641.13 576.00V824.30M349.20 583.80H649.30M349.20 594.29H649.30M349.20 604.78H649.30M349.20 615.27H649.30M349.20 625.76H649.30M349.20 636.25H649.30M349.20 646.74H649.30M349.20 657.23H649.30M349.20 667.72H649.30M349.20 678.21H649.30M349.20 688.70H649.30M349.20 699.19H649.30M349.20 709.68H649.30M349.20 720.17H649.30M349.20 730.66H649.30M349.20 741.15H649.30M349.20 751.64H649.30M349.20 762.13H649.30M349.20 772.62H649.30M349.20 783.11H649.30M349.20 793.60H649.30M349.20 804.09H649.30M349.20 814.58H649.30" stroke="#e6e6e6" stroke-width="1" fill="none"/>
<path d="M348.20 678.90H651.30" stroke="#e4604f" stroke-width="1.30" fill="none"/>
<path d="M362.18 668.60 L363.64 667.97 L365.10 667.33 L366.56 666.70 L368.02 666.07 L369.49 665.45 L370.96 664.84 L372.44 664.23 L373.91 663.63 L375.39 663.04 L376.88 662.46 L378.37 661.89 L379.86 661.33 L381.35 660.78 L382.85 660.25 L384.35 659.73 L385.86 659.23 L387.37 658.74 L388.88 658.27 L390.40 657.81 L391.92 657.38 L393.44 656.96 L394.97 656.56 L396.50 656.19 L398.04 655.84 L399.58 655.51 L401.13 655.20 L402.68 654.92 L404.24 654.66 L405.80 654.43 L407.36 654.22 L408.93 654.04 L410.50 653.88 L412.07 653.74 L413.65 653.64 L415.22 653.56 L416.80 653.50 L418.38 653.47 L419.95 653.46 L421.53 653.48 L423.11 653.52 L424.68 653.59 L426.25 653.69 L427.82 653.81 L429.39 653.96 L430.95 654.13 L432.51 654.33 L434.06 654.55 L435.61 654.80 L437.15 655.08 L438.69 655.38 L440.22 655.71 L441.74 656.06 L443.26 656.44 L444.76 656.84 L446.26 657.27 L447.75 657.73 L449.23 658.21 L450.70 658.72 L452.16 659.26 L453.61 659.82 L455.05 660.41 L456.47 661.02 L457.89 661.66 L459.28 662.33 L460.67 663.02 L462.04 663.74 L463.40 664.49 L464.74 665.26 L466.07 666.06 L467.38 666.89 L468.68 667.74 L469.95 668.62 L471.22 669.52 L472.46 670.45 L473.70 671.40 L474.91 672.38 L476.10 673.38 L477.28 674.40 L478.45 675.45 L479.59 676.52 L480.72 677.60 L481.83 678.71 L482.92 679.84 L483.99 680.99 L485.04 682.16 L486.08 683.35 L487.10 684.56 L488.09 685.78 L489.07 687.02 L490.03 688.28 L490.97 689.56 L491.89 690.85 L492.79 692.16 L493.67 693.49 L494.53 694.82 L495.36 696.18 L496.18 697.54 L496.98 698.92 L497.75 700.31 L498.51 701.72 L499.24 703.13 L499.95 704.56 L500.64 706.00 L501.31 707.45 L501.95 708.91 L502.58 710.38 L503.18 711.85 L503.75 713.34 L504.31 714.83 L504.84 716.33 L505.35 717.84 L505.84 719.36 L506.31 720.88 L506.76 722.41 L507.19 723.95 L507.60 725.49 L507.99 727.04 L508.37 728.60 L508.72 730.16 L509.06 731.72 L509.38 733.29 L509.69 734.87 L509.98 736.44 L510.25 738.03 L510.51 739.61 L510.75 741.20 L510.98 742.79 L511.19 744.38 L511.39 745.98 L511.58 747.58 L511.76 749.18 L511.92 750.78 L512.07 752.38 L512.21 753.98 L512.34 755.59 L512.46 757.19 L512.57 758.79 L512.67 760.39 L512.77 762.00 L512.85 763.60 L512.92 765.20 L512.99 766.79 L513.05 768.39 L513.10 769.98 L513.15 771.57 L513.19 773.16 L513.23 774.74 L513.26 776.32 L513.29 777.90 L513.31 779.47 L513.33 781.04 L513.35 782.61 L513.36 784.17 L513.37 785.72 L513.38 787.27 L513.39 788.81 L513.40 790.34 L513.41 791.87 L513.41 793.39 L513.96 793.39 L513.97 791.87 L513.97 790.34 L513.97 788.81 L513.97 787.26 L513.97 785.72 L513.97 784.16 L513.97 782.60 L513.96 781.04 L513.95 779.47 L513.94 777.89 L513.92 776.31 L513.90 774.73 L513.88 773.15 L513.85 771.56 L513.81 769.96 L513.76 768.37 L513.71 766.77 L513.66 765.17 L513.59 763.56 L513.52 761.96 L513.44 760.35 L513.35 758.74 L513.25 757.14 L513.14 755.53 L513.02 753.92 L512.89 752.31 L512.75 750.70 L512.59 749.09 L512.43 747.48 L512.25 745.88 L512.05 744.27 L511.85 742.67 L511.63 741.07 L511.40 739.47 L511.15 737.88 L510.88 736.29 L510.60 734.70 L510.31 733.11 L509.99 731.53 L509.66 729.95 L509.31 728.38 L508.95 726.81 L508.56 725.25 L508.16 723.69 L507.73 722.14 L507.29 720.59 L506.83 719.05 L506.34 717.52 L505.83 715.99 L505.31 714.47 L504.76 712.96 L504.18 711.46 L503.58 709.96 L502.97 708.47 L502.32 707.00 L501.66 705.53 L500.97 704.07 L500.26 702.62 L499.53 701.18 L498.77 699.76 L498.00 698.35 L497.20 696.95 L496.38 695.56 L495.54 694.19 L494.68 692.83 L493.80 691.48 L492.90 690.15 L491.98 688.84 L491.03 687.54 L490.07 686.26 L489.09 684.99 L488.08 683.75 L487.06 682.52 L486.02 681.30 L484.96 680.11 L483.87 678.94 L482.77 677.79 L481.66 676.65 L480.52 675.54 L479.36 674.45 L478.19 673.38 L477.00 672.34 L475.79 671.32 L474.56 670.32 L473.31 669.34 L472.05 668.39 L470.77 667.46 L469.48 666.56 L468.16 665.68 L466.83 664.83 L465.48 664.01 L464.12 663.22 L462.74 662.45 L461.35 661.71 L459.94 660.99 L458.52 660.30 L457.09 659.64 L455.64 659.01 L454.18 658.40 L452.71 657.82 L451.23 657.27 L449.73 656.74 L448.23 656.24 L446.72 655.77 L445.19 655.32 L443.66 654.90 L442.12 654.51 L440.57 654.14 L439.02 653.80 L437.46 653.48 L435.89 653.19 L434.31 652.93 L432.73 652.69 L431.15 652.48 L429.56 652.30 L427.97 652.14 L426.37 652.01 L424.77 651.90 L423.17 651.82 L421.57 651.77 L419.97 651.74 L418.36 651.74 L416.76 651.76 L415.15 651.81 L413.55 651.89 L411.94 651.99 L410.34 652.11 L408.74 652.27 L407.15 652.44 L405.55 652.65 L403.96 652.88 L402.38 653.13 L400.80 653.41 L399.22 653.72 L397.65 654.04 L396.08 654.40 L394.52 654.77 L392.97 655.16 L391.42 655.58 L389.87 656.01 L388.33 656.47 L386.80 656.94 L385.27 657.42 L383.74 657.93 L382.22 658.45 L380.70 658.98 L379.19 659.52 L377.68 660.08 L376.18 660.65 L374.68 661.23 L373.19 661.82 L371.70 662.42 L370.21 663.02 L368.73 663.63 L367.25 664.25 L365.78 664.88 L364.31 665.50 L362.84 666.14 L361.38 666.77Z" fill="#d6252c"/>
<path d="M359.72 666.22 L361.10 665.37 L362.48 664.52 L363.86 663.68 L365.24 662.84 L366.63 662.00 L368.02 661.17 L369.41 660.35 L370.80 659.53 L372.20 658.72 L373.60 657.92 L375.01 657.12 L376.42 656.34 L377.83 655.56 L379.25 654.80 L380.68 654.05 L382.11 653.30 L383.54 652.57 L384.98 651.86 L386.43 651.15 L387.88 650.46 L389.34 649.78 L390.80 649.11 L392.27 648.46 L393.75 647.82 L395.23 647.19 L396.72 646.58 L398.21 645.99 L399.71 645.41 L401.21 644.84 L402.72 644.29 L404.24 643.76 L405.76 643.24 L407.29 642.74 L408.82 642.26 L410.36 641.79 L411.90 641.34 L413.45 640.91 L415.01 640.50 L416.57 640.10 L418.14 639.73 L419.71 639.37 L421.29 639.03 L422.87 638.71 L424.46 638.42 L426.06 638.14 L427.66 637.88 L429.27 637.65 L430.88 637.43 L432.50 637.24 L434.13 637.06 L435.76 636.91 L437.39 636.79 L439.03 636.68 L440.67 636.59 L442.31 636.53 L443.96 636.49 L445.60 636.47 L447.25 636.48 L448.90 636.50 L450.54 636.55 L452.19 636.63 L453.83 636.72 L455.47 636.84 L457.11 636.99 L458.75 637.15 L460.38 637.34 L462.00 637.55 L463.63 637.79 L465.24 638.05 L466.85 638.34 L468.46 638.65 L470.05 638.98 L471.64 639.34 L473.22 639.72 L474.80 640.13 L476.36 640.56 L477.91 641.01 L479.45 641.50 L480.98 642.00 L482.50 642.54 L484.01 643.09 L485.50 643.68 L486.98 644.29 L488.45 644.92 L489.90 645.58 L491.34 646.27 L492.76 646.98 L494.17 647.72 L495.56 648.48 L496.93 649.28 L498.28 650.09 L499.62 650.94 L500.93 651.81 L502.23 652.71 L503.52 653.63 L504.78 654.58 L506.02 655.55 L507.25 656.55 L508.46 657.57 L509.65 658.61 L510.82 659.68 L511.97 660.76 L513.11 661.87 L514.22 663.00 L515.32 664.16 L516.40 665.33 L517.46 666.52 L518.50 667.73 L519.52 668.96 L520.52 670.21 L521.50 671.48 L522.46 672.77 L523.40 674.07 L524.33 675.39 L525.23 676.73 L526.11 678.08 L526.98 679.45 L527.82 680.83 L528.65 682.23 L529.45 683.64 L530.23 685.06 L531.00 686.50 L531.74 687.95 L532.46 689.42 L533.17 690.89 L533.85 692.38 L534.51 693.87 L535.15 695.38 L535.77 696.90 L536.37 698.43 L536.95 699.96 L537.51 701.51 L538.04 703.06 L538.56 704.62 L539.05 706.19 L539.53 707.76 L539.98 709.34 L540.41 710.93 L540.82 712.52 L541.20 714.12 L541.57 715.72 L541.91 717.33 L542.23 718.94 L542.53 720.55 L542.81 722.16 L543.07 723.78 L543.30 725.40 L543.51 727.02 L543.70 728.64 L543.87 730.26 L544.02 731.88 L544.14 733.51 L544.24 735.13 L544.31 736.74 L544.37 738.36 L544.40 739.97 L544.41 741.58 L544.40 743.19 L544.36 744.80 L544.96 744.81 L545.01 743.20 L545.03 741.59 L545.04 739.97 L545.02 738.34 L544.97 736.72 L544.91 735.09 L544.82 733.46 L544.70 731.83 L544.57 730.20 L544.41 728.57 L544.23 726.93 L544.03 725.30 L543.81 723.67 L543.56 722.04 L543.29 720.42 L543.00 718.79 L542.69 717.17 L542.36 715.55 L542.00 713.94 L541.62 712.33 L541.22 710.72 L540.80 709.12 L540.36 707.52 L539.89 705.93 L539.40 704.35 L538.90 702.78 L538.37 701.21 L537.82 699.65 L537.24 698.09 L536.65 696.55 L536.03 695.02 L535.40 693.49 L534.74 691.98 L534.06 690.47 L533.37 688.98 L532.65 687.50 L531.91 686.03 L531.15 684.57 L530.36 683.13 L529.56 681.70 L528.74 680.28 L527.90 678.88 L527.03 677.49 L526.15 676.12 L525.25 674.76 L524.32 673.42 L523.38 672.10 L522.41 670.79 L521.43 669.50 L520.42 668.23 L519.40 666.98 L518.35 665.74 L517.29 664.53 L516.21 663.33 L515.10 662.16 L513.98 661.00 L512.84 659.87 L511.68 658.76 L510.49 657.67 L509.29 656.60 L508.07 655.56 L506.83 654.54 L505.58 653.55 L504.30 652.57 L503.00 651.63 L501.69 650.71 L500.35 649.81 L499.00 648.94 L497.63 648.10 L496.24 647.29 L494.83 646.50 L493.40 645.74 L491.96 645.00 L490.51 644.30 L489.03 643.62 L487.55 642.96 L486.05 642.33 L484.53 641.73 L483.01 641.15 L481.47 640.60 L479.91 640.08 L478.35 639.58 L476.78 639.10 L475.20 638.66 L473.60 638.23 L472.00 637.83 L470.39 637.46 L468.77 637.11 L467.15 636.79 L465.51 636.49 L463.87 636.21 L462.23 635.96 L460.58 635.74 L458.93 635.53 L457.27 635.36 L455.61 635.20 L453.94 635.07 L452.28 634.96 L450.61 634.88 L448.94 634.82 L447.27 634.78 L445.60 634.76 L443.93 634.77 L442.26 634.80 L440.60 634.86 L438.93 634.93 L437.27 635.03 L435.61 635.15 L433.96 635.29 L432.31 635.46 L430.66 635.65 L429.03 635.85 L427.39 636.08 L425.76 636.34 L424.14 636.61 L422.53 636.90 L420.92 637.21 L419.31 637.55 L417.72 637.90 L416.12 638.27 L414.54 638.66 L412.96 639.07 L411.38 639.50 L409.82 639.95 L408.25 640.41 L406.70 640.89 L405.15 641.39 L403.60 641.91 L402.06 642.44 L400.53 642.99 L399.01 643.55 L397.49 644.13 L395.97 644.72 L394.46 645.33 L392.96 645.96 L391.46 646.60 L389.97 647.25 L388.49 647.92 L387.01 648.60 L385.54 649.29 L384.07 650.00 L382.61 650.72 L381.16 651.45 L379.71 652.19 L378.27 652.94 L376.83 653.71 L375.40 654.48 L373.97 655.27 L372.55 656.06 L371.14 656.86 L369.73 657.67 L368.32 658.49 L366.92 659.31 L365.52 660.14 L364.12 660.97 L362.73 661.81 L361.34 662.65 L359.95 663.50 L358.57 664.34Z" fill="#10915e"/>
<path d="M359.55 665.08 L360.88 664.19 L362.22 663.31 L363.56 662.41 L364.90 661.52 L366.24 660.62 L367.57 659.72 L368.91 658.82 L370.25 657.91 L371.59 657.00 L372.93 656.10 L374.28 655.19 L375.62 654.28 L376.96 653.37 L378.31 652.46 L379.66 651.55 L381.00 650.64 L382.35 649.73 L383.70 648.83 L385.06 647.92 L386.41 647.02 L387.77 646.12 L389.13 645.22 L390.49 644.32 L391.85 643.43 L393.21 642.54 L394.58 641.66 L395.95 640.77 L397.32 639.90 L398.70 639.03 L400.08 638.16 L401.46 637.30 L402.84 636.44 L404.23 635.59 L405.62 634.75 L407.01 633.91 L408.40 633.08 L409.80 632.26 L411.21 631.44 L412.61 630.63 L414.02 629.83 L415.44 629.04 L416.85 628.26 L418.28 627.49 L419.70 626.72 L421.13 625.97 L422.57 625.22 L424.00 624.49 L425.45 623.77 L426.89 623.05 L428.35 622.35 L429.80 621.66 L431.26 620.99 L432.73 620.32 L434.20 619.67 L435.68 619.03 L437.16 618.40 L438.65 617.79 L440.14 617.19 L441.64 616.60 L443.14 616.03 L444.65 615.47 L446.17 614.93 L447.69 614.40 L449.21 613.89 L450.75 613.40 L452.29 612.92 L453.83 612.45 L455.38 612.01 L456.94 611.58 L458.50 611.17 L460.07 610.77 L461.64 610.39 L463.22 610.03 L464.80 609.69 L466.39 609.37 L467.98 609.06 L469.57 608.77 L471.17 608.50 L472.77 608.25 L474.37 608.01 L475.98 607.80 L477.59 607.60 L479.19 607.43 L480.81 607.27 L482.42 607.13 L484.03 607.01 L485.64 606.91 L487.26 606.83 L488.87 606.77 L490.49 606.74 L492.10 606.72 L493.71 606.72 L495.33 606.74 L496.94 606.78 L498.55 606.85 L500.15 606.94 L501.76 607.04 L503.36 607.17 L504.96 607.32 L506.56 607.49 L508.16 607.69 L509.75 607.90 L511.33 608.14 L512.92 608.40 L514.50 608.69 L516.07 608.99 L517.64 609.32 L519.21 609.67 L520.76 610.05 L522.32 610.45 L523.86 610.87 L525.40 611.31 L526.93 611.78 L528.45 612.27 L529.96 612.79 L531.47 613.33 L532.96 613.89 L534.45 614.47 L535.92 615.08 L537.38 615.71 L538.83 616.37 L540.27 617.05 L541.69 617.75 L543.11 618.48 L544.51 619.23 L545.89 620.00 L547.26 620.80 L548.62 621.63 L549.95 622.47 L551.28 623.34 L552.59 624.24 L553.88 625.16 L555.15 626.10 L556.40 627.07 L557.64 628.06 L558.86 629.08 L560.05 630.12 L561.23 631.19 L562.39 632.28 L563.53 633.39 L564.64 634.53 L565.74 635.70 L566.81 636.89 L567.86 638.10 L568.88 639.34 L569.88 640.61 L570.86 641.90 L571.81 643.21 L572.74 644.55 L573.64 645.92 L574.52 647.31 L575.37 648.72 L576.19 650.16 L576.99 651.63 L577.75 653.12 L578.49 654.64 L579.20 656.19 L579.88 657.76 L580.53 659.36 L581.13 659.11 L580.49 657.50 L579.81 655.92 L579.11 654.35 L578.37 652.82 L577.61 651.31 L576.82 649.82 L576.00 648.36 L575.15 646.92 L574.27 645.51 L573.37 644.13 L572.44 642.77 L571.49 641.43 L570.51 640.13 L569.50 638.84 L568.48 637.58 L567.42 636.35 L566.35 635.14 L565.25 633.95 L564.13 632.79 L562.99 631.66 L561.83 630.55 L560.64 629.46 L559.44 628.40 L558.21 627.37 L556.97 626.36 L555.71 625.37 L554.43 624.41 L553.13 623.47 L551.81 622.56 L550.48 621.67 L549.13 620.80 L547.77 619.96 L546.38 619.14 L544.99 618.35 L543.58 617.58 L542.16 616.84 L540.72 616.12 L539.27 615.42 L537.81 614.75 L536.33 614.10 L534.85 613.48 L533.35 612.88 L531.85 612.30 L530.33 611.75 L528.80 611.22 L527.27 610.71 L525.72 610.23 L524.17 609.77 L522.61 609.34 L521.05 608.92 L519.47 608.54 L517.90 608.17 L516.31 607.83 L514.72 607.51 L513.13 607.21 L511.53 606.94 L509.93 606.69 L508.32 606.46 L506.71 606.25 L505.09 606.07 L503.48 605.91 L501.86 605.77 L500.24 605.65 L498.61 605.55 L496.99 605.48 L495.36 605.43 L493.73 605.39 L492.10 605.38 L490.47 605.39 L488.84 605.42 L487.20 605.47 L485.57 605.54 L483.94 605.63 L482.31 605.74 L480.68 605.87 L479.05 606.02 L477.43 606.19 L475.80 606.38 L474.18 606.59 L472.56 606.81 L470.94 607.06 L469.32 607.32 L467.71 607.60 L466.10 607.91 L464.50 608.22 L462.90 608.56 L461.30 608.92 L459.71 609.29 L458.12 609.68 L456.54 610.09 L454.97 610.51 L453.40 610.95 L451.83 611.41 L450.27 611.89 L448.72 612.38 L447.18 612.89 L445.64 613.41 L444.10 613.95 L442.58 614.50 L441.05 615.07 L439.54 615.66 L438.03 616.25 L436.52 616.86 L435.02 617.49 L433.53 618.13 L432.04 618.78 L430.56 619.44 L429.08 620.12 L427.61 620.80 L426.14 621.50 L424.68 622.21 L423.22 622.93 L421.77 623.66 L420.32 624.41 L418.88 625.16 L417.44 625.92 L416.00 626.69 L414.57 627.47 L413.14 628.26 L411.72 629.06 L410.30 629.86 L408.88 630.68 L407.47 631.50 L406.07 632.32 L404.66 633.16 L403.26 634.00 L401.86 634.85 L400.47 635.70 L399.08 636.56 L397.69 637.42 L396.31 638.29 L394.92 639.16 L393.54 640.04 L392.17 640.92 L390.80 641.81 L389.42 642.70 L388.06 643.59 L386.69 644.48 L385.33 645.38 L383.96 646.28 L382.60 647.18 L381.25 648.08 L379.89 648.98 L378.54 649.88 L377.19 650.79 L375.84 651.69 L374.49 652.60 L373.14 653.50 L371.79 654.40 L370.45 655.31 L369.11 656.21 L367.76 657.11 L366.42 658.00 L365.08 658.90 L363.74 659.79 L362.40 660.68 L361.07 661.56 L359.73 662.45 L358.39 663.33Z" fill="#0c0908"/>
<path d="M427.82 653.77L430.52 661.58M466.03 666.13L465.73 669.59M489.89 688.39L488.87 690.64M502.93 711.95L501.79 713.44M509.64 736.50L508.56 737.53M512.16 758.82L511.34 759.54M512.79 776.33L512.21 776.90M424.44 638.30L429.08 645.14M465.24 638.06L466.27 641.38M495.50 648.58L495.47 651.06M517.30 666.66L516.72 668.45M531.48 688.08L530.74 689.37M539.62 709.44L538.96 710.32M543.08 727.07L542.56 727.70M418.23 627.41L424.77 632.46M456.95 611.61L459.26 614.19M488.88 606.90L490.13 609.03M517.60 609.53L518.20 611.31M541.56 618.01L541.74 619.49M560.98 631.45L560.89 632.55M572.39 644.79L572.21 645.58" stroke="#6f6f6f" stroke-opacity="0.5" stroke-width="0.9" fill="none"/>
<g clip-path="url(#cp8)">
<path d="M345.00 674.80L362.00 668.60" stroke="#d81a30" stroke-width="3.22" fill="none"/>
<path d="M345.00 672.53L358.30 664.68" stroke="#0a6e3e" stroke-width="2.60" fill="none"/>
<path d="M345.00 672.60L358.70 664.84" stroke="#070505" stroke-width="5.20" fill="none"/>
</g>
<clipPath id="cp8"><rect x="348.20" y="575.00" width="303.10" height="250.30"/></clipPath>
<circle cx="587.90" cy="669.10" r="5.95" fill="#231815"/>
<text x="597.60" y="673.60" textLength="25.50" lengthAdjust="spacingAndGlyphs" class="kg">1kg</text>
<circle cx="557.70" cy="750.60" r="5.95" fill="#12994a"/>
<text x="567.40" y="755.10" textLength="25.50" lengthAdjust="spacingAndGlyphs" class="kg">3kg</text>
<circle cx="528.50" cy="802.00" r="5.95" fill="#e60012"/>
<text x="538.20" y="806.50" textLength="25.50" lengthAdjust="spacingAndGlyphs" class="kg">6kg</text>
<text x="362.10" y="808.10" textLength="63.00" lengthAdjust="spacingAndGlyphs" class="lab">624B</text>
</g>
<g>
<rect x="674.00" y="575.00" width="303.00" height="250.30" fill="#fff"/>
<path d="M683.70 576.00V824.30M694.19 576.00V824.30M704.68 576.00V824.30M715.17 576.00V824.30M725.66 576.00V824.30M736.15 576.00V824.30M746.64 576.00V824.30M757.13 576.00V824.30M767.62 576.00V824.30M778.11 576.00V824.30M788.60 576.00V824.30M799.09 576.00V824.30M809.58 576.00V824.30M820.07 576.00V824.30M830.56 576.00V824.30M841.05 576.00V824.30M851.54 576.00V824.30M862.03 576.00V824.30M872.52 576.00V824.30M883.01 576.00V824.30M893.50 576.00V824.30M903.99 576.00V824.30M914.48 576.00V824.30M924.97 576.00V824.30M935.46 576.00V824.30M945.95 576.00V824.30M956.44 576.00V824.30M966.93 576.00V824.30M675.00 583.70H975.00M675.00 594.19H975.00M675.00 604.68H975.00M675.00 615.17H975.00M675.00 625.66H975.00M675.00 636.15H975.00M675.00 646.64H975.00M675.00 657.13H975.00M675.00 667.62H975.00M675.00 678.11H975.00M675.00 688.60H975.00M675.00 699.09H975.00M675.00 709.58H975.00M675.00 720.07H975.00M675.00 730.56H975.00M675.00 741.05H975.00M675.00 751.54H975.00M675.00 762.03H975.00M675.00 772.52H975.00M675.00 783.01H975.00M675.00 793.50H975.00M675.00 803.99H975.00M675.00 814.48H975.00" stroke="#e6e6e6" stroke-width="1" fill="none"/>
<path d="M674.00 678.90H977.00" stroke="#e4604f" stroke-width="1.30" fill="none"/>
<path d="M702.33 660.13 L703.37 659.72 L704.42 659.32 L705.47 658.93 L706.52 658.55 L707.57 658.17 L708.63 657.81 L709.70 657.46 L710.76 657.11 L711.83 656.78 L712.90 656.45 L713.98 656.14 L715.05 655.83 L716.13 655.54 L717.21 655.25 L718.30 654.97 L719.38 654.71 L720.47 654.45 L721.56 654.21 L722.65 653.97 L723.74 653.75 L724.84 653.53 L725.93 653.33 L727.03 653.14 L728.12 652.95 L729.22 652.78 L730.32 652.62 L731.41 652.48 L732.51 652.34 L733.61 652.21 L734.71 652.10 L735.81 651.99 L736.90 651.90 L738.00 651.82 L739.09 651.75 L740.19 651.70 L741.28 651.65 L742.38 651.62 L743.47 651.60 L744.56 651.59 L745.64 651.60 L746.73 651.61 L747.81 651.64 L748.90 651.68 L749.98 651.74 L751.05 651.81 L752.13 651.89 L753.20 651.98 L754.27 652.08 L755.34 652.20 L756.40 652.33 L757.46 652.48 L758.52 652.64 L759.57 652.81 L760.62 653.00 L761.67 653.20 L762.71 653.41 L763.74 653.64 L764.78 653.88 L765.81 654.13 L766.83 654.40 L767.85 654.68 L768.86 654.98 L769.87 655.29 L770.88 655.62 L771.88 655.96 L772.87 656.31 L773.86 656.68 L774.84 657.07 L775.81 657.47 L776.78 657.88 L777.75 658.31 L778.71 658.76 L779.66 659.22 L780.60 659.69 L781.54 660.18 L782.47 660.69 L783.39 661.21 L784.31 661.75 L785.22 662.30 L786.12 662.87 L787.02 663.45 L787.91 664.05 L788.79 664.66 L789.66 665.28 L790.53 665.92 L791.39 666.57 L792.24 667.24 L793.08 667.91 L793.92 668.61 L794.75 669.31 L795.57 670.03 L796.38 670.76 L797.18 671.50 L797.97 672.25 L798.76 673.01 L799.54 673.79 L800.31 674.58 L801.06 675.38 L801.82 676.19 L802.56 677.01 L803.29 677.84 L804.01 678.68 L804.73 679.53 L805.43 680.39 L806.13 681.26 L806.81 682.14 L807.49 683.03 L808.15 683.93 L808.81 684.83 L809.45 685.75 L810.09 686.67 L810.72 687.60 L811.33 688.54 L811.94 689.49 L812.53 690.44 L813.11 691.40 L813.69 692.37 L814.25 693.35 L814.80 694.33 L815.34 695.32 L815.87 696.31 L816.39 697.31 L816.90 698.32 L817.39 699.33 L817.88 700.35 L818.35 701.37 L818.81 702.39 L819.26 703.43 L819.70 704.46 L820.12 705.50 L820.54 706.54 L820.94 707.59 L821.33 708.64 L821.70 709.70 L822.07 710.75 L822.42 711.81 L822.76 712.88 L823.09 713.94 L823.40 715.01 L823.70 716.08 L823.99 717.15 L824.27 718.23 L824.53 719.30 L824.78 720.38 L825.01 721.45 L825.24 722.53 L825.44 723.61 L825.64 724.69 L825.82 725.77 L825.99 726.84 L826.14 727.92 L826.28 729.00 L826.41 730.08 L826.52 731.15 L826.61 732.23 L826.70 733.30 L826.77 734.37 L826.82 735.44 L826.86 736.51 L827.66 736.49 L827.63 735.41 L827.59 734.33 L827.54 733.25 L827.47 732.16 L827.38 731.07 L827.28 729.99 L827.17 728.90 L827.04 727.81 L826.90 726.71 L826.74 725.62 L826.57 724.53 L826.39 723.44 L826.19 722.35 L825.98 721.25 L825.76 720.16 L825.52 719.07 L825.27 717.98 L825.00 716.89 L824.72 715.81 L824.43 714.72 L824.13 713.64 L823.81 712.56 L823.48 711.48 L823.14 710.40 L822.78 709.33 L822.41 708.26 L822.03 707.19 L821.64 706.12 L821.23 705.06 L820.81 704.00 L820.38 702.95 L819.94 701.90 L819.49 700.86 L819.02 699.82 L818.54 698.78 L818.05 697.75 L817.55 696.73 L817.04 695.71 L816.51 694.69 L815.98 693.69 L815.43 692.68 L814.87 691.69 L814.30 690.70 L813.72 689.72 L813.13 688.74 L812.53 687.78 L811.92 686.82 L811.29 685.86 L810.66 684.92 L810.01 683.98 L809.36 683.05 L808.69 682.13 L808.02 681.22 L807.33 680.32 L806.63 679.43 L805.93 678.55 L805.21 677.67 L804.49 676.81 L803.75 675.95 L803.01 675.11 L802.25 674.28 L801.49 673.45 L800.71 672.64 L799.93 671.84 L799.14 671.05 L798.34 670.27 L797.53 669.51 L796.71 668.76 L795.88 668.01 L795.04 667.28 L794.20 666.57 L793.34 665.86 L792.48 665.17 L791.61 664.50 L790.73 663.83 L789.84 663.18 L788.94 662.55 L788.04 661.93 L787.12 661.32 L786.20 660.73 L785.28 660.15 L784.34 659.59 L783.40 659.04 L782.44 658.51 L781.48 657.99 L780.52 657.49 L779.55 657.01 L778.57 656.54 L777.58 656.09 L776.59 655.65 L775.59 655.23 L774.58 654.82 L773.57 654.43 L772.55 654.05 L771.53 653.69 L770.50 653.35 L769.47 653.02 L768.43 652.70 L767.38 652.40 L766.33 652.11 L765.28 651.84 L764.22 651.58 L763.16 651.33 L762.09 651.10 L761.02 650.89 L759.94 650.68 L758.87 650.50 L757.78 650.32 L756.70 650.16 L755.61 650.02 L754.51 649.88 L753.42 649.76 L752.32 649.66 L751.22 649.56 L750.12 649.48 L749.01 649.42 L747.90 649.36 L746.79 649.32 L745.68 649.29 L744.56 649.28 L743.45 649.27 L742.33 649.28 L741.21 649.31 L740.09 649.34 L738.97 649.39 L737.85 649.44 L736.73 649.52 L735.60 649.60 L734.48 649.69 L733.36 649.80 L732.23 649.92 L731.11 650.05 L729.99 650.19 L728.86 650.34 L727.74 650.51 L726.62 650.68 L725.50 650.87 L724.38 651.06 L723.26 651.27 L722.14 651.49 L721.02 651.72 L719.91 651.96 L718.80 652.21 L717.69 652.48 L716.58 652.75 L715.47 653.03 L714.36 653.32 L713.26 653.63 L712.16 653.94 L711.07 654.26 L709.97 654.60 L708.88 654.94 L707.79 655.29 L706.71 655.66 L705.63 656.03 L704.55 656.41 L703.48 656.80 L702.41 657.20 L701.35 657.61Z" fill="#d6252c"/>
<path d="M696.54 658.94 L697.54 658.35 L698.54 657.76 L699.55 657.18 L700.56 656.60 L701.57 656.02 L702.59 655.46 L703.61 654.89 L704.63 654.33 L705.66 653.78 L706.69 653.23 L707.72 652.69 L708.76 652.15 L709.80 651.62 L710.84 651.10 L711.88 650.58 L712.93 650.07 L713.98 649.56 L715.04 649.06 L716.09 648.57 L717.15 648.08 L718.21 647.61 L719.28 647.13 L720.34 646.67 L721.41 646.21 L722.48 645.76 L723.55 645.32 L724.63 644.88 L725.71 644.46 L726.78 644.04 L727.87 643.63 L728.95 643.22 L730.03 642.83 L731.12 642.44 L732.21 642.06 L733.30 641.69 L734.39 641.33 L735.48 640.98 L736.58 640.64 L737.67 640.31 L738.77 639.98 L739.87 639.67 L740.97 639.36 L742.07 639.07 L743.17 638.78 L744.28 638.50 L745.38 638.24 L746.49 637.98 L747.59 637.74 L748.70 637.50 L749.81 637.28 L750.91 637.06 L752.02 636.86 L753.13 636.67 L754.24 636.48 L755.35 636.31 L756.46 636.15 L757.57 636.01 L758.68 635.87 L759.80 635.74 L760.91 635.63 L762.02 635.53 L763.13 635.44 L764.24 635.36 L765.35 635.30 L766.46 635.24 L767.58 635.20 L768.69 635.17 L769.80 635.16 L770.91 635.16 L772.02 635.17 L773.13 635.19 L774.23 635.23 L775.34 635.28 L776.45 635.34 L777.55 635.42 L778.66 635.51 L779.76 635.61 L780.87 635.73 L781.97 635.86 L783.07 636.01 L784.17 636.17 L785.27 636.34 L786.37 636.53 L787.47 636.74 L788.57 636.96 L789.66 637.19 L790.75 637.44 L791.84 637.70 L792.94 637.98 L794.02 638.28 L795.11 638.59 L796.20 638.91 L797.28 639.26 L798.36 639.61 L799.44 639.99 L800.52 640.38 L801.60 640.78 L802.67 641.21 L803.74 641.65 L804.81 642.10 L805.88 642.57 L806.94 643.06 L807.99 643.56 L809.05 644.08 L810.09 644.61 L811.13 645.16 L812.17 645.73 L813.19 646.31 L814.21 646.90 L815.22 647.51 L816.23 648.13 L817.22 648.77 L818.20 649.42 L819.18 650.09 L820.14 650.77 L821.09 651.46 L822.04 652.17 L822.97 652.89 L823.88 653.62 L824.79 654.37 L825.68 655.13 L826.55 655.91 L827.42 656.69 L828.26 657.49 L829.09 658.30 L829.91 659.12 L830.71 659.96 L831.49 660.81 L832.26 661.67 L833.00 662.54 L833.73 663.42 L834.44 664.31 L835.13 665.22 L835.80 666.13 L836.45 667.06 L837.08 668.00 L837.69 668.94 L838.28 669.90 L838.85 670.87 L839.40 671.85 L839.93 672.84 L840.45 673.84 L840.95 674.84 L841.45 675.85 L841.94 676.87 L842.43 677.89 L842.91 678.91 L843.39 679.94 L843.87 680.97 L844.35 681.99 L844.84 683.02 L845.33 684.04 L845.83 685.06 L846.35 686.08 L846.88 687.09 L847.42 688.10 L847.98 689.09 L848.56 690.08 L849.16 691.06 L849.93 690.60 L849.35 689.62 L848.79 688.64 L848.25 687.65 L847.73 686.65 L847.22 685.64 L846.72 684.63 L846.24 683.61 L845.76 682.58 L845.29 681.56 L844.82 680.53 L844.35 679.50 L843.89 678.46 L843.42 677.43 L842.94 676.40 L842.46 675.37 L841.98 674.34 L841.48 673.32 L840.96 672.30 L840.43 671.29 L839.89 670.29 L839.32 669.29 L838.74 668.30 L838.13 667.32 L837.49 666.36 L836.84 665.40 L836.17 664.45 L835.47 663.52 L834.76 662.60 L834.03 661.69 L833.27 660.79 L832.50 659.90 L831.72 659.03 L830.91 658.16 L830.09 657.31 L829.25 656.47 L828.40 655.65 L827.53 654.83 L826.64 654.03 L825.74 653.25 L824.83 652.47 L823.91 651.71 L822.97 650.97 L822.02 650.23 L821.05 649.51 L820.08 648.81 L819.10 648.12 L818.10 647.44 L817.09 646.78 L816.08 646.13 L815.06 645.49 L814.03 644.88 L812.99 644.27 L811.94 643.68 L810.88 643.11 L809.82 642.55 L808.76 642.01 L807.69 641.48 L806.61 640.97 L805.53 640.48 L804.44 640.00 L803.35 639.54 L802.26 639.09 L801.16 638.66 L800.07 638.25 L798.97 637.86 L797.87 637.48 L796.76 637.11 L795.66 636.77 L794.55 636.44 L793.44 636.12 L792.33 635.82 L791.21 635.54 L790.10 635.27 L788.98 635.02 L787.86 634.78 L786.74 634.56 L785.62 634.35 L784.49 634.16 L783.37 633.98 L782.24 633.82 L781.12 633.67 L779.99 633.53 L778.86 633.41 L777.73 633.31 L776.60 633.22 L775.46 633.14 L774.33 633.07 L773.20 633.02 L772.06 632.99 L770.93 632.96 L769.79 632.95 L768.66 632.95 L767.52 632.97 L766.38 633.00 L765.25 633.04 L764.11 633.09 L762.97 633.16 L761.84 633.24 L760.70 633.33 L759.56 633.43 L758.42 633.55 L757.29 633.67 L756.15 633.81 L755.02 633.96 L753.88 634.12 L752.75 634.30 L751.61 634.48 L750.48 634.68 L749.35 634.88 L748.21 635.10 L747.08 635.33 L745.95 635.56 L744.82 635.81 L743.69 636.07 L742.57 636.34 L741.44 636.62 L740.31 636.91 L739.19 637.21 L738.07 637.52 L736.95 637.84 L735.83 638.16 L734.71 638.50 L733.59 638.85 L732.48 639.20 L731.37 639.56 L730.26 639.94 L729.15 640.32 L728.04 640.71 L726.93 641.11 L725.83 641.51 L724.73 641.93 L723.63 642.35 L722.53 642.78 L721.44 643.22 L720.35 643.67 L719.26 644.12 L718.17 644.58 L717.08 645.05 L716.00 645.53 L714.92 646.01 L713.85 646.50 L712.77 647.00 L711.70 647.50 L710.63 648.01 L709.57 648.53 L708.51 649.05 L707.45 649.58 L706.39 650.11 L705.34 650.65 L704.29 651.20 L703.24 651.75 L702.20 652.31 L701.16 652.87 L700.13 653.44 L699.10 654.01 L698.07 654.59 L697.05 655.18 L696.03 655.76 L695.01 656.36Z" fill="#10915e"/>
<path d="M695.26 657.07 L696.10 656.43 L696.94 655.78 L697.77 655.13 L698.61 654.47 L699.44 653.82 L700.27 653.16 L701.10 652.50 L701.93 651.84 L702.76 651.18 L703.58 650.52 L704.41 649.85 L705.23 649.19 L706.06 648.52 L706.88 647.86 L707.70 647.19 L708.52 646.53 L709.35 645.86 L710.17 645.20 L710.99 644.53 L711.81 643.87 L712.64 643.20 L713.46 642.54 L714.28 641.88 L715.11 641.22 L715.93 640.56 L716.76 639.90 L717.58 639.24 L718.41 638.59 L719.24 637.93 L720.07 637.28 L720.90 636.63 L721.74 635.98 L722.57 635.33 L723.40 634.69 L724.24 634.04 L725.08 633.40 L725.92 632.76 L726.76 632.12 L727.60 631.48 L728.44 630.85 L729.29 630.22 L730.13 629.58 L730.98 628.96 L731.83 628.33 L732.68 627.70 L733.53 627.08 L734.38 626.46 L735.24 625.84 L736.09 625.23 L736.95 624.62 L737.81 624.01 L738.67 623.40 L739.54 622.79 L740.40 622.19 L741.27 621.59 L742.14 620.99 L743.01 620.40 L743.88 619.80 L744.75 619.21 L745.63 618.63 L746.50 618.04 L747.38 617.46 L748.27 616.89 L749.15 616.31 L750.03 615.74 L750.92 615.17 L751.81 614.61 L752.70 614.04 L753.59 613.48 L754.49 612.93 L755.39 612.38 L756.29 611.83 L757.19 611.28 L758.09 610.74 L759.00 610.20 L759.91 609.66 L760.82 609.13 L761.73 608.60 L762.65 608.08 L763.57 607.56 L764.49 607.04 L765.41 606.53 L766.33 606.02 L767.26 605.51 L768.19 605.01 L769.12 604.51 L770.06 604.02 L770.99 603.53 L771.93 603.04 L772.87 602.56 L773.81 602.08 L774.76 601.60 L775.70 601.13 L776.65 600.66 L777.60 600.19 L778.56 599.73 L779.51 599.27 L780.47 598.82 L781.43 598.37 L782.39 597.93 L783.35 597.48 L784.31 597.04 L785.28 596.61 L786.25 596.18 L787.22 595.75 L788.19 595.33 L789.16 594.91 L790.14 594.49 L791.11 594.08 L792.09 593.67 L793.07 593.27 L794.05 592.87 L795.04 592.47 L796.02 592.08 L797.01 591.69 L797.99 591.31 L798.98 590.93 L799.97 590.55 L800.97 590.18 L801.96 589.81 L802.95 589.45 L803.95 589.08 L804.95 588.73 L805.95 588.37 L806.95 588.02 L807.95 587.68 L808.95 587.34 L809.96 587.00 L810.96 586.67 L811.97 586.34 L812.98 586.01 L813.99 585.69 L815.00 585.37 L816.01 585.06 L817.02 584.75 L818.03 584.44 L819.05 584.14 L820.06 583.84 L821.08 583.55 L822.10 583.26 L823.12 582.98 L824.14 582.70 L825.16 582.42 L826.18 582.14 L827.20 581.88 L828.22 581.61 L829.25 581.35 L830.27 581.09 L831.30 580.84 L832.32 580.59 L833.35 580.35 L834.38 580.11 L835.40 579.87 L836.43 579.64 L837.46 579.41 L838.49 579.18 L839.52 578.96 L840.55 578.75 L841.59 578.54 L841.41 577.65 L840.37 577.85 L839.34 578.06 L838.30 578.27 L837.26 578.48 L836.23 578.70 L835.19 578.92 L834.16 579.14 L833.13 579.37 L832.09 579.61 L831.06 579.85 L830.03 580.09 L829.00 580.33 L827.97 580.58 L826.94 580.84 L825.91 581.10 L824.88 581.36 L823.85 581.63 L822.82 581.90 L821.80 582.17 L820.77 582.45 L819.75 582.73 L818.72 583.02 L817.70 583.31 L816.68 583.61 L815.66 583.91 L814.64 584.21 L813.62 584.52 L812.61 584.83 L811.59 585.15 L810.57 585.46 L809.56 585.79 L808.55 586.12 L807.54 586.45 L806.53 586.78 L805.52 587.12 L804.51 587.47 L803.50 587.81 L802.50 588.17 L801.49 588.52 L800.49 588.88 L799.49 589.25 L798.49 589.61 L797.49 589.98 L796.49 590.36 L795.50 590.74 L794.50 591.12 L793.51 591.51 L792.52 591.90 L791.53 592.30 L790.54 592.70 L789.55 593.10 L788.57 593.51 L787.59 593.92 L786.60 594.33 L785.62 594.75 L784.65 595.17 L783.67 595.60 L782.70 596.03 L781.72 596.47 L780.75 596.90 L779.78 597.35 L778.81 597.79 L777.85 598.24 L776.89 598.70 L775.92 599.15 L774.96 599.62 L774.01 600.08 L773.05 600.55 L772.10 601.02 L771.15 601.50 L770.20 601.98 L769.25 602.46 L768.30 602.95 L767.36 603.44 L766.42 603.94 L765.48 604.44 L764.54 604.94 L763.61 605.45 L762.68 605.96 L761.75 606.48 L760.82 606.99 L759.89 607.52 L758.97 608.04 L758.05 608.57 L757.13 609.11 L756.21 609.64 L755.30 610.18 L754.39 610.73 L753.48 611.27 L752.57 611.82 L751.67 612.38 L750.76 612.93 L749.86 613.49 L748.96 614.06 L748.07 614.62 L747.17 615.19 L746.28 615.77 L745.39 616.34 L744.50 616.92 L743.61 617.50 L742.73 618.09 L741.84 618.67 L740.96 619.26 L740.08 619.86 L739.21 620.45 L738.33 621.05 L737.46 621.65 L736.58 622.25 L735.71 622.86 L734.84 623.47 L733.98 624.08 L733.11 624.69 L732.25 625.30 L731.39 625.92 L730.52 626.54 L729.67 627.16 L728.81 627.79 L727.95 628.41 L727.10 629.04 L726.24 629.67 L725.39 630.30 L724.54 630.94 L723.69 631.57 L722.85 632.21 L722.00 632.85 L721.16 633.49 L720.31 634.13 L719.47 634.78 L718.63 635.42 L717.79 636.07 L716.95 636.72 L716.11 637.37 L715.28 638.02 L714.44 638.68 L713.61 639.33 L712.78 639.99 L711.95 640.64 L711.11 641.30 L710.29 641.96 L709.46 642.62 L708.63 643.28 L707.80 643.94 L706.97 644.59 L706.14 645.25 L705.32 645.91 L704.49 646.57 L703.66 647.23 L702.83 647.88 L702.01 648.54 L701.18 649.19 L700.35 649.85 L699.52 650.50 L698.69 651.15 L697.86 651.80 L697.02 652.44 L696.19 653.09 L695.35 653.73 L694.52 654.37 L693.68 655.01Z" fill="#0c0908"/>
<path d="M748.91 651.35L751.91 659.05M775.89 657.30L776.13 660.76M794.79 669.26L794.26 671.69M808.11 683.96L807.37 685.69M816.76 698.39L816.01 699.67M822.52 712.95L821.89 713.85M825.32 724.74L824.83 725.39M741.96 638.62L747.11 645.08M770.91 634.86L772.45 637.97M794.07 638.13L794.63 640.54M812.18 645.70L812.24 647.58M827.36 656.75L827.11 658.22M837.53 669.04L837.15 670.07M843.14 680.05L842.84 680.81M730.80 628.70L737.97 632.80M753.50 613.33L756.47 615.14M772.84 602.50L774.89 603.90M789.18 594.95L790.70 596.05M804.99 588.85L806.18 589.75M819.11 584.35L820.00 585.00M830.34 581.37L831.02 581.81" stroke="#6f6f6f" stroke-opacity="0.5" stroke-width="0.9" fill="none"/>
<g clip-path="url(#cp9)">
<path d="M672 675.2L701.6 660.1" stroke="#d81a30" stroke-width="3.1" fill="none"/>
<path d="M674 671.6L699 657.8" stroke="#0a6e3e" stroke-width="2.6" fill="none"/>
<path d="M675.2 669.1L694.6 656.6" stroke="#070505" stroke-width="4.1" fill="none"/>
<path d="M672 672L677 669" stroke="#070505" stroke-width="3" fill="none"/>
</g>
<clipPath id="cp9"><rect x="674.00" y="575.00" width="303.00" height="250.30"/></clipPath>
<circle cx="856.50" cy="591.10" r="5.95" fill="#231815"/>
<text x="866.20" y="595.60" textLength="25.50" lengthAdjust="spacingAndGlyphs" class="kg">1kg</text>
<circle cx="860.10" cy="698.70" r="5.95" fill="#12994a"/>
<text x="869.80" y="703.20" textLength="25.50" lengthAdjust="spacingAndGlyphs" class="kg">6kg</text>
<circle cx="837.40" cy="749.30" r="5.95" fill="#e60012"/>
<text x="847.10" y="753.80" textLength="34.70" lengthAdjust="spacingAndGlyphs" class="kg">12kg</text>
<text x="687.90" y="808.10" textLength="62.60" lengthAdjust="spacingAndGlyphs" class="lab">526B</text>
</g>
</svg>
</body></html>
